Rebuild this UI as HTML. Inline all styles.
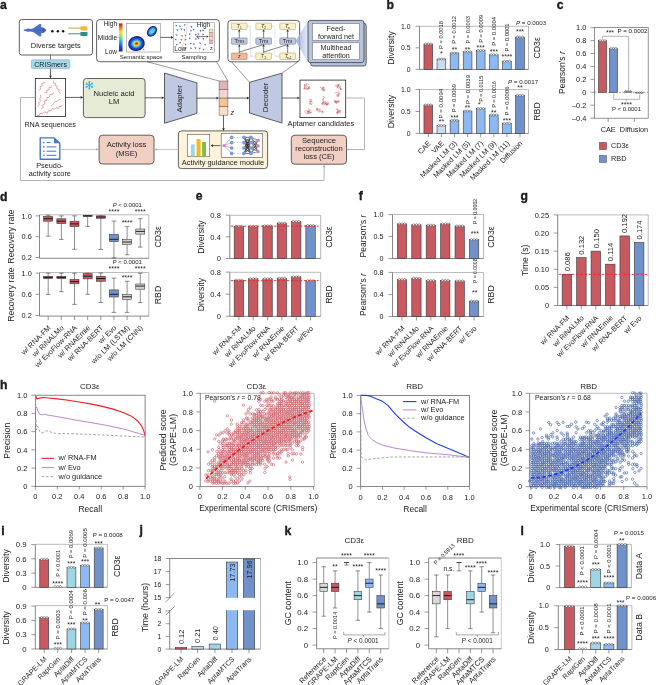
<!DOCTYPE html>
<html><head><meta charset="utf-8"><style>
html,body{margin:0;padding:0;background:#fff;width:656px;height:685px;overflow:hidden}
svg{display:block;will-change:transform}
text{font-family:"Liberation Sans", sans-serif;fill:#222}
</style></head><body>
<svg width="656" height="685" viewBox="0 0 656 685">
<rect width="656" height="685" fill="#fff"/>
<text x="0" y="8.9" font-size="12.2" font-weight="bold" fill="#000" stroke="#000" stroke-width="0.3">a</text>
<rect x="19.3" y="19.5" width="73.2" height="35.5" fill="#fff" stroke="#3a3a3a" stroke-width="0.8" rx="2.5"/>
<path d="M23.6,30.2 C23.6,29.4 25.5,29.1 27,28.9 C28,28.4 29.2,28.5 30,29.0 C31,28.9 32,28.7 33.2,28.3 L39.2,24.2 C40.2,23.8 41.2,24.2 41.4,25.0 L41.0,27.2 C43.5,27.4 46.2,28.6 46.2,30.2 C46.2,31.8 43.5,33.0 41.0,33.2 L41.4,35.4 C41.2,36.2 40.2,36.6 39.2,36.2 L33.2,32.1 C32,31.7 31,31.5 30,31.4 C29.2,31.9 28,32.0 27,31.5 C25.5,31.3 23.6,31.0 23.6,30.2 Z" fill="#4a70c8" />
<path d="M35,30.2 L44.5,30.2" fill="none" stroke="#3558a8" stroke-width="0.6" />
<circle cx="43.3" cy="30.2" r="1.5" fill="#3a5cb0"/>
<circle cx="52.4" cy="31.2" r="1.2" fill="#111"/>
<circle cx="57.9" cy="31.2" r="1.2" fill="#111"/>
<circle cx="63.1" cy="31.2" r="1.2" fill="#111"/>
<line x1="68.3" y1="28.1" x2="81" y2="28.1" stroke="#d8902c" stroke-width="0.9"/>
<rect x="80.4" y="26.3" width="7.1" height="4.1" fill="#f4b843" rx="0.6"/>
<line x1="68.3" y1="33.8" x2="81" y2="33.8" stroke="#2f7f78" stroke-width="0.9"/>
<rect x="80.4" y="31.9" width="7.1" height="4" fill="#2d8f86" rx="0.6"/>
<text x="55.8" y="47.5" font-size="7.45" text-anchor="middle" fill="#2a2a2a">Diverse targets</text>
<line x1="50.5" y1="55" x2="50.5" y2="59.8" stroke="#3a3a3a" stroke-width="0.7"/>
<rect x="31.3" y="59.8" width="38.5" height="8.8" fill="#a9d8ea" stroke="#6a9db5" stroke-width="0.5" rx="1.5"/>
<text x="50.6" y="66.5" font-size="7.1" text-anchor="middle" fill="#2a2a2a">CRISmers</text>
<line x1="50.5" y1="68.6" x2="50.5" y2="75.8" stroke="#222" stroke-width="0.7"/>
<polygon points="50.5,78.2 49.2,75.8 51.8,75.8" fill="#222"/>
<rect x="35.3" y="78.4" width="30.3" height="38.1" fill="#fff" stroke="#222" stroke-width="0.8"/>
<polyline points="38.57,90.07 40.76,89.09 40.04,86.81 42.19,85.91 41.65,83.69 43.85,83.11 44,81.3" fill="none" stroke="#d4585a" stroke-width="0.55" stroke-linejoin="round"/>
<polyline points="44.35,92.32 46.65,92.35 46.75,90.05 49.15,89.97 48.85,87.66 51.15,87.24 51.5,85.4" fill="none" stroke="#d4585a" stroke-width="0.55" stroke-linejoin="round"/>
<polyline points="53.78,80.58 53.27,82.8 55.48,83.33 54.97,85.55 57.19,86.1 56.81,88.65 59.19,89.6 58.86,92.2 60.6,93.6" fill="none" stroke="#d4585a" stroke-width="0.55" stroke-linejoin="round"/>
<polyline points="37.53,106.53 39.14,104.97 38.86,102.73 40.5,101.04 39.67,98.89 40.83,96.91 40.5,94.8" fill="none" stroke="#d4585a" stroke-width="0.55" stroke-linejoin="round"/>
<polyline points="41.06,108.89 43.34,107.58 42.66,105.04 44.94,103.73 44.38,101 46.96,100.33 47.04,97.67 49.53,97.1 50.03,94.5 52.67,94.3 53.7,92.3" fill="none" stroke="#d4585a" stroke-width="0.55" stroke-linejoin="round"/>
<polyline points="50.98,105.9 53.32,104.25 54.87,101.73 57,101.33 58.6,99.87 60.6,99.2" fill="none" stroke="#d4585a" stroke-width="0.55" stroke-linejoin="round"/>
<polyline points="36.7,115.11 39.13,115.56 39.97,113.24 42.08,113.8 44.42,111.95 47.43,113.17 48.4,110.66 51.1,110.84 52.36,108.21 54.48,109.45 56.02,107.55 58.45,108.66 59.05,106.31 61.45,106.59 62.5,104.9" fill="none" stroke="#d4585a" stroke-width="0.55" stroke-linejoin="round"/>
<text x="50.2" y="126.7" font-size="7.2" text-anchor="middle" fill="#2a2a2a">RNA sequences</text>
<line x1="65.6" y1="97.4" x2="80.6" y2="97.4" stroke="#222" stroke-width="0.7"/>
<polygon points="83.2,97.4 80.6,98.7 80.6,96.1" fill="#222"/>
<rect x="83.4" y="78.5" width="61.7" height="39.1" fill="#e6ebd6" stroke="#3a3a3a" stroke-width="0.8" rx="3"/>
<line x1="89.3" y1="85.3" x2="92.94" y2="87.4" stroke="#2aaee4" stroke-width="1"/>
<line x1="91.55" y1="86.6" x2="92.99" y2="86.19" stroke="#2aaee4" stroke-width="0.7"/>
<line x1="91.55" y1="86.6" x2="91.92" y2="88.05" stroke="#2aaee4" stroke-width="0.7"/>
<line x1="89.3" y1="85.3" x2="89.3" y2="89.5" stroke="#2aaee4" stroke-width="1"/>
<line x1="89.3" y1="87.9" x2="90.38" y2="88.95" stroke="#2aaee4" stroke-width="0.7"/>
<line x1="89.3" y1="87.9" x2="88.22" y2="88.95" stroke="#2aaee4" stroke-width="0.7"/>
<line x1="89.3" y1="85.3" x2="85.66" y2="87.4" stroke="#2aaee4" stroke-width="1"/>
<line x1="87.05" y1="86.6" x2="86.68" y2="88.05" stroke="#2aaee4" stroke-width="0.7"/>
<line x1="87.05" y1="86.6" x2="85.61" y2="86.19" stroke="#2aaee4" stroke-width="0.7"/>
<line x1="89.3" y1="85.3" x2="85.66" y2="83.2" stroke="#2aaee4" stroke-width="1"/>
<line x1="87.05" y1="84" x2="85.61" y2="84.41" stroke="#2aaee4" stroke-width="0.7"/>
<line x1="87.05" y1="84" x2="86.68" y2="82.55" stroke="#2aaee4" stroke-width="0.7"/>
<line x1="89.3" y1="85.3" x2="89.3" y2="81.1" stroke="#2aaee4" stroke-width="1"/>
<line x1="89.3" y1="82.7" x2="88.22" y2="81.65" stroke="#2aaee4" stroke-width="0.7"/>
<line x1="89.3" y1="82.7" x2="90.38" y2="81.65" stroke="#2aaee4" stroke-width="0.7"/>
<line x1="89.3" y1="85.3" x2="92.94" y2="83.2" stroke="#2aaee4" stroke-width="1"/>
<line x1="91.55" y1="84" x2="91.92" y2="82.55" stroke="#2aaee4" stroke-width="0.7"/>
<line x1="91.55" y1="84" x2="92.99" y2="84.41" stroke="#2aaee4" stroke-width="0.7"/>
<text x="114" y="95.5" font-size="7.65" text-anchor="middle" fill="#2a2a2a">Nucleic acid</text>
<text x="114" y="104.4" font-size="7.65" text-anchor="middle" fill="#2a2a2a">LM</text>
<line x1="145.1" y1="97.8" x2="161.7" y2="97.8" stroke="#222" stroke-width="0.7"/>
<polygon points="164.3,97.8 161.7,99.1 161.7,96.5" fill="#222"/>
<polygon points="164.5,73 196.9,82.9 196.9,113.4 164.5,123.3" fill="#c0c9e2" stroke="#3a3a3a" stroke-width="0.8" stroke-linejoin="round"/>
<text x="182.21" y="98.9" font-size="7.8" text-anchor="middle" transform="rotate(-90 182.21 98.9)" fill="#2a2a2a">Adapter</text>
<line x1="196.9" y1="98.1" x2="216.4" y2="98.1" stroke="#222" stroke-width="0.7"/>
<polygon points="219,98.1 216.4,99.4 216.4,96.8" fill="#222"/>
<rect x="219.1" y="81" width="8.8" height="8.55" fill="#e3b3b4" stroke="#555" stroke-width="0.5"/>
<rect x="219.1" y="89.55" width="8.8" height="8.55" fill="#f2d5d7" stroke="#555" stroke-width="0.5"/>
<rect x="219.1" y="98.1" width="8.8" height="8.55" fill="#f7c390" stroke="#555" stroke-width="0.5"/>
<rect x="219.1" y="106.65" width="8.8" height="8.55" fill="#fbe0c4" stroke="#555" stroke-width="0.5"/>
<text x="230.4" y="115" font-size="7" fill="#333" font-style="italic">z</text>
<line x1="223.5" y1="115.2" x2="223.5" y2="128.3" stroke="#222" stroke-width="0.7"/>
<polygon points="223.5,130.9 222.2,128.3 224.8,128.3" fill="#222"/>
<line x1="227.9" y1="98.1" x2="246.9" y2="98.1" stroke="#222" stroke-width="0.7"/>
<polygon points="249.5,98.1 246.9,99.4 246.9,96.8" fill="#222"/>
<polygon points="249.5,82.3 282,73.2 282,123.1 249.5,113" fill="#c0c9e2" stroke="#3a3a3a" stroke-width="0.8" stroke-linejoin="round"/>
<text x="268.01" y="97.5" font-size="7.8" text-anchor="middle" transform="rotate(-90 268.01 97.5)" fill="#2a2a2a">Decoder</text>
<line x1="282" y1="98" x2="297.4" y2="98" stroke="#222" stroke-width="0.7"/>
<polygon points="300,98 297.4,99.3 297.4,96.7" fill="#222"/>
<rect x="300" y="80.1" width="45.7" height="37.5" fill="#fff" stroke="#222" stroke-width="0.8"/>
<polyline points="306.8,87.5 307.26,88.1 307.38,88.83 308.13,88.86 308.88,88.97 309.6,88.76 309.5,88.01 309.42,87.27 308.67,87.28 307.94,87.44 307.97,88.19 308.7,88.36 309.45,88.36 309.06,87.71 308.32,87.84 307.95,88.49 307.35,88.94 306.82,88.41 306.44,87.77 305.87,87.28 306.32,86.69 305.79,86.16 306.05,85.46 305.81,84.75 305.06,84.67 304.73,85.34 304.85,86.08 304.28,86.57 304.4,87.31 304.33,88.06 303.95,88.7 303.85,89.44 304.06,88.72 304.73,89.05 305.17,88.44 304.93,87.73 305.12,87.01 305.13,86.26 304.73,85.63 304.51,84.91 304.18,84.23 304.85,84.58 304.96,85.32 304.6,85.98 304.85,86.69 304.91,87.44 304.92,88.19 304.22,88.47 304.93,88.73 305.64,88.49 305.9,89.19 306.65,89.19 307.37,88.98 308.01,89.38 308.65,88.98 309.27,88.55 308.91,87.9 308.93,87.15 309.51,86.67 308.84,87 308.29,86.49 307.55,86.38 307.01,85.85 306.66,85.19 306.48,84.46 306.21,83.76 306.7,83.2 307.33,83.6 307.99,83.94 308.4,84.58 309.09,84.28" fill="none" stroke="#c4504e" stroke-width="0.4" stroke-linejoin="round"/>
<polyline points="320,88 320.12,87.26 320.86,87.39 321.13,88.09 321.79,88.45 322.53,88.56 323.11,89.04 323.61,88.48 324.04,87.86 323.71,87.19 322.96,87.27 322.92,88.02 322.33,88.48 322.54,89.2 323.2,89.55 323.95,89.65 324.13,90.38 323.38,90.4 322.64,90.53 321.89,90.55 321.62,89.85 322.08,89.25 322.81,89.44 323.48,89.1 324.04,88.6 324.32,87.91 323.57,87.87 323.53,87.13 322.83,86.84 322.23,87.29 322.18,88.03 322.71,88.57 323.26,89.07 323.65,89.71 324.37,89.91 324.19,90.64 324.2,91.39 323.88,90.71 323.72,89.97 324.43,89.73 323.71,89.52" fill="none" stroke="#c4504e" stroke-width="0.4" stroke-linejoin="round"/>
<polyline points="337.6,87.1 336.93,86.76 336.55,86.11 335.86,86.4 335.38,85.82 335.54,85.09 336.28,84.97 336.81,85.5 337.48,85.83 338.23,85.92 338.54,85.24 339.11,84.75 338.72,84.1 338.01,84.37 337.81,85.09 338.34,85.61 339.07,85.8 339.36,85.11 338.66,84.84 338.11,85.35 338.44,86.02 339.02,86.5 339.52,85.94 340.22,86.21 340.78,86.71 340.09,87 339.81,87.69 339.89,88.44 340.27,89.08 341.01,88.95 340.57,88.35 341.18,87.91 340.62,88.41 340.09,88.94 340.48,89.58 341.2,89.4 340.65,89.91 340.71,89.16 341.38,88.84 341.35,89.59 340.61,89.52 340.58,88.78 340.61,88.03 339.95,87.67 339.34,87.23 338.87,87.81 338.34,88.35 337.79,87.85 338.03,87.14 338.64,86.7 338.78,85.97 338.61,85.24 337.89,85.04 337.57,84.36 337.81,85.07 337.41,85.7 337.4,86.45 337.97,86.94 337.87,87.68 337.12,87.59 336.88,86.89" fill="none" stroke="#c4504e" stroke-width="0.4" stroke-linejoin="round"/>
<polyline points="336.1,95 336.83,94.85 337.47,95.25 338.18,95.02 338.91,94.84 339.47,94.34 339.02,93.75 338.4,94.17 338.19,94.89 338.55,95.55 338.46,96.29 337.71,96.28 336.97,96.4 336.73,95.69 337.44,95.44 337.77,96.12 338.35,96.59 339.08,96.43 339.43,95.77 339.08,95.1 338.34,95 337.69,94.62 337.87,93.89 338.6,93.72 339.32,93.49 340.06,93.63 339.75,92.95 339.01,93.09 338.3,92.84 338.35,92.09 337.73,92.51 337,92.36 336.26,92.26 335.79,92.84 335.04,92.82 334.38,93.18" fill="none" stroke="#c4504e" stroke-width="0.4" stroke-linejoin="round"/>
<polyline points="309.4,101.5 310.13,101.69 310.87,101.63 311.57,101.34 311.95,101.99 311.81,102.73 312.38,103.21 311.72,103.56 311.75,104.31 311.04,104.55 310.45,104.08 309.78,104.42 309.15,104.01 309.54,103.37 310.19,102.99 310.6,102.36 311.09,101.8 310.76,101.13 310.08,101.45 309.72,100.79 309.7,100.04 309.75,99.29 310.49,99.2 311.2,98.95 311.69,99.52 311.45,100.23 311.87,100.85 311.14,100.72 310.47,101.06 310.28,101.79 309.9,102.43 310.07,103.16 310.43,103.82 311.17,103.75 311.44,104.45 311.99,104.95" fill="none" stroke="#c4504e" stroke-width="0.4" stroke-linejoin="round"/>
<polyline points="323.9,100.9 323.15,100.9 322.95,100.18 322.57,99.53 323.11,99.01 323.66,98.5 324.25,98.04 324.88,97.63 324.49,96.99 323.98,96.43 323.24,96.57 323.39,97.31 322.88,97.85 323.09,98.57 323.37,99.27 323.12,99.97 322.74,100.62 322.77,101.37 322.75,102.12 322.59,102.86 321.92,103.19 322.03,103.93 322,104.68 322.51,105.22 323.26,105.3 322.84,104.68 322.43,104.05 322.15,103.35 322.48,102.68 323.21,102.83 323.96,102.84 324.66,103.12 325.35,103.41 326.03,103.73 326.4,104.38 326.87,104.97 326.47,104.34 326.02,103.73 326.55,103.2 327.29,103.08 327.66,103.73 327.08,104.2 326.98,104.95 327.22,104.23 327.96,104.36 328.19,105.07 327.44,105 327.77,104.32 327.97,103.6 327.3,103.26 326.6,103.53 326.71,104.27 326.43,104.96 325.71,105.17 325.3,104.54 324.56,104.62 323.93,104.21 323.58,103.55 322.83,103.59 322.54,102.89 323.21,102.55 323.36,101.82 324.11,101.88 324.84,101.7 325.56,101.48 325.77,102.2 325.25,102.74 325.48,103.45 325.85,104.1 326.2,104.77 326.83,105.18 327.52,104.89 327.94,104.27 328.66,104.07 328.49,103.34 328.45,102.59 328.26,101.87 327.53,102.03 326.99,102.55 326.28,102.81 325.57,103.05 325.68,103.79 324.95,103.92 324.4,103.4 324.88,102.83 324.47,102.2 323.75,102.01 323.49,102.72 322.78,102.96 322.42,103.62 322.89,104.2" fill="none" stroke="#c4504e" stroke-width="0.4" stroke-linejoin="round"/>
<polyline points="336.1,103.5 335.59,102.95 335.8,102.23 335.44,101.57 334.69,101.6 334.49,100.88 334.52,101.63 334.11,102.25 334.6,102.82 335.23,102.41 335.98,102.44 336.72,102.28 336.72,101.53 337.46,101.41 338.18,101.6 338.44,102.31 339.18,102.23 338.8,101.58 338.09,101.84 337.57,101.3 336.98,100.84 336.24,100.73 335.53,100.5 335.44,101.25 335.89,101.85 336.62,101.67 337.36,101.54 337.76,100.91 338.23,101.49 338.97,101.35 338.92,100.6 339.56,101 338.81,101.03 338.22,101.5 337.48,101.38 336.83,101.75 336.17,102.11 336.15,102.86 336.48,103.53 337.17,103.22 337.42,102.51 336.72,102.25 336.38,101.58 336.16,100.86 335.44,100.66 334.7,100.51 334.69,101.26 335.4,101.5 335.56,102.23 335.89,102.91 336.22,103.58" fill="none" stroke="#c4504e" stroke-width="0.4" stroke-linejoin="round"/>
<polyline points="307.9,110.8 308.04,110.06 308.19,109.33 308.74,108.81 309.27,109.34 309.99,109.55 310.16,110.28 309.85,110.96 309.27,111.44 308.87,112.08 308.82,112.82 309.55,112.99 309.98,112.37 309.46,111.83 309.46,111.08 308.93,110.55 308.21,110.76 308.24,111.51 307.6,111.88 307,111.42 306.74,110.72 306.08,110.35 305.37,110.59 304.95,111.21 304.61,111.88 305.06,112.48 305.6,113 306.35,113.01 306.41,113.76 307.15,113.65 307.9,113.66 308.42,113.11 309,113.58 309.75,113.64 310.45,113.35 310.14,112.67 309.61,112.14 309.03,111.66 308.46,111.17 307.74,111.36 307.01,111.54 307.19,112.26 307.83,112.66 308.38,112.15 308.74,111.5 308.12,111.07 307.67,111.67 307.65,112.42 308.21,112.92 308.6,113.56 308.27,112.89 308.51,112.18 309.07,111.68 309.82,111.65 310.11,112.34 310.62,112.89 311.35,113.09 311.53,112.36 310.95,111.88 310.83,111.14 311.06,110.42" fill="none" stroke="#c4504e" stroke-width="0.4" stroke-linejoin="round"/>
<polyline points="320.1,110.8 320.27,111.53 319.62,111.92 318.88,112.02 318.27,111.58 318.3,110.83 317.63,110.5 316.98,110.12 316.35,109.72 316.38,108.97 317.03,108.59 317.68,108.95 318.22,109.47 317.89,110.14 317.25,110.52 316.5,110.45 317.03,109.93 316.55,109.36 317.26,109.13 317.81,108.62 317.49,107.94 317.05,108.55 316.5,109.06 317.2,108.81 317.95,108.85 318.56,109.29 319.18,109.72 319.59,109.09 320.34,109.06 320.88,109.58 321.42,110.1 321.9,110.68 322.03,111.42 322.78,111.42 323.33,111.94 322.58,111.96 322.45,112.7 322.85,113.33 322.97,112.59 322.44,112.06 322.43,111.31 323.18,111.26 322.43,111.32 321.76,111.65 321.11,112.03 320.36,111.99 319.91,111.39 319.7,110.67 319.83,109.93 319.14,109.65 318.58,110.15" fill="none" stroke="#c4504e" stroke-width="0.4" stroke-linejoin="round"/>
<polyline points="337.6,111.5 337.06,112.02 336.93,112.76 336.64,113.45 337.33,113.75 337.74,113.12 337.61,112.38 337.89,111.68 338.51,111.27 339.26,111.26 339.85,110.79 340.45,110.34 341,109.84 340.51,110.4 340.87,111.06 340.35,111.6 340.51,112.34 339.78,112.52 339.47,111.83 338.78,112.12 338.13,112.5 337.47,112.14 337.78,111.45 337.98,110.73 337.64,110.06 336.9,109.94 336.91,109.19 336.32,108.73 336.77,109.33 337.51,109.16 338.25,109.06 338.44,109.78 339.19,109.88 339.49,110.57 339.77,111.26 339.21,111.75 338.46,111.81 338.01,112.41 337.3,112.15 336.59,111.93 336.33,112.64 337.04,112.88 337.75,113.11 338.5,113.22 339.16,112.87 339.11,112.12 338.71,111.49 338.03,111.18 337.98,110.43 337.23,110.5 336.66,110.01" fill="none" stroke="#c4504e" stroke-width="0.4" stroke-linejoin="round"/>
<text x="320.8" y="126.2" font-size="7.5" text-anchor="middle" fill="#2a2a2a">Aptamer candidates</text>
<polyline points="345.7,98 364.5,98 364.5,149.5 349,149.5" fill="none" stroke="#a8a8a8" stroke-width="0.85" stroke-linejoin="round"/>
<polygon points="346.6,149.4 349.2,148.2 349.2,150.6" fill="#a8a8a8"/>
<rect x="291.3" y="135.2" width="55.2" height="29" fill="#f2cfc3" stroke="#3a3a3a" stroke-width="0.8" rx="3.5"/>
<text x="319" y="143.2" font-size="7.55" text-anchor="middle" fill="#2a2a2a">Sequence</text>
<text x="319" y="151.3" font-size="7.55" text-anchor="middle" fill="#2a2a2a">reconstruction</text>
<text x="319" y="159.4" font-size="7.55" text-anchor="middle" fill="#2a2a2a">loss (CE)</text>
<rect x="178.4" y="130.9" width="89.2" height="37.7" fill="#fdf2da" stroke="#3a3a3a" stroke-width="0.8" rx="3"/>
<rect x="187.3" y="134.3" width="22.4" height="22.3" fill="#fff" stroke="#555" stroke-width="0.6"/>
<rect x="190.9" y="144.4" width="3.9" height="11.9" fill="#9fd6e6"/>
<rect x="196.6" y="139.1" width="4" height="17.2" fill="#f6b910"/>
<rect x="202.1" y="142" width="3.9" height="14.3" fill="#7cc043"/>
<line x1="220.5" y1="145.6" x2="213" y2="145.6" stroke="#222" stroke-width="0.7"/>
<polygon points="210.6,145.6 213,144.3 213,146.9" fill="#222"/>
<rect x="221.2" y="133.4" width="41.5" height="24" fill="#fff" stroke="#555" stroke-width="0.6"/>
<line x1="224" y1="145.6" x2="231.7" y2="137.3" stroke="#333" stroke-width="0.35"/>
<circle cx="234.8" cy="137.3" r="0.35" fill="#555"/>
<circle cx="237.4" cy="137.3" r="0.35" fill="#555"/>
<circle cx="240" cy="137.3" r="0.35" fill="#555"/>
<line x1="224" y1="145.6" x2="231.7" y2="142.6" stroke="#333" stroke-width="0.35"/>
<circle cx="234.8" cy="142.6" r="0.35" fill="#555"/>
<circle cx="237.4" cy="142.6" r="0.35" fill="#555"/>
<circle cx="240" cy="142.6" r="0.35" fill="#555"/>
<line x1="224" y1="145.6" x2="231.7" y2="148" stroke="#333" stroke-width="0.35"/>
<circle cx="234.8" cy="148" r="0.35" fill="#555"/>
<circle cx="237.4" cy="148" r="0.35" fill="#555"/>
<circle cx="240" cy="148" r="0.35" fill="#555"/>
<line x1="224" y1="145.6" x2="231.7" y2="153.4" stroke="#333" stroke-width="0.35"/>
<circle cx="234.8" cy="153.4" r="0.35" fill="#555"/>
<circle cx="237.4" cy="153.4" r="0.35" fill="#555"/>
<circle cx="240" cy="153.4" r="0.35" fill="#555"/>
<line x1="243.9" y1="137.3" x2="250.9" y2="137.3" stroke="#000" stroke-width="0.6"/>
<line x1="243.9" y1="137.3" x2="250.9" y2="142.6" stroke="#000" stroke-width="0.6"/>
<line x1="243.9" y1="137.3" x2="250.9" y2="148" stroke="#000" stroke-width="0.6"/>
<line x1="243.9" y1="137.3" x2="250.9" y2="153.4" stroke="#000" stroke-width="0.6"/>
<line x1="250.9" y1="137.3" x2="258.2" y2="140.4" stroke="#111" stroke-width="0.5"/>
<line x1="250.9" y1="137.3" x2="258.2" y2="145.9" stroke="#111" stroke-width="0.5"/>
<line x1="250.9" y1="137.3" x2="258.2" y2="151.7" stroke="#111" stroke-width="0.5"/>
<line x1="243.9" y1="142.6" x2="250.9" y2="137.3" stroke="#000" stroke-width="0.6"/>
<line x1="243.9" y1="142.6" x2="250.9" y2="142.6" stroke="#000" stroke-width="0.6"/>
<line x1="243.9" y1="142.6" x2="250.9" y2="148" stroke="#000" stroke-width="0.6"/>
<line x1="243.9" y1="142.6" x2="250.9" y2="153.4" stroke="#000" stroke-width="0.6"/>
<line x1="250.9" y1="142.6" x2="258.2" y2="140.4" stroke="#111" stroke-width="0.5"/>
<line x1="250.9" y1="142.6" x2="258.2" y2="145.9" stroke="#111" stroke-width="0.5"/>
<line x1="250.9" y1="142.6" x2="258.2" y2="151.7" stroke="#111" stroke-width="0.5"/>
<line x1="243.9" y1="148" x2="250.9" y2="137.3" stroke="#000" stroke-width="0.6"/>
<line x1="243.9" y1="148" x2="250.9" y2="142.6" stroke="#000" stroke-width="0.6"/>
<line x1="243.9" y1="148" x2="250.9" y2="148" stroke="#000" stroke-width="0.6"/>
<line x1="243.9" y1="148" x2="250.9" y2="153.4" stroke="#000" stroke-width="0.6"/>
<line x1="250.9" y1="148" x2="258.2" y2="140.4" stroke="#111" stroke-width="0.5"/>
<line x1="250.9" y1="148" x2="258.2" y2="145.9" stroke="#111" stroke-width="0.5"/>
<line x1="250.9" y1="148" x2="258.2" y2="151.7" stroke="#111" stroke-width="0.5"/>
<line x1="243.9" y1="153.4" x2="250.9" y2="137.3" stroke="#000" stroke-width="0.6"/>
<line x1="243.9" y1="153.4" x2="250.9" y2="142.6" stroke="#000" stroke-width="0.6"/>
<line x1="243.9" y1="153.4" x2="250.9" y2="148" stroke="#000" stroke-width="0.6"/>
<line x1="243.9" y1="153.4" x2="250.9" y2="153.4" stroke="#000" stroke-width="0.6"/>
<line x1="250.9" y1="153.4" x2="258.2" y2="140.4" stroke="#111" stroke-width="0.5"/>
<line x1="250.9" y1="153.4" x2="258.2" y2="145.9" stroke="#111" stroke-width="0.5"/>
<line x1="250.9" y1="153.4" x2="258.2" y2="151.7" stroke="#111" stroke-width="0.5"/>
<circle cx="231.7" cy="137.3" r="1.85" fill="#7b9ad6"/>
<circle cx="243.9" cy="137.3" r="1.85" fill="#7b9ad6"/>
<circle cx="250.9" cy="137.3" r="1.85" fill="#7b9ad6"/>
<circle cx="231.7" cy="142.6" r="1.85" fill="#7b9ad6"/>
<circle cx="243.9" cy="142.6" r="1.85" fill="#7b9ad6"/>
<circle cx="250.9" cy="142.6" r="1.85" fill="#7b9ad6"/>
<circle cx="231.7" cy="148" r="1.85" fill="#7b9ad6"/>
<circle cx="243.9" cy="148" r="1.85" fill="#7b9ad6"/>
<circle cx="250.9" cy="148" r="1.85" fill="#7b9ad6"/>
<circle cx="231.7" cy="153.4" r="1.85" fill="#7b9ad6"/>
<circle cx="243.9" cy="153.4" r="1.85" fill="#7b9ad6"/>
<circle cx="250.9" cy="153.4" r="1.85" fill="#7b9ad6"/>
<circle cx="258.2" cy="140.4" r="1.6" fill="#d77fcf"/>
<circle cx="258.2" cy="145.9" r="1.6" fill="#d77fcf"/>
<circle cx="258.2" cy="151.7" r="1.6" fill="#d77fcf"/>
<circle cx="224" cy="145.6" r="1.6" fill="#d77fcf"/>
<text x="223" y="165.3" font-size="7.45" text-anchor="middle" fill="#2a2a2a">Activity guidance module</text>
<rect x="99.1" y="135.2" width="54.9" height="28.8" fill="#f2cfc3" stroke="#3a3a3a" stroke-width="0.8" rx="3.5"/>
<text x="126.5" y="147.4" font-size="7.55" text-anchor="middle" fill="#2a2a2a">Activity loss</text>
<text x="126.5" y="156.2" font-size="7.55" text-anchor="middle" fill="#2a2a2a">(MSE)</text>
<line x1="178.4" y1="149.4" x2="157" y2="149.4" stroke="#a8a8a8" stroke-width="0.7"/>
<polygon points="154.2,149.4 157,148.2 157,150.6" fill="#a8a8a8"/>
<line x1="61" y1="149.4" x2="96.5" y2="149.4" stroke="#a8a8a8" stroke-width="0.7"/>
<polygon points="99,149.4 96.2,148.2 96.2,150.6" fill="#a8a8a8"/>
<path d="M40.2,137.9 L54.2,137.9 L59.8,143.3 L59.8,159.2 L40.2,159.2 Z" fill="#fff" stroke="#3f76d1" stroke-width="1.4" stroke-linejoin="round"/>
<path d="M54.0,138.2 L54.0,143.3 L59.6,143.3 Z" fill="#3f76d1" />
<circle cx="43.9" cy="142.6" r="0.8" fill="#3f76d1"/>
<line x1="46.6" y1="142.6" x2="50.4" y2="142.6" stroke="#3f76d1" stroke-width="1"/>
<circle cx="43.9" cy="146.9" r="0.8" fill="#3f76d1"/>
<line x1="46.6" y1="146.9" x2="56.4" y2="146.9" stroke="#3f76d1" stroke-width="1"/>
<circle cx="43.9" cy="151.2" r="0.8" fill="#3f76d1"/>
<line x1="46.6" y1="151.2" x2="56.4" y2="151.2" stroke="#3f76d1" stroke-width="1"/>
<circle cx="43.9" cy="155.3" r="0.8" fill="#3f76d1"/>
<line x1="46.6" y1="155.3" x2="56.4" y2="155.3" stroke="#3f76d1" stroke-width="1"/>
<text x="49.8" y="167.6" font-size="7.3" text-anchor="middle" fill="#2a2a2a">Pseudo-</text>
<text x="49.8" y="175.7" font-size="7.3" text-anchor="middle" fill="#2a2a2a">activity score</text>
<polyline points="35.3,97.5 20.5,97.5 20.5,180.5 324.1,180.5 324.1,167" fill="none" stroke="#a8a8a8" stroke-width="0.85" stroke-linejoin="round"/>
<polygon points="324.1,164.4 322.9,167.2 325.3,167.2" fill="#a8a8a8"/>
<rect x="96.6" y="19.6" width="122.8" height="42.1" fill="#fff" stroke="#3a3a3a" stroke-width="0.8" rx="3"/>
<defs><linearGradient id="jet" x1="0" y1="1" x2="0" y2="0"><stop offset="0" stop-color="#1a1aa8"/><stop offset="0.2" stop-color="#1f5fe0"/><stop offset="0.4" stop-color="#28c8e8"/><stop offset="0.55" stop-color="#a8e050"/><stop offset="0.7" stop-color="#f8e020"/><stop offset="0.85" stop-color="#f87018"/><stop offset="1" stop-color="#d01018"/></linearGradient><radialGradient id="blob1"><stop offset="0" stop-color="#e01010"/><stop offset="0.25" stop-color="#f8d020"/><stop offset="0.45" stop-color="#40d0e0"/><stop offset="0.65" stop-color="#2050d8"/><stop offset="0.85" stop-color="#1a2aa0"/><stop offset="1" stop-color="#1a2aa0" stop-opacity="0"/></radialGradient><radialGradient id="blob2"><stop offset="0" stop-color="#50d8c8"/><stop offset="0.4" stop-color="#40b8e0"/><stop offset="0.7" stop-color="#2050d0"/><stop offset="0.9" stop-color="#1a2aa0"/><stop offset="1" stop-color="#1a2aa0" stop-opacity="0"/></radialGradient><linearGradient id="shade" x1="0" y1="0" x2="1" y2="0"><stop offset="0" stop-color="#8fa3d6" stop-opacity="0.9"/><stop offset="1" stop-color="#c8d2ec" stop-opacity="0.5"/></linearGradient></defs>
<rect x="119" y="23.4" width="3.5" height="28.1" fill="url(#jet)"/>
<text x="117" y="25.5" font-size="6.5" text-anchor="end" fill="#2a2a2a">High</text>
<text x="117" y="39.9" font-size="6.5" text-anchor="end" fill="#2a2a2a">Middle</text>
<text x="117" y="53.6" font-size="6.5" text-anchor="end" fill="#2a2a2a">Low</text>
<line x1="117.6" y1="23.8" x2="119" y2="23.8" stroke="#555" stroke-width="0.4"/>
<line x1="117.6" y1="37.5" x2="119" y2="37.5" stroke="#555" stroke-width="0.4"/>
<line x1="117.6" y1="51.2" x2="119" y2="51.2" stroke="#555" stroke-width="0.4"/>
<rect x="126.6" y="23.4" width="33.8" height="28.6" fill="#fff" stroke="#8a8a8a" stroke-width="0.6"/>
<ellipse cx="136.4" cy="43.5" rx="8.4" ry="7.4" fill="#1c2590" transform="rotate(-12 136.8 43.4)"/>
<ellipse cx="136.4" cy="43.5" rx="7.0" ry="6.1" fill="#2146c8" transform="rotate(-12 136.8 43.4)"/>
<ellipse cx="136.4" cy="43.5" rx="5.3" ry="4.5" fill="#2f9be0" transform="rotate(-12 136.8 43.4)"/>
<ellipse cx="136.4" cy="43.5" rx="3.9" ry="3.2" fill="#5fd2c8" transform="rotate(-12 136.8 43.4)"/>
<ellipse cx="136.4" cy="43.5" rx="3.0" ry="2.4" fill="#e8e238" transform="rotate(-12 136.8 43.4)"/>
<ellipse cx="136.4" cy="43.5" rx="2.1" ry="1.7" fill="#f39020" transform="rotate(-12 136.8 43.4)"/>
<ellipse cx="136.4" cy="43.5" rx="1.3" ry="1.0" fill="#e01818" transform="rotate(-12 136.8 43.4)"/>
<ellipse cx="152.0" cy="31.3" rx="6.0" ry="4.4" fill="#1c2590" transform="rotate(-50 152.0 31.3)"/>
<ellipse cx="152.0" cy="31.3" rx="4.8" ry="3.3" fill="#2a6ad0" transform="rotate(-50 152.0 31.3)"/>
<ellipse cx="152.0" cy="31.3" rx="3.6" ry="2.3" fill="#48c0d8" transform="rotate(-50 152.0 31.3)"/>
<ellipse cx="152.0" cy="31.3" rx="2.4" ry="1.5" fill="#60d2c0" transform="rotate(-50 152.0 31.3)"/>
<circle cx="143.8" cy="49.6" r="0.5" fill="#1c2590"/>
<text x="141.2" y="59" font-size="6" text-anchor="middle" fill="#2a2a2a">Semantic space</text>
<line x1="160.4" y1="37.4" x2="171" y2="37.4" stroke="#222" stroke-width="0.7"/>
<polygon points="173.4,37.4 171,38.7 171,36.1" fill="#222"/>
<rect x="173.4" y="22.7" width="41.1" height="29.7" fill="#fff" stroke="#8a8a8a" stroke-width="0.6"/>
<polygon points="175.29,24.74 177.39,25.44 176.09,26.84" fill="#3b69c4"/>
<polygon points="176.42,29.12 178.52,29.82 177.22,31.22" fill="#3b69c4"/>
<polygon points="175.42,34.01 177.52,34.71 176.22,36.11" fill="#3b69c4"/>
<polygon points="174.64,38.43 176.74,39.13 175.44,40.53" fill="#3b69c4"/>
<polygon points="175.71,43.7 177.81,44.4 176.51,45.8" fill="#3b69c4"/>
<polygon points="179.02,25.34 181.12,26.04 179.82,27.44" fill="#3b69c4"/>
<polygon points="180.46,28.1 182.56,28.8 181.26,30.2" fill="#3b69c4"/>
<polygon points="181.16,34.92 183.26,35.62 181.96,37.02" fill="#3b69c4"/>
<polygon points="180.37,38.68 182.47,39.38 181.17,40.78" fill="#3b69c4"/>
<polygon points="179.18,41.84 181.28,42.54 179.98,43.94" fill="#3b69c4"/>
<polygon points="183.86,23.98 185.96,24.68 184.66,26.08" fill="#3b69c4"/>
<polygon points="183.47,29.11 185.57,29.81 184.27,31.21" fill="#3b69c4"/>
<polygon points="184.46,34.62 186.56,35.32 185.26,36.72" fill="#3b69c4"/>
<polygon points="184.65,38.74 186.75,39.44 185.45,40.84" fill="#3b69c4"/>
<polygon points="184.6,43.39 186.7,44.09 185.4,45.49" fill="#3b69c4"/>
<polygon points="184.5,47.07 186.6,47.77 185.3,49.17" fill="#3b69c4"/>
<polygon points="190.39,25.79 192.49,26.49 191.19,27.89" fill="#3b69c4"/>
<polygon points="190.02,29.7 192.12,30.4 190.82,31.8" fill="#3b69c4"/>
<polygon points="188.76,33.15 190.86,33.85 189.56,35.25" fill="#3b69c4"/>
<polygon points="188.69,37.37 190.79,38.07 189.49,39.47" fill="#3b69c4"/>
<polygon points="189.84,42.76 191.94,43.46 190.64,44.86" fill="#3b69c4"/>
<polygon points="190.03,47.33 192.13,48.03 190.83,49.43" fill="#3b69c4"/>
<polygon points="192.6,28.5 194.7,29.2 193.4,30.6" fill="#3b69c4"/>
<polygon points="194.78,33.73 196.88,34.43 195.58,35.83" fill="#3b69c4"/>
<polygon points="194.95,38.15 197.05,38.85 195.75,40.25" fill="#3b69c4"/>
<polygon points="192.78,43.31 194.88,44.01 193.58,45.41" fill="#3b69c4"/>
<polygon points="194.47,47.05 196.57,47.75 195.27,49.15" fill="#3b69c4"/>
<polygon points="199.51,29.82 201.61,30.52 200.31,31.92" fill="#3b69c4"/>
<polygon points="197.48,33.19 199.58,33.89 198.28,35.29" fill="#3b69c4"/>
<polygon points="197.44,37.34 199.54,38.04 198.24,39.44" fill="#3b69c4"/>
<polygon points="199.11,42.23 201.21,42.93 199.91,44.33" fill="#3b69c4"/>
<polygon points="198.54,47.47 200.64,48.17 199.34,49.57" fill="#3b69c4"/>
<polygon points="202.11,29.54 204.21,30.24 202.91,31.64" fill="#3b69c4"/>
<polygon points="202.08,33.61 204.18,34.31 202.88,35.71" fill="#3b69c4"/>
<polygon points="202.31,37.85 204.41,38.55 203.11,39.95" fill="#3b69c4"/>
<polygon points="204.13,43.73 206.23,44.43 204.93,45.83" fill="#3b69c4"/>
<polygon points="202.53,48.52 204.63,49.22 203.33,50.62" fill="#3b69c4"/>
<path d="M187.5,23.5 C186,29 187.5,33 185,38 C183.5,43 182.5,47 181,52" fill="none" stroke="#f2a0a0" stroke-width="0.4" />
<path d="M207,38 C203.5,40.5 200.5,43.5 199.5,52" fill="none" stroke="#f2a0a0" stroke-width="0.4" />
<circle cx="197.5" cy="36.6" r="1.1" fill="#e02020"/>
<line x1="198.5" y1="36.6" x2="206.6" y2="36.6" stroke="#222" stroke-width="0.6"/>
<polygon points="208.6,36.6 206.6,37.7 206.6,35.5" fill="#222"/>
<text x="203.5" y="27" font-size="6.5" text-anchor="middle" fill="#2a2a2a">High</text>
<text x="174.3" y="51.4" font-size="6.5" fill="#2a2a2a">Low</text>
<rect x="209.3" y="29" width="3.7" height="3.7" fill="#fbe0c2" stroke="#777" stroke-width="0.35"/>
<rect x="209.3" y="32.7" width="3.7" height="3.7" fill="#f7c28e" stroke="#777" stroke-width="0.35"/>
<rect x="209.3" y="36.4" width="3.7" height="3.7" fill="#f5d8d8" stroke="#777" stroke-width="0.35"/>
<rect x="209.3" y="40.1" width="3.7" height="3.7" fill="#e7b4b5" stroke="#777" stroke-width="0.35"/>
<text x="211.2" y="49.6" font-size="5.2" text-anchor="middle" fill="#333">z</text>
<text x="194" y="58.8" font-size="6" text-anchor="middle" fill="#2a2a2a">Sampling</text>
<line x1="147" y1="61.7" x2="219.1" y2="81" stroke="#333" stroke-width="0.5"/>
<line x1="216.5" y1="61.7" x2="227.9" y2="81" stroke="#333" stroke-width="0.5"/>
<line x1="231.5" y1="61.8" x2="249.5" y2="82.3" stroke="#333" stroke-width="0.5"/>
<line x1="298" y1="61.8" x2="282" y2="73.2" stroke="#333" stroke-width="0.5"/>
<rect x="227.9" y="20.4" width="71.7" height="41.4" fill="#fff" stroke="#3a3a3a" stroke-width="0.8" rx="3"/>
<rect x="231.4" y="23" width="15.7" height="6.5" fill="#fbf1c3" stroke="#9a9a80" stroke-width="0.5" rx="0.8"/>
<rect x="231.4" y="37.9" width="15.7" height="6.4" fill="#bdc7e3" stroke="#6a6a80" stroke-width="0.5" rx="0.8"/>
<line x1="239.25" y1="37.9" x2="239.25" y2="31.6" stroke="#111" stroke-width="0.55"/>
<polygon points="239.25,29.6 240.45,31.6 238.05,31.6" fill="#111"/>
<line x1="239.25" y1="53" x2="239.25" y2="46.4" stroke="#111" stroke-width="0.55"/>
<polygon points="239.25,44.4 240.45,46.4 238.05,46.4" fill="#111"/>
<text x="239.25" y="43.2" font-size="5.6" text-anchor="middle" fill="#2a2a2a">Trm</text>
<rect x="255.8" y="23" width="15.7" height="6.5" fill="#fbf1c3" stroke="#9a9a80" stroke-width="0.5" rx="0.8"/>
<rect x="255.8" y="37.9" width="15.7" height="6.4" fill="#bdc7e3" stroke="#6a6a80" stroke-width="0.5" rx="0.8"/>
<line x1="263.65" y1="37.9" x2="263.65" y2="31.6" stroke="#111" stroke-width="0.55"/>
<polygon points="263.65,29.6 264.85,31.6 262.45,31.6" fill="#111"/>
<line x1="263.65" y1="53" x2="263.65" y2="46.4" stroke="#111" stroke-width="0.55"/>
<polygon points="263.65,44.4 264.85,46.4 262.45,46.4" fill="#111"/>
<text x="263.65" y="43.2" font-size="5.6" text-anchor="middle" fill="#2a2a2a">Trm</text>
<rect x="279.8" y="23" width="15.7" height="6.5" fill="#fbf1c3" stroke="#9a9a80" stroke-width="0.5" rx="0.8"/>
<rect x="279.8" y="37.9" width="15.7" height="6.4" fill="#bdc7e3" stroke="#6a6a80" stroke-width="0.5" rx="0.8"/>
<line x1="287.65" y1="37.9" x2="287.65" y2="31.6" stroke="#111" stroke-width="0.55"/>
<polygon points="287.65,29.6 288.85,31.6 286.45,31.6" fill="#111"/>
<line x1="287.65" y1="53" x2="287.65" y2="46.4" stroke="#111" stroke-width="0.55"/>
<polygon points="287.65,44.4 288.85,46.4 286.45,46.4" fill="#111"/>
<text x="287.65" y="43.2" font-size="5.6" text-anchor="middle" fill="#2a2a2a">Trm</text>
<rect x="231.4" y="53" width="15.7" height="6.5" fill="#f0b898" stroke="#9a7060" stroke-width="0.5" rx="0.5"/>
<text x="239.25" y="58.2" font-size="5" text-anchor="middle" fill="#333" font-style="italic">z</text>
<rect x="255.8" y="53" width="15.7" height="6.5" fill="#fbf1c3" stroke="#9a9a80" stroke-width="0.5" rx="0.8"/>
<rect x="279.8" y="53" width="15.7" height="6.5" fill="#fbf1c3" stroke="#9a9a80" stroke-width="0.5" rx="0.8"/>
<text x="238.25" y="28.3" font-size="4.8" text-anchor="middle" fill="#555" font-style="italic">T</text>
<text x="240.85" y="29" font-size="3.2" text-anchor="middle" fill="#555">1</text>
<text x="262.65" y="28.3" font-size="4.8" text-anchor="middle" fill="#555" font-style="italic">T</text>
<text x="265.25" y="29" font-size="3.2" text-anchor="middle" fill="#555">2</text>
<text x="286.65" y="28.3" font-size="4.8" text-anchor="middle" fill="#555" font-style="italic">T</text>
<text x="289.25" y="29" font-size="3.2" text-anchor="middle" fill="#555">n</text>
<text x="262.15" y="58.3" font-size="4.8" text-anchor="middle" fill="#555" font-style="italic">T</text>
<text x="265.25" y="59" font-size="3.2" text-anchor="middle" fill="#555">1</text>
<text x="286.15" y="58.3" font-size="4.8" text-anchor="middle" fill="#555" font-style="italic">T</text>
<text x="289.25" y="59" font-size="3.2" text-anchor="middle" fill="#555">n-1</text>
<line x1="239.25" y1="52" x2="263.65" y2="44.6" stroke="#222" stroke-width="0.55"/>
<line x1="263.65" y1="52" x2="287.65" y2="44.6" stroke="#222" stroke-width="0.55"/>
<polyline points="247.2,26.2 250.2,26.2 250.2,56.2 255.2,56.2" fill="none" stroke="#aaa" stroke-width="0.4" stroke-linejoin="round"/>
<line x1="275" y1="26.2" x2="275" y2="56.2" stroke="#aaa" stroke-width="0.4" stroke-dasharray="1.5,1.2"/>
<polyline points="271.6,26.2 273.5,26.2" fill="none" stroke="#aaa" stroke-width="0.4" stroke-linejoin="round"/>
<polyline points="275,56.2 279.6,56.2" fill="none" stroke="#aaa" stroke-width="0.4" stroke-linejoin="round"/>
<polygon points="295.6,40.8 308,21 308,62.3" fill="url(#shade)"/>
<rect x="310.6" y="23.2" width="55.6" height="42.8" fill="#b8c3df" stroke="#3a3a3a" stroke-width="0.8" rx="2.5"/>
<rect x="308" y="20.4" width="56" height="42.2" fill="#b8c3df" stroke="#3a3a3a" stroke-width="0.8" rx="2.5"/>
<rect x="312.6" y="23.7" width="46.8" height="16.5" fill="#fff" stroke="#666" stroke-width="0.5"/>
<rect x="312.6" y="42.8" width="46.8" height="16.7" fill="#fff" stroke="#666" stroke-width="0.5"/>
<text x="336" y="30.8" font-size="7.2" text-anchor="middle" fill="#2a2a2a">Feed-</text>
<text x="336" y="38.9" font-size="7.2" text-anchor="middle" fill="#2a2a2a">forward net</text>
<text x="336" y="49.7" font-size="7.2" text-anchor="middle" fill="#2a2a2a">Multihead</text>
<text x="336" y="57.6" font-size="7.2" text-anchor="middle" fill="#2a2a2a">attention</text>
<text x="386.4" y="9" font-size="12.2" font-weight="bold" fill="#000" stroke="#000" stroke-width="0.3">b</text>
<line x1="419.5" y1="26.3" x2="528.5" y2="26.3" stroke="#b4b4b4" stroke-width="0.9"/>
<line x1="528.5" y1="26.3" x2="528.5" y2="69.4" stroke="#999" stroke-width="0.7"/>
<line x1="419.5" y1="26.3" x2="419.5" y2="69.4" stroke="#555" stroke-width="0.7"/>
<line x1="419.5" y1="69.4" x2="528.5" y2="69.4" stroke="#555" stroke-width="0.7"/>
<line x1="415.5" y1="26.3" x2="419.5" y2="26.3" stroke="#555" stroke-width="0.6"/>
<text x="410.6" y="28.75" font-size="6.9" text-anchor="end" fill="#2a2a2a">1.0</text>
<line x1="415.5" y1="47.85" x2="419.5" y2="47.85" stroke="#555" stroke-width="0.6"/>
<text x="410.6" y="50.3" font-size="6.9" text-anchor="end" fill="#2a2a2a">0.5</text>
<line x1="415.5" y1="69.4" x2="419.5" y2="69.4" stroke="#555" stroke-width="0.6"/>
<text x="410.6" y="71.85" font-size="6.9" text-anchor="end" fill="#2a2a2a">0</text>
<rect x="423.95" y="43.97" width="8.7" height="25.43" fill="#c75961" stroke="#383838" stroke-width="0.6"/>
<circle cx="425.69" cy="43.97" r="1.05" fill="#fff" stroke="#444" stroke-width="0.45"/>
<circle cx="428.3" cy="43.97" r="1.05" fill="#fff" stroke="#444" stroke-width="0.45"/>
<circle cx="430.91" cy="43.97" r="1.05" fill="#fff" stroke="#444" stroke-width="0.45"/>
<rect x="437.05" y="59.06" width="8.7" height="10.34" fill="#c9dcf5" stroke="#383838" stroke-width="0.6"/>
<circle cx="438.79" cy="59.06" r="1.05" fill="#fff" stroke="#444" stroke-width="0.45"/>
<circle cx="441.4" cy="59.06" r="1.05" fill="#fff" stroke="#444" stroke-width="0.45"/>
<circle cx="444.01" cy="59.06" r="1.05" fill="#fff" stroke="#444" stroke-width="0.45"/>
<rect x="450.15" y="53.02" width="8.7" height="16.38" fill="#8cb9f2" stroke="#383838" stroke-width="0.6"/>
<circle cx="451.89" cy="53.02" r="1.05" fill="#fff" stroke="#444" stroke-width="0.45"/>
<circle cx="454.5" cy="53.02" r="1.05" fill="#fff" stroke="#444" stroke-width="0.45"/>
<circle cx="457.11" cy="53.02" r="1.05" fill="#fff" stroke="#444" stroke-width="0.45"/>
<rect x="463.25" y="51.73" width="8.7" height="17.67" fill="#8cb9f2" stroke="#383838" stroke-width="0.6"/>
<circle cx="464.99" cy="51.73" r="1.05" fill="#fff" stroke="#444" stroke-width="0.45"/>
<circle cx="467.6" cy="51.73" r="1.05" fill="#fff" stroke="#444" stroke-width="0.45"/>
<circle cx="470.21" cy="51.73" r="1.05" fill="#fff" stroke="#444" stroke-width="0.45"/>
<rect x="476.35" y="50.44" width="8.7" height="18.96" fill="#8cb9f2" stroke="#383838" stroke-width="0.6"/>
<circle cx="478.09" cy="50.44" r="1.05" fill="#fff" stroke="#444" stroke-width="0.45"/>
<circle cx="480.7" cy="50.44" r="1.05" fill="#fff" stroke="#444" stroke-width="0.45"/>
<circle cx="483.31" cy="50.44" r="1.05" fill="#fff" stroke="#444" stroke-width="0.45"/>
<rect x="489.45" y="54.75" width="8.7" height="14.65" fill="#8cb9f2" stroke="#383838" stroke-width="0.6"/>
<circle cx="491.19" cy="54.75" r="1.05" fill="#fff" stroke="#444" stroke-width="0.45"/>
<circle cx="493.8" cy="54.75" r="1.05" fill="#fff" stroke="#444" stroke-width="0.45"/>
<circle cx="496.41" cy="54.75" r="1.05" fill="#fff" stroke="#444" stroke-width="0.45"/>
<rect x="502.55" y="61.21" width="8.7" height="8.19" fill="#8cb9f2" stroke="#383838" stroke-width="0.6"/>
<circle cx="504.29" cy="61.21" r="1.05" fill="#fff" stroke="#444" stroke-width="0.45"/>
<circle cx="506.9" cy="61.21" r="1.05" fill="#fff" stroke="#444" stroke-width="0.45"/>
<circle cx="509.51" cy="61.21" r="1.05" fill="#fff" stroke="#444" stroke-width="0.45"/>
<rect x="515.65" y="37.08" width="8.7" height="32.33" fill="#7191cb" stroke="#383838" stroke-width="0.6"/>
<circle cx="517.39" cy="37.08" r="1.05" fill="#fff" stroke="#444" stroke-width="0.45"/>
<circle cx="520" cy="37.08" r="1.05" fill="#fff" stroke="#444" stroke-width="0.45"/>
<circle cx="522.61" cy="37.08" r="1.05" fill="#fff" stroke="#444" stroke-width="0.45"/>
<text x="394.05" y="47.9" font-size="8.74" text-anchor="middle" transform="rotate(-90 394.05 47.9)">Diversity</text>
<text x="539.75" y="47.9" font-size="8.74" text-anchor="middle" transform="rotate(-90 539.75 47.9)">CD3ε</text>
<text x="443.31" y="48.9" font-size="5.3" transform="rotate(-90 443.31 48.9)" fill="#2a2a2a" textLength="27.9" lengthAdjust="spacingAndGlyphs">P = 0.0018</text>
<text x="456.41" y="43.8" font-size="5.3" transform="rotate(-90 456.41 43.8)" fill="#2a2a2a" textLength="27.7" lengthAdjust="spacingAndGlyphs">P = 0.0012</text>
<text x="469.51" y="43.5" font-size="5.3" transform="rotate(-90 469.51 43.5)" fill="#2a2a2a" textLength="27.5" lengthAdjust="spacingAndGlyphs">P = 0.0063</text>
<text x="482.61" y="42.8" font-size="5.3" transform="rotate(-90 482.61 42.8)" fill="#2a2a2a" textLength="27.9" lengthAdjust="spacingAndGlyphs">P = 0.0009</text>
<text x="495.71" y="45.8" font-size="5.3" transform="rotate(-90 495.71 45.8)" fill="#2a2a2a" textLength="28.9" lengthAdjust="spacingAndGlyphs">P = 0.0004</text>
<text x="508.81" y="51.5" font-size="5.3" transform="rotate(-90 508.81 51.5)" fill="#2a2a2a" textLength="28.1" lengthAdjust="spacingAndGlyphs">P = 0.0001</text>
<text x="454.5" y="52.18" font-size="7" text-anchor="middle" fill="#222">**</text>
<text x="467.6" y="51.58" font-size="7" text-anchor="middle" fill="#222">**</text>
<text x="480.7" y="50.38" font-size="7" text-anchor="middle" fill="#222">***</text>
<text x="493.8" y="53.68" font-size="7" text-anchor="middle" fill="#222">***</text>
<text x="506.9" y="59.48" font-size="7" text-anchor="middle" fill="#222">****</text>
<text x="441.4" y="56.08" font-size="7" text-anchor="middle" fill="#222">*</text>
<text x="520" y="34.38" font-size="7" text-anchor="middle" fill="#222">***</text>
<text x="516" y="24.6" font-size="6.2" fill="#2a2a2a"><tspan font-style="italic">P</tspan> = 0.0003</text>
<line x1="419.5" y1="89.6" x2="528.5" y2="89.6" stroke="#b4b4b4" stroke-width="0.9"/>
<line x1="528.5" y1="89.6" x2="528.5" y2="133.4" stroke="#999" stroke-width="0.7"/>
<line x1="419.5" y1="89.6" x2="419.5" y2="133.4" stroke="#555" stroke-width="0.7"/>
<line x1="419.5" y1="133.4" x2="528.5" y2="133.4" stroke="#555" stroke-width="0.7"/>
<line x1="415.5" y1="89.6" x2="419.5" y2="89.6" stroke="#555" stroke-width="0.6"/>
<text x="410.6" y="92.05" font-size="6.9" text-anchor="end" fill="#2a2a2a">1.0</text>
<line x1="415.5" y1="111.5" x2="419.5" y2="111.5" stroke="#555" stroke-width="0.6"/>
<text x="410.6" y="113.95" font-size="6.9" text-anchor="end" fill="#2a2a2a">0.5</text>
<line x1="415.5" y1="133.4" x2="419.5" y2="133.4" stroke="#555" stroke-width="0.6"/>
<text x="410.6" y="135.85" font-size="6.9" text-anchor="end" fill="#2a2a2a">0</text>
<rect x="423.95" y="104.93" width="8.7" height="28.47" fill="#c75961" stroke="#383838" stroke-width="0.6"/>
<circle cx="425.69" cy="104.93" r="1.05" fill="#fff" stroke="#444" stroke-width="0.45"/>
<circle cx="428.3" cy="104.93" r="1.05" fill="#fff" stroke="#444" stroke-width="0.45"/>
<circle cx="430.91" cy="104.93" r="1.05" fill="#fff" stroke="#444" stroke-width="0.45"/>
<rect x="437.05" y="125.52" width="8.7" height="7.88" fill="#c9dcf5" stroke="#383838" stroke-width="0.6"/>
<circle cx="438.79" cy="125.52" r="1.05" fill="#fff" stroke="#444" stroke-width="0.45"/>
<circle cx="441.4" cy="125.52" r="1.05" fill="#fff" stroke="#444" stroke-width="0.45"/>
<circle cx="444.01" cy="125.52" r="1.05" fill="#fff" stroke="#444" stroke-width="0.45"/>
<rect x="450.15" y="120.26" width="8.7" height="13.14" fill="#8cb9f2" stroke="#383838" stroke-width="0.6"/>
<circle cx="451.89" cy="120.26" r="1.05" fill="#fff" stroke="#444" stroke-width="0.45"/>
<circle cx="454.5" cy="120.26" r="1.05" fill="#fff" stroke="#444" stroke-width="0.45"/>
<circle cx="457.11" cy="120.26" r="1.05" fill="#fff" stroke="#444" stroke-width="0.45"/>
<rect x="463.25" y="111.06" width="8.7" height="22.34" fill="#8cb9f2" stroke="#383838" stroke-width="0.6"/>
<circle cx="464.99" cy="111.06" r="1.05" fill="#fff" stroke="#444" stroke-width="0.45"/>
<circle cx="467.6" cy="111.06" r="1.05" fill="#fff" stroke="#444" stroke-width="0.45"/>
<circle cx="470.21" cy="111.06" r="1.05" fill="#fff" stroke="#444" stroke-width="0.45"/>
<rect x="476.35" y="108.43" width="8.7" height="24.97" fill="#8cb9f2" stroke="#383838" stroke-width="0.6"/>
<circle cx="478.09" cy="108.43" r="1.05" fill="#fff" stroke="#444" stroke-width="0.45"/>
<circle cx="480.7" cy="108.43" r="1.05" fill="#fff" stroke="#444" stroke-width="0.45"/>
<circle cx="483.31" cy="108.43" r="1.05" fill="#fff" stroke="#444" stroke-width="0.45"/>
<rect x="489.45" y="115" width="8.7" height="18.4" fill="#8cb9f2" stroke="#383838" stroke-width="0.6"/>
<circle cx="491.19" cy="115" r="1.05" fill="#fff" stroke="#444" stroke-width="0.45"/>
<circle cx="493.8" cy="115" r="1.05" fill="#fff" stroke="#444" stroke-width="0.45"/>
<circle cx="496.41" cy="115" r="1.05" fill="#fff" stroke="#444" stroke-width="0.45"/>
<rect x="502.55" y="123.33" width="8.7" height="10.07" fill="#8cb9f2" stroke="#383838" stroke-width="0.6"/>
<circle cx="504.29" cy="123.33" r="1.05" fill="#fff" stroke="#444" stroke-width="0.45"/>
<circle cx="506.9" cy="123.33" r="1.05" fill="#fff" stroke="#444" stroke-width="0.45"/>
<circle cx="509.51" cy="123.33" r="1.05" fill="#fff" stroke="#444" stroke-width="0.45"/>
<rect x="515.65" y="95.29" width="8.7" height="38.11" fill="#7191cb" stroke="#383838" stroke-width="0.6"/>
<circle cx="517.39" cy="95.29" r="1.05" fill="#fff" stroke="#444" stroke-width="0.45"/>
<circle cx="520" cy="95.29" r="1.05" fill="#fff" stroke="#444" stroke-width="0.45"/>
<circle cx="522.61" cy="95.29" r="1.05" fill="#fff" stroke="#444" stroke-width="0.45"/>
<text x="394.05" y="111.5" font-size="8.74" text-anchor="middle" transform="rotate(-90 394.05 111.5)">Diversity</text>
<text x="539.75" y="111.5" font-size="8.74" text-anchor="middle" transform="rotate(-90 539.75 111.5)">RBD</text>
<text x="443.31" y="118.4" font-size="5.3" transform="rotate(-90 443.31 118.4)" fill="#2a2a2a" textLength="29.7" lengthAdjust="spacingAndGlyphs">P = 0.0094</text>
<text x="456.41" y="112.3" font-size="5.3" transform="rotate(-90 456.41 112.3)" fill="#2a2a2a" textLength="28.2" lengthAdjust="spacingAndGlyphs">P = 0.0069</text>
<text x="469.51" y="104" font-size="5.3" transform="rotate(-90 469.51 104)" fill="#2a2a2a" textLength="29" lengthAdjust="spacingAndGlyphs">P = 0.0039</text>
<text x="482.61" y="101.7" font-size="5.3" transform="rotate(-90 482.61 101.7)" fill="#2a2a2a" textLength="25.9" lengthAdjust="spacingAndGlyphs">P = 0.0115</text>
<text x="495.71" y="107.8" font-size="5.3" transform="rotate(-90 495.71 107.8)" fill="#2a2a2a" textLength="26.7" lengthAdjust="spacingAndGlyphs">P = 0.0016</text>
<text x="508.81" y="115.4" font-size="5.3" transform="rotate(-90 508.81 115.4)" fill="#2a2a2a" textLength="29" lengthAdjust="spacingAndGlyphs">P = 0.0006</text>
<text x="454.5" y="119.68" font-size="7" text-anchor="middle" fill="#222">***</text>
<text x="467.6" y="110.48" font-size="7" text-anchor="middle" fill="#222">**</text>
<text x="493.8" y="115.38" font-size="7" text-anchor="middle" fill="#222">**</text>
<text x="506.9" y="122.98" font-size="7" text-anchor="middle" fill="#222">***</text>
<text x="441.4" y="123.78" font-size="7" text-anchor="middle" fill="#222">**</text>
<text x="483.04" y="104.5" font-size="6.5" transform="rotate(-90 483.04 104.5)" fill="#2a2a2a" textLength="2.5" lengthAdjust="spacingAndGlyphs">*</text>
<text x="520" y="90.38" font-size="7" text-anchor="middle" fill="#222">**</text>
<text x="508" y="83.8" font-size="6.2" fill="#2a2a2a"><tspan font-style="italic">P</tspan> = 0.0017</text>
<line x1="428.3" y1="133.4" x2="428.3" y2="137.2" stroke="#555" stroke-width="0.6"/>
<line x1="441.4" y1="133.4" x2="441.4" y2="137.2" stroke="#555" stroke-width="0.6"/>
<line x1="454.5" y1="133.4" x2="454.5" y2="137.2" stroke="#555" stroke-width="0.6"/>
<line x1="467.6" y1="133.4" x2="467.6" y2="137.2" stroke="#555" stroke-width="0.6"/>
<line x1="480.7" y1="133.4" x2="480.7" y2="137.2" stroke="#555" stroke-width="0.6"/>
<line x1="493.8" y1="133.4" x2="493.8" y2="137.2" stroke="#555" stroke-width="0.6"/>
<line x1="506.9" y1="133.4" x2="506.9" y2="137.2" stroke="#555" stroke-width="0.6"/>
<line x1="520" y1="133.4" x2="520" y2="137.2" stroke="#555" stroke-width="0.6"/>
<text x="431.3" y="143.8" font-size="7.3" text-anchor="end" transform="rotate(-45 431.3 143.8)" fill="#333">CAE</text>
<text x="444.4" y="143.8" font-size="7.3" text-anchor="end" transform="rotate(-45 444.4 143.8)" fill="#333">VAE</text>
<text x="457.5" y="143.8" font-size="7.3" text-anchor="end" transform="rotate(-45 457.5 143.8)" fill="#333">Masked LM (3)</text>
<text x="470.6" y="143.8" font-size="7.3" text-anchor="end" transform="rotate(-45 470.6 143.8)" fill="#333">Masked LM (5)</text>
<text x="483.7" y="143.8" font-size="7.3" text-anchor="end" transform="rotate(-45 483.7 143.8)" fill="#333">Masked LM (7)</text>
<text x="496.8" y="143.8" font-size="7.3" text-anchor="end" transform="rotate(-45 496.8 143.8)" fill="#333">Masked LM (9)</text>
<text x="509.9" y="143.8" font-size="7.3" text-anchor="end" transform="rotate(-45 509.9 143.8)" fill="#333">Masked LM (11)</text>
<text x="523" y="143.8" font-size="7.3" text-anchor="end" transform="rotate(-45 523 143.8)" fill="#333">Diffusion</text>
<text x="556.8" y="8.9" font-size="12.2" font-weight="bold" fill="#000" stroke="#000" stroke-width="0.3">c</text>
<rect x="594.4" y="27.6" width="53.8" height="90.6" fill="none" stroke="#666" stroke-width="0.7"/>
<line x1="590.4" y1="27.7" x2="594.4" y2="27.7" stroke="#555" stroke-width="0.6"/>
<text x="586.3" y="30.33" font-size="7.4" text-anchor="end" fill="#2a2a2a">1.0</text>
<line x1="590.4" y1="40.62" x2="594.4" y2="40.62" stroke="#555" stroke-width="0.6"/>
<text x="586.3" y="43.25" font-size="7.4" text-anchor="end" fill="#2a2a2a">0.8</text>
<line x1="590.4" y1="53.54" x2="594.4" y2="53.54" stroke="#555" stroke-width="0.6"/>
<text x="586.3" y="56.17" font-size="7.4" text-anchor="end" fill="#2a2a2a">0.6</text>
<line x1="590.4" y1="66.46" x2="594.4" y2="66.46" stroke="#555" stroke-width="0.6"/>
<text x="586.3" y="69.09" font-size="7.4" text-anchor="end" fill="#2a2a2a">0.4</text>
<line x1="590.4" y1="79.38" x2="594.4" y2="79.38" stroke="#555" stroke-width="0.6"/>
<text x="586.3" y="82.01" font-size="7.4" text-anchor="end" fill="#2a2a2a">0.2</text>
<line x1="590.4" y1="92.3" x2="594.4" y2="92.3" stroke="#555" stroke-width="0.6"/>
<text x="586.3" y="94.93" font-size="7.4" text-anchor="end" fill="#2a2a2a">0</text>
<line x1="590.4" y1="105.22" x2="594.4" y2="105.22" stroke="#555" stroke-width="0.6"/>
<text x="586.3" y="107.85" font-size="7.4" text-anchor="end" fill="#2a2a2a">–0.2</text>
<line x1="590.4" y1="118.14" x2="594.4" y2="118.14" stroke="#555" stroke-width="0.6"/>
<text x="586.3" y="120.77" font-size="7.4" text-anchor="end" fill="#2a2a2a">–0.4</text>
<line x1="594.4" y1="92.3" x2="648.2" y2="92.3" stroke="#666" stroke-width="0.6" stroke-dasharray="2,1.5"/>
<rect x="598.5" y="40.62" width="8" height="51.68" fill="#c75961" stroke="#383838" stroke-width="0.6"/>
<circle cx="600.1" cy="40.62" r="1.05" fill="#fff" stroke="#444" stroke-width="0.45"/>
<circle cx="602.5" cy="40.62" r="1.05" fill="#fff" stroke="#444" stroke-width="0.45"/>
<circle cx="604.9" cy="40.62" r="1.05" fill="#fff" stroke="#444" stroke-width="0.45"/>
<rect x="609.5" y="48.37" width="8" height="43.93" fill="#7191cb" stroke="#383838" stroke-width="0.6"/>
<circle cx="611.1" cy="48.37" r="1.05" fill="#fff" stroke="#444" stroke-width="0.45"/>
<circle cx="613.5" cy="48.37" r="1.05" fill="#fff" stroke="#444" stroke-width="0.45"/>
<circle cx="615.9" cy="48.37" r="1.05" fill="#fff" stroke="#444" stroke-width="0.45"/>
<rect x="624.4" y="91.52" width="7.6" height="0.78" fill="#c75961" stroke="#555" stroke-width="0.4"/>
<circle cx="625.92" cy="91.01" r="0.7" fill="#fff" stroke="#444" stroke-width="0.45"/>
<circle cx="628.2" cy="91.01" r="0.7" fill="#fff" stroke="#444" stroke-width="0.45"/>
<circle cx="630.48" cy="91.01" r="0.7" fill="#fff" stroke="#444" stroke-width="0.45"/>
<rect x="635.5" y="92.3" width="7.6" height="0.78" fill="#7191cb" stroke="#555" stroke-width="0.4"/>
<circle cx="637.02" cy="92.62" r="0.7" fill="#fff" stroke="#444" stroke-width="0.45"/>
<circle cx="639.3" cy="92.62" r="0.7" fill="#fff" stroke="#444" stroke-width="0.45"/>
<circle cx="641.58" cy="92.62" r="0.7" fill="#fff" stroke="#444" stroke-width="0.45"/>
<polyline points="602.5,38.5 602.5,36.3 628.7,36.3 628.7,90.5" fill="none" stroke="#666" stroke-width="0.5" stroke-linejoin="round"/>
<text x="610" y="34.98" font-size="7" text-anchor="middle" fill="#222">***</text>
<text x="617.5" y="33.2" font-size="6.2" fill="#2a2a2a">P = 0.0002</text>
<polyline points="613.8,93.5 613.8,99.3 639.7,99.3 639.7,94.5" fill="none" stroke="#666" stroke-width="0.5" stroke-linejoin="round"/>
<line x1="626.7" y1="99.3" x2="626.7" y2="101.3" stroke="#666" stroke-width="0.5"/>
<text x="626.5" y="106.98" font-size="7" text-anchor="middle" fill="#222">****</text>
<text x="626.5" y="110.8" font-size="6" text-anchor="middle" fill="#333">P &lt; 0.0001</text>
<line x1="608.2" y1="118.2" x2="608.2" y2="122" stroke="#555" stroke-width="0.6"/>
<line x1="634.3" y1="118.2" x2="634.3" y2="122" stroke="#555" stroke-width="0.6"/>
<text x="608.2" y="131.9" font-size="7.3" text-anchor="middle" fill="#333">CAE</text>
<text x="634" y="131.9" font-size="7.3" text-anchor="middle" fill="#333">Diffusion</text>
<text x="565.37" y="72.6" font-size="8.53" text-anchor="middle" transform="rotate(-90 565.37 72.6)">Pearson's <tspan font-style='italic'>r</tspan></text>
<rect x="599.3" y="142.4" width="7.3" height="7.3" fill="#c75961" stroke="#555" stroke-width="0.5"/>
<text x="611" y="148.4" font-size="7.3" fill="#333">CD3ε</text>
<rect x="599.3" y="155.3" width="7.3" height="7.3" fill="#7191cb" stroke="#555" stroke-width="0.5"/>
<text x="611" y="161.3" font-size="7.3" fill="#333">RBD</text>
<text x="0" y="200.6" font-size="12.2" font-weight="bold" fill="#000" stroke="#000" stroke-width="0.3">d</text>
<line x1="39.5" y1="214.8" x2="148.8" y2="214.8" stroke="#b4b4b4" stroke-width="0.9"/>
<line x1="148.8" y1="214.8" x2="148.8" y2="258.3" stroke="#999" stroke-width="0.7"/>
<line x1="39.5" y1="214.8" x2="39.5" y2="258.3" stroke="#555" stroke-width="0.7"/>
<line x1="39.5" y1="258.3" x2="148.8" y2="258.3" stroke="#555" stroke-width="0.7"/>
<line x1="35.5" y1="215.9" x2="39.5" y2="215.9" stroke="#555" stroke-width="0.6"/>
<text x="31.8" y="218.53" font-size="7.4" text-anchor="end" fill="#2a2a2a">1.0</text>
<line x1="35.5" y1="236.7" x2="39.5" y2="236.7" stroke="#555" stroke-width="0.6"/>
<text x="31.8" y="239.33" font-size="7.4" text-anchor="end" fill="#2a2a2a">0.6</text>
<line x1="35.5" y1="257.5" x2="39.5" y2="257.5" stroke="#555" stroke-width="0.6"/>
<text x="31.8" y="260.13" font-size="7.4" text-anchor="end" fill="#2a2a2a">0.2</text>
<line x1="48.2" y1="215.2" x2="48.2" y2="216.4" stroke="#333" stroke-width="0.55"/>
<line x1="48.2" y1="221.2" x2="48.2" y2="236.2" stroke="#333" stroke-width="0.55"/>
<line x1="45.9" y1="215.2" x2="50.5" y2="215.2" stroke="#333" stroke-width="0.55"/>
<line x1="45.9" y1="236.2" x2="50.5" y2="236.2" stroke="#333" stroke-width="0.55"/>
<rect x="43.7" y="216.4" width="9" height="4.8" fill="#c75961" stroke="#333" stroke-width="0.55"/>
<line x1="43.7" y1="218.7" x2="52.7" y2="218.7" stroke="#111" stroke-width="0.9"/>
<line x1="61.35" y1="215.9" x2="61.35" y2="218.8" stroke="#333" stroke-width="0.55"/>
<line x1="61.35" y1="223.6" x2="61.35" y2="239.4" stroke="#333" stroke-width="0.55"/>
<line x1="59.05" y1="215.9" x2="63.65" y2="215.9" stroke="#333" stroke-width="0.55"/>
<line x1="59.05" y1="239.4" x2="63.65" y2="239.4" stroke="#333" stroke-width="0.55"/>
<rect x="56.85" y="218.8" width="9" height="4.8" fill="#c75961" stroke="#333" stroke-width="0.55"/>
<line x1="56.85" y1="221.2" x2="65.85" y2="221.2" stroke="#111" stroke-width="0.9"/>
<line x1="74.5" y1="215.9" x2="74.5" y2="221.2" stroke="#333" stroke-width="0.55"/>
<line x1="74.5" y1="226.6" x2="74.5" y2="249.3" stroke="#333" stroke-width="0.55"/>
<line x1="72.2" y1="215.9" x2="76.8" y2="215.9" stroke="#333" stroke-width="0.55"/>
<line x1="72.2" y1="249.3" x2="76.8" y2="249.3" stroke="#333" stroke-width="0.55"/>
<rect x="70" y="221.2" width="9" height="5.4" fill="#c75961" stroke="#333" stroke-width="0.55"/>
<line x1="70" y1="223.9" x2="79" y2="223.9" stroke="#111" stroke-width="0.9"/>
<line x1="87.65" y1="215.6" x2="87.65" y2="215.6" stroke="#333" stroke-width="0.55"/>
<line x1="87.65" y1="216.4" x2="87.65" y2="226.5" stroke="#333" stroke-width="0.55"/>
<line x1="85.35" y1="215.6" x2="89.95" y2="215.6" stroke="#333" stroke-width="0.55"/>
<line x1="85.35" y1="226.5" x2="89.95" y2="226.5" stroke="#333" stroke-width="0.55"/>
<rect x="83.15" y="215.6" width="9" height="0.8" fill="#c75961" stroke="#333" stroke-width="0.55"/>
<line x1="83.15" y1="215.9" x2="92.15" y2="215.9" stroke="#111" stroke-width="0.9"/>
<line x1="100.8" y1="215.9" x2="100.8" y2="215.9" stroke="#333" stroke-width="0.55"/>
<line x1="100.8" y1="218.3" x2="100.8" y2="249.5" stroke="#333" stroke-width="0.55"/>
<line x1="98.5" y1="215.9" x2="103.1" y2="215.9" stroke="#333" stroke-width="0.55"/>
<line x1="98.5" y1="249.5" x2="103.1" y2="249.5" stroke="#333" stroke-width="0.55"/>
<rect x="96.3" y="215.9" width="9" height="2.4" fill="#c75961" stroke="#333" stroke-width="0.55"/>
<line x1="96.3" y1="217" x2="105.3" y2="217" stroke="#111" stroke-width="0.9"/>
<line x1="113.95" y1="221.1" x2="113.95" y2="234.4" stroke="#333" stroke-width="0.55"/>
<line x1="113.95" y1="241.6" x2="113.95" y2="257.8" stroke="#333" stroke-width="0.55"/>
<line x1="111.65" y1="221.1" x2="116.25" y2="221.1" stroke="#333" stroke-width="0.55"/>
<line x1="111.65" y1="257.8" x2="116.25" y2="257.8" stroke="#333" stroke-width="0.55"/>
<rect x="109.45" y="234.4" width="9" height="7.2" fill="#7191cb" stroke="#333" stroke-width="0.55"/>
<line x1="109.45" y1="239.3" x2="118.45" y2="239.3" stroke="#111" stroke-width="0.9"/>
<line x1="127.1" y1="226.6" x2="127.1" y2="239.3" stroke="#333" stroke-width="0.55"/>
<line x1="127.1" y1="244.7" x2="127.1" y2="254.8" stroke="#333" stroke-width="0.55"/>
<line x1="124.8" y1="226.6" x2="129.4" y2="226.6" stroke="#333" stroke-width="0.55"/>
<line x1="124.8" y1="254.8" x2="129.4" y2="254.8" stroke="#333" stroke-width="0.55"/>
<rect x="122.6" y="239.3" width="9" height="5.4" fill="#d4d4d4" stroke="#333" stroke-width="0.55"/>
<line x1="122.6" y1="242" x2="131.6" y2="242" stroke="#111" stroke-width="0.9"/>
<line x1="140.25" y1="218.6" x2="140.25" y2="229" stroke="#333" stroke-width="0.55"/>
<line x1="140.25" y1="234.1" x2="140.25" y2="247.1" stroke="#333" stroke-width="0.55"/>
<line x1="137.95" y1="218.6" x2="142.55" y2="218.6" stroke="#333" stroke-width="0.55"/>
<line x1="137.95" y1="247.1" x2="142.55" y2="247.1" stroke="#333" stroke-width="0.55"/>
<rect x="135.75" y="229" width="9" height="5.1" fill="#d4d4d4" stroke="#333" stroke-width="0.55"/>
<line x1="135.75" y1="231.4" x2="144.75" y2="231.4" stroke="#111" stroke-width="0.9"/>
<text x="127.3" y="207.3" font-size="6" text-anchor="middle" fill="#333"><tspan font-style="italic">P</tspan> &lt; 0.0001</text>
<text x="113.95" y="213.78" font-size="7" text-anchor="middle" fill="#222">****</text>
<text x="140.25" y="213.78" font-size="7" text-anchor="middle" fill="#222">****</text>
<text x="127.1" y="225.08" font-size="7" text-anchor="middle" fill="#222">****</text>
<text x="13.85" y="236.5" font-size="8.74" text-anchor="middle" transform="rotate(-90 13.85 236.5)">Recovery rate</text>
<text x="161.45" y="236.8" font-size="8.74" text-anchor="middle" transform="rotate(-90 161.45 236.8)">CD3ε</text>
<line x1="39.5" y1="272.5" x2="148.8" y2="272.5" stroke="#b4b4b4" stroke-width="0.9"/>
<line x1="148.8" y1="272.5" x2="148.8" y2="316.1" stroke="#999" stroke-width="0.7"/>
<line x1="39.5" y1="272.5" x2="39.5" y2="316.1" stroke="#555" stroke-width="0.7"/>
<line x1="39.5" y1="316.1" x2="148.8" y2="316.1" stroke="#555" stroke-width="0.7"/>
<line x1="35.5" y1="273.2" x2="39.5" y2="273.2" stroke="#555" stroke-width="0.6"/>
<text x="31.8" y="275.83" font-size="7.4" text-anchor="end" fill="#2a2a2a">1.0</text>
<line x1="35.5" y1="294.3" x2="39.5" y2="294.3" stroke="#555" stroke-width="0.6"/>
<text x="31.8" y="296.93" font-size="7.4" text-anchor="end" fill="#2a2a2a">0.6</text>
<line x1="35.5" y1="315.4" x2="39.5" y2="315.4" stroke="#555" stroke-width="0.6"/>
<text x="31.8" y="318.03" font-size="7.4" text-anchor="end" fill="#2a2a2a">0.2</text>
<line x1="48.2" y1="273.2" x2="48.2" y2="276.3" stroke="#333" stroke-width="0.55"/>
<line x1="48.2" y1="278.6" x2="48.2" y2="294.4" stroke="#333" stroke-width="0.55"/>
<line x1="45.9" y1="273.2" x2="50.5" y2="273.2" stroke="#333" stroke-width="0.55"/>
<line x1="45.9" y1="294.4" x2="50.5" y2="294.4" stroke="#333" stroke-width="0.55"/>
<rect x="43.7" y="276.3" width="9" height="2.3" fill="#c75961" stroke="#333" stroke-width="0.55"/>
<line x1="43.7" y1="277.4" x2="52.7" y2="277.4" stroke="#111" stroke-width="0.9"/>
<line x1="61.35" y1="273.2" x2="61.35" y2="276.3" stroke="#333" stroke-width="0.55"/>
<line x1="61.35" y1="278.6" x2="61.35" y2="291.6" stroke="#333" stroke-width="0.55"/>
<line x1="59.05" y1="273.2" x2="63.65" y2="273.2" stroke="#333" stroke-width="0.55"/>
<line x1="59.05" y1="291.6" x2="63.65" y2="291.6" stroke="#333" stroke-width="0.55"/>
<rect x="56.85" y="276.3" width="9" height="2.3" fill="#c75961" stroke="#333" stroke-width="0.55"/>
<line x1="56.85" y1="277.4" x2="65.85" y2="277.4" stroke="#111" stroke-width="0.9"/>
<line x1="74.5" y1="273.2" x2="74.5" y2="279.4" stroke="#333" stroke-width="0.55"/>
<line x1="74.5" y1="283.8" x2="74.5" y2="304.4" stroke="#333" stroke-width="0.55"/>
<line x1="72.2" y1="273.2" x2="76.8" y2="273.2" stroke="#333" stroke-width="0.55"/>
<line x1="72.2" y1="304.4" x2="76.8" y2="304.4" stroke="#333" stroke-width="0.55"/>
<rect x="70" y="279.4" width="9" height="4.4" fill="#c75961" stroke="#333" stroke-width="0.55"/>
<line x1="70" y1="281.6" x2="79" y2="281.6" stroke="#111" stroke-width="0.9"/>
<line x1="87.65" y1="273.2" x2="87.65" y2="273.7" stroke="#333" stroke-width="0.55"/>
<line x1="87.65" y1="278.9" x2="87.65" y2="294.3" stroke="#333" stroke-width="0.55"/>
<line x1="85.35" y1="273.2" x2="89.95" y2="273.2" stroke="#333" stroke-width="0.55"/>
<line x1="85.35" y1="294.3" x2="89.95" y2="294.3" stroke="#333" stroke-width="0.55"/>
<rect x="83.15" y="273.7" width="9" height="5.2" fill="#c75961" stroke="#333" stroke-width="0.55"/>
<line x1="83.15" y1="276.2" x2="92.15" y2="276.2" stroke="#111" stroke-width="0.9"/>
<line x1="100.8" y1="273" x2="100.8" y2="276.2" stroke="#333" stroke-width="0.55"/>
<line x1="100.8" y1="281.3" x2="100.8" y2="302.5" stroke="#333" stroke-width="0.55"/>
<line x1="98.5" y1="273" x2="103.1" y2="273" stroke="#333" stroke-width="0.55"/>
<line x1="98.5" y1="302.5" x2="103.1" y2="302.5" stroke="#333" stroke-width="0.55"/>
<rect x="96.3" y="276.2" width="9" height="5.1" fill="#c75961" stroke="#333" stroke-width="0.55"/>
<line x1="96.3" y1="278.5" x2="105.3" y2="278.5" stroke="#111" stroke-width="0.9"/>
<line x1="113.95" y1="278.1" x2="113.95" y2="289.9" stroke="#333" stroke-width="0.55"/>
<line x1="113.95" y1="297" x2="113.95" y2="312.4" stroke="#333" stroke-width="0.55"/>
<line x1="111.65" y1="278.1" x2="116.25" y2="278.1" stroke="#333" stroke-width="0.55"/>
<line x1="111.65" y1="312.4" x2="116.25" y2="312.4" stroke="#333" stroke-width="0.55"/>
<rect x="109.45" y="289.9" width="9" height="7.1" fill="#7191cb" stroke="#333" stroke-width="0.55"/>
<line x1="109.45" y1="294.3" x2="118.45" y2="294.3" stroke="#111" stroke-width="0.9"/>
<line x1="127.1" y1="281.3" x2="127.1" y2="294.3" stroke="#333" stroke-width="0.55"/>
<line x1="127.1" y1="299.5" x2="127.1" y2="312.4" stroke="#333" stroke-width="0.55"/>
<line x1="124.8" y1="281.3" x2="129.4" y2="281.3" stroke="#333" stroke-width="0.55"/>
<line x1="124.8" y1="312.4" x2="129.4" y2="312.4" stroke="#333" stroke-width="0.55"/>
<rect x="122.6" y="294.3" width="9" height="5.2" fill="#d4d4d4" stroke="#333" stroke-width="0.55"/>
<line x1="122.6" y1="296.8" x2="131.6" y2="296.8" stroke="#111" stroke-width="0.9"/>
<line x1="140.25" y1="273.3" x2="140.25" y2="284" stroke="#333" stroke-width="0.55"/>
<line x1="140.25" y1="289.2" x2="140.25" y2="302.5" stroke="#333" stroke-width="0.55"/>
<line x1="137.95" y1="273.3" x2="142.55" y2="273.3" stroke="#333" stroke-width="0.55"/>
<line x1="137.95" y1="302.5" x2="142.55" y2="302.5" stroke="#333" stroke-width="0.55"/>
<rect x="135.75" y="284" width="9" height="5.2" fill="#d4d4d4" stroke="#333" stroke-width="0.55"/>
<line x1="135.75" y1="286.1" x2="144.75" y2="286.1" stroke="#111" stroke-width="0.9"/>
<text x="127.3" y="264.3" font-size="6" text-anchor="middle" fill="#333">P &lt; 0.0001</text>
<text x="113.95" y="271.38" font-size="7" text-anchor="middle" fill="#222">****</text>
<text x="140.25" y="271.38" font-size="7" text-anchor="middle" fill="#222">****</text>
<text x="127.1" y="279.78" font-size="7" text-anchor="middle" fill="#222">****</text>
<text x="13.85" y="294.6" font-size="8.74" text-anchor="middle" transform="rotate(-90 13.85 294.6)">Recovery rate</text>
<text x="160.75" y="295" font-size="8.74" text-anchor="middle" transform="rotate(-90 160.75 295)">RBD</text>
<line x1="48.2" y1="316.1" x2="48.2" y2="320.1" stroke="#555" stroke-width="0.6"/>
<line x1="61.35" y1="316.1" x2="61.35" y2="320.1" stroke="#555" stroke-width="0.6"/>
<line x1="74.5" y1="316.1" x2="74.5" y2="320.1" stroke="#555" stroke-width="0.6"/>
<line x1="87.65" y1="316.1" x2="87.65" y2="320.1" stroke="#555" stroke-width="0.6"/>
<line x1="100.8" y1="316.1" x2="100.8" y2="320.1" stroke="#555" stroke-width="0.6"/>
<line x1="113.95" y1="316.1" x2="113.95" y2="320.1" stroke="#555" stroke-width="0.6"/>
<line x1="127.1" y1="316.1" x2="127.1" y2="320.1" stroke="#555" stroke-width="0.6"/>
<line x1="140.25" y1="316.1" x2="140.25" y2="320.1" stroke="#555" stroke-width="0.6"/>
<text x="51.2" y="328.3" font-size="7.4" text-anchor="end" transform="rotate(-45 51.2 328.3)" fill="#333">w/ RNA-FM</text>
<text x="64.35" y="328.3" font-size="7.4" text-anchor="end" transform="rotate(-45 64.35 328.3)" fill="#333">w/ RiNALMo</text>
<text x="77.5" y="328.3" font-size="7.4" text-anchor="end" transform="rotate(-45 77.5 328.3)" fill="#333">w/ EvoFlow-RNA</text>
<text x="90.65" y="328.3" font-size="7.4" text-anchor="end" transform="rotate(-45 90.65 328.3)" fill="#333">w/ RNAErnie</text>
<text x="103.8" y="328.3" font-size="7.4" text-anchor="end" transform="rotate(-45 103.8 328.3)" fill="#333">w/ RNA-BERT</text>
<text x="116.95" y="328.3" font-size="7.4" text-anchor="end" transform="rotate(-45 116.95 328.3)" fill="#333">w/ Evo</text>
<text x="130.1" y="328.3" font-size="7.4" text-anchor="end" transform="rotate(-45 130.1 328.3)" fill="#333">w/o LM (LSTM)</text>
<text x="143.25" y="328.3" font-size="7.4" text-anchor="end" transform="rotate(-45 143.25 328.3)" fill="#333">w/o LM (CNN)</text>
<text x="195.8" y="200.1" font-size="12.2" font-weight="bold" fill="#000" stroke="#000" stroke-width="0.3">e</text>
<line x1="229.8" y1="215.3" x2="320.7" y2="215.3" stroke="#b4b4b4" stroke-width="0.9"/>
<line x1="320.7" y1="215.3" x2="320.7" y2="258.5" stroke="#999" stroke-width="0.7"/>
<line x1="229.8" y1="215.3" x2="229.8" y2="258.5" stroke="#555" stroke-width="0.7"/>
<line x1="229.8" y1="258.5" x2="320.7" y2="258.5" stroke="#555" stroke-width="0.7"/>
<line x1="225.8" y1="215.2" x2="229.8" y2="215.2" stroke="#555" stroke-width="0.6"/>
<text x="220.9" y="217.9" font-size="7.6" text-anchor="end" fill="#2a2a2a">0.8</text>
<line x1="225.8" y1="236.85" x2="229.8" y2="236.85" stroke="#555" stroke-width="0.6"/>
<text x="220.9" y="239.55" font-size="7.6" text-anchor="end" fill="#2a2a2a">0.4</text>
<line x1="225.8" y1="258.5" x2="229.8" y2="258.5" stroke="#555" stroke-width="0.6"/>
<text x="220.9" y="261.2" font-size="7.6" text-anchor="end" fill="#2a2a2a">0</text>
<rect x="234.2" y="226.24" width="9.4" height="32.26" fill="#c75961" stroke="#383838" stroke-width="0.6"/>
<circle cx="236.08" cy="226.24" r="1.05" fill="#fff" stroke="#444" stroke-width="0.45"/>
<circle cx="238.9" cy="226.24" r="1.05" fill="#fff" stroke="#444" stroke-width="0.45"/>
<circle cx="241.72" cy="226.24" r="1.05" fill="#fff" stroke="#444" stroke-width="0.45"/>
<rect x="248.53" y="226.24" width="9.4" height="32.26" fill="#c75961" stroke="#383838" stroke-width="0.6"/>
<circle cx="250.41" cy="226.24" r="1.05" fill="#fff" stroke="#444" stroke-width="0.45"/>
<circle cx="253.23" cy="226.24" r="1.05" fill="#fff" stroke="#444" stroke-width="0.45"/>
<circle cx="256.05" cy="226.24" r="1.05" fill="#fff" stroke="#444" stroke-width="0.45"/>
<rect x="262.86" y="225.75" width="9.4" height="32.75" fill="#c75961" stroke="#383838" stroke-width="0.6"/>
<circle cx="264.74" cy="225.75" r="1.05" fill="#fff" stroke="#444" stroke-width="0.45"/>
<circle cx="267.56" cy="225.75" r="1.05" fill="#fff" stroke="#444" stroke-width="0.45"/>
<circle cx="270.38" cy="225.75" r="1.05" fill="#fff" stroke="#444" stroke-width="0.45"/>
<rect x="277.19" y="223.1" width="9.4" height="35.4" fill="#c75961" stroke="#383838" stroke-width="0.6"/>
<circle cx="279.07" cy="223.1" r="1.05" fill="#fff" stroke="#444" stroke-width="0.45"/>
<circle cx="281.89" cy="223.1" r="1.05" fill="#fff" stroke="#444" stroke-width="0.45"/>
<circle cx="284.71" cy="223.1" r="1.05" fill="#fff" stroke="#444" stroke-width="0.45"/>
<rect x="291.52" y="221.42" width="9.4" height="37.08" fill="#c75961" stroke="#383838" stroke-width="0.6"/>
<circle cx="293.4" cy="221.42" r="1.05" fill="#fff" stroke="#444" stroke-width="0.45"/>
<circle cx="296.22" cy="221.42" r="1.05" fill="#fff" stroke="#444" stroke-width="0.45"/>
<circle cx="299.04" cy="221.42" r="1.05" fill="#fff" stroke="#444" stroke-width="0.45"/>
<rect x="305.85" y="225.54" width="9.4" height="32.96" fill="#7191cb" stroke="#383838" stroke-width="0.6"/>
<circle cx="307.73" cy="225.54" r="1.05" fill="#fff" stroke="#444" stroke-width="0.45"/>
<circle cx="310.55" cy="225.54" r="1.05" fill="#fff" stroke="#444" stroke-width="0.45"/>
<circle cx="313.37" cy="225.54" r="1.05" fill="#fff" stroke="#444" stroke-width="0.45"/>
<line x1="230.8" y1="226.13" x2="318.7" y2="226.13" stroke="#e42a26" stroke-width="0.9" stroke-dasharray="2.6,1.7"/>
<text x="203.85" y="237" font-size="8.74" text-anchor="middle" transform="rotate(-90 203.85 237)">Diversity</text>
<text x="331.75" y="237" font-size="8.74" text-anchor="middle" transform="rotate(-90 331.75 237)">CD3ε</text>
<line x1="229.8" y1="272.3" x2="320.7" y2="272.3" stroke="#b4b4b4" stroke-width="0.9"/>
<line x1="320.7" y1="272.3" x2="320.7" y2="316.3" stroke="#999" stroke-width="0.7"/>
<line x1="229.8" y1="272.3" x2="229.8" y2="316.3" stroke="#555" stroke-width="0.7"/>
<line x1="229.8" y1="316.3" x2="320.7" y2="316.3" stroke="#555" stroke-width="0.7"/>
<line x1="225.8" y1="272.1" x2="229.8" y2="272.1" stroke="#555" stroke-width="0.6"/>
<text x="220.9" y="274.8" font-size="7.6" text-anchor="end" fill="#2a2a2a">0.8</text>
<line x1="225.8" y1="294.2" x2="229.8" y2="294.2" stroke="#555" stroke-width="0.6"/>
<text x="220.9" y="296.9" font-size="7.6" text-anchor="end" fill="#2a2a2a">0.4</text>
<line x1="225.8" y1="316.3" x2="229.8" y2="316.3" stroke="#555" stroke-width="0.6"/>
<text x="220.9" y="319" font-size="7.6" text-anchor="end" fill="#2a2a2a">0</text>
<rect x="234.2" y="280.11" width="9.4" height="36.19" fill="#c75961" stroke="#383838" stroke-width="0.6"/>
<circle cx="236.08" cy="280.11" r="1.05" fill="#fff" stroke="#444" stroke-width="0.45"/>
<circle cx="238.9" cy="280.11" r="1.05" fill="#fff" stroke="#444" stroke-width="0.45"/>
<circle cx="241.72" cy="280.11" r="1.05" fill="#fff" stroke="#444" stroke-width="0.45"/>
<rect x="248.53" y="278.73" width="9.4" height="37.57" fill="#c75961" stroke="#383838" stroke-width="0.6"/>
<circle cx="250.41" cy="278.73" r="1.05" fill="#fff" stroke="#444" stroke-width="0.45"/>
<circle cx="253.23" cy="278.73" r="1.05" fill="#fff" stroke="#444" stroke-width="0.45"/>
<circle cx="256.05" cy="278.73" r="1.05" fill="#fff" stroke="#444" stroke-width="0.45"/>
<rect x="262.86" y="278.73" width="9.4" height="37.57" fill="#c75961" stroke="#383838" stroke-width="0.6"/>
<circle cx="264.74" cy="278.73" r="1.05" fill="#fff" stroke="#444" stroke-width="0.45"/>
<circle cx="267.56" cy="278.73" r="1.05" fill="#fff" stroke="#444" stroke-width="0.45"/>
<circle cx="270.38" cy="278.73" r="1.05" fill="#fff" stroke="#444" stroke-width="0.45"/>
<rect x="277.19" y="278.18" width="9.4" height="38.12" fill="#c75961" stroke="#383838" stroke-width="0.6"/>
<circle cx="279.07" cy="278.18" r="1.05" fill="#fff" stroke="#444" stroke-width="0.45"/>
<circle cx="281.89" cy="278.18" r="1.05" fill="#fff" stroke="#444" stroke-width="0.45"/>
<circle cx="284.71" cy="278.18" r="1.05" fill="#fff" stroke="#444" stroke-width="0.45"/>
<rect x="291.52" y="276.8" width="9.4" height="39.5" fill="#c75961" stroke="#383838" stroke-width="0.6"/>
<circle cx="293.4" cy="276.8" r="1.05" fill="#fff" stroke="#444" stroke-width="0.45"/>
<circle cx="296.22" cy="276.8" r="1.05" fill="#fff" stroke="#444" stroke-width="0.45"/>
<circle cx="299.04" cy="276.8" r="1.05" fill="#fff" stroke="#444" stroke-width="0.45"/>
<rect x="305.85" y="280.66" width="9.4" height="35.64" fill="#7191cb" stroke="#383838" stroke-width="0.6"/>
<circle cx="307.73" cy="280.66" r="1.05" fill="#fff" stroke="#444" stroke-width="0.45"/>
<circle cx="310.55" cy="280.66" r="1.05" fill="#fff" stroke="#444" stroke-width="0.45"/>
<circle cx="313.37" cy="280.66" r="1.05" fill="#fff" stroke="#444" stroke-width="0.45"/>
<line x1="230.8" y1="280.66" x2="318.7" y2="280.66" stroke="#e42a26" stroke-width="0.9" stroke-dasharray="2.6,1.7"/>
<text x="203.85" y="294.6" font-size="8.74" text-anchor="middle" transform="rotate(-90 203.85 294.6)">Diversity</text>
<text x="331.75" y="294.6" font-size="8.74" text-anchor="middle" transform="rotate(-90 331.75 294.6)">RBD</text>
<line x1="238.9" y1="316.3" x2="238.9" y2="320.3" stroke="#555" stroke-width="0.6"/>
<line x1="253.23" y1="316.3" x2="253.23" y2="320.3" stroke="#555" stroke-width="0.6"/>
<line x1="267.56" y1="316.3" x2="267.56" y2="320.3" stroke="#555" stroke-width="0.6"/>
<line x1="281.89" y1="316.3" x2="281.89" y2="320.3" stroke="#555" stroke-width="0.6"/>
<line x1="296.22" y1="316.3" x2="296.22" y2="320.3" stroke="#555" stroke-width="0.6"/>
<line x1="310.55" y1="316.3" x2="310.55" y2="320.3" stroke="#555" stroke-width="0.6"/>
<text x="241.9" y="328.8" font-size="7.3" text-anchor="end" transform="rotate(-45 241.9 328.8)" fill="#333">w/ RNA-FM</text>
<text x="256.23" y="328.8" font-size="7.3" text-anchor="end" transform="rotate(-45 256.23 328.8)" fill="#333">w/ RiNALMo</text>
<text x="270.56" y="328.8" font-size="7.3" text-anchor="end" transform="rotate(-45 270.56 328.8)" fill="#333">w/ EvoFlow-RNA</text>
<text x="284.89" y="328.8" font-size="7.3" text-anchor="end" transform="rotate(-45 284.89 328.8)" fill="#333">w/ RNAErnie</text>
<text x="299.22" y="328.8" font-size="7.3" text-anchor="end" transform="rotate(-45 299.22 328.8)" fill="#333">w/ RNA-BERT</text>
<text x="313.55" y="328.8" font-size="7.3" text-anchor="end" transform="rotate(-45 313.55 328.8)" fill="#333">w/Evo</text>
<text x="358.8" y="200.4" font-size="12.2" font-weight="bold" fill="#000" stroke="#000" stroke-width="0.3">f</text>
<line x1="392.5" y1="214.5" x2="483.6" y2="214.5" stroke="#b4b4b4" stroke-width="0.9"/>
<line x1="483.6" y1="214.5" x2="483.6" y2="258.5" stroke="#999" stroke-width="0.7"/>
<line x1="392.5" y1="214.5" x2="392.5" y2="258.5" stroke="#555" stroke-width="0.7"/>
<line x1="392.5" y1="258.5" x2="483.6" y2="258.5" stroke="#555" stroke-width="0.7"/>
<line x1="388.5" y1="214.6" x2="392.5" y2="214.6" stroke="#555" stroke-width="0.6"/>
<text x="383.6" y="217.16" font-size="7.2" text-anchor="end" fill="#2a2a2a">1.0</text>
<line x1="388.5" y1="236.55" x2="392.5" y2="236.55" stroke="#555" stroke-width="0.6"/>
<text x="383.6" y="239.11" font-size="7.2" text-anchor="end" fill="#2a2a2a">0.5</text>
<line x1="388.5" y1="258.5" x2="392.5" y2="258.5" stroke="#555" stroke-width="0.6"/>
<text x="383.6" y="261.06" font-size="7.2" text-anchor="end" fill="#2a2a2a">0</text>
<rect x="397.35" y="223.82" width="9.3" height="34.68" fill="#c75961" stroke="#383838" stroke-width="0.6"/>
<circle cx="399.21" cy="223.82" r="1.05" fill="#fff" stroke="#444" stroke-width="0.45"/>
<circle cx="402" cy="223.82" r="1.05" fill="#fff" stroke="#444" stroke-width="0.45"/>
<circle cx="404.79" cy="223.82" r="1.05" fill="#fff" stroke="#444" stroke-width="0.45"/>
<rect x="411.77" y="224.7" width="9.3" height="33.8" fill="#c75961" stroke="#383838" stroke-width="0.6"/>
<circle cx="413.63" cy="224.7" r="1.05" fill="#fff" stroke="#444" stroke-width="0.45"/>
<circle cx="416.42" cy="224.7" r="1.05" fill="#fff" stroke="#444" stroke-width="0.45"/>
<circle cx="419.21" cy="224.7" r="1.05" fill="#fff" stroke="#444" stroke-width="0.45"/>
<rect x="426.19" y="225.14" width="9.3" height="33.36" fill="#c75961" stroke="#383838" stroke-width="0.6"/>
<circle cx="428.05" cy="225.14" r="1.05" fill="#fff" stroke="#444" stroke-width="0.45"/>
<circle cx="430.84" cy="225.14" r="1.05" fill="#fff" stroke="#444" stroke-width="0.45"/>
<circle cx="433.63" cy="225.14" r="1.05" fill="#fff" stroke="#444" stroke-width="0.45"/>
<rect x="440.61" y="223.82" width="9.3" height="34.68" fill="#c75961" stroke="#383838" stroke-width="0.6"/>
<circle cx="442.47" cy="223.82" r="1.05" fill="#fff" stroke="#444" stroke-width="0.45"/>
<circle cx="445.26" cy="223.82" r="1.05" fill="#fff" stroke="#444" stroke-width="0.45"/>
<circle cx="448.05" cy="223.82" r="1.05" fill="#fff" stroke="#444" stroke-width="0.45"/>
<rect x="455.03" y="226.01" width="9.3" height="32.49" fill="#c75961" stroke="#383838" stroke-width="0.6"/>
<circle cx="456.89" cy="226.01" r="1.05" fill="#fff" stroke="#444" stroke-width="0.45"/>
<circle cx="459.68" cy="226.01" r="1.05" fill="#fff" stroke="#444" stroke-width="0.45"/>
<circle cx="462.47" cy="226.01" r="1.05" fill="#fff" stroke="#444" stroke-width="0.45"/>
<rect x="469.45" y="239.62" width="9.3" height="18.88" fill="#7191cb" stroke="#383838" stroke-width="0.6"/>
<circle cx="471.31" cy="239.62" r="1.05" fill="#fff" stroke="#444" stroke-width="0.45"/>
<circle cx="474.1" cy="239.62" r="1.05" fill="#fff" stroke="#444" stroke-width="0.45"/>
<circle cx="476.89" cy="239.62" r="1.05" fill="#fff" stroke="#444" stroke-width="0.45"/>
<text x="476.71" y="224.2" font-size="5.3" transform="rotate(-90 476.71 224.2)" fill="#2a2a2a" textLength="25.5" lengthAdjust="spacingAndGlyphs">P = 0.0002</text>
<text x="474.8" y="235.78" font-size="7" text-anchor="middle" fill="#222">***</text>
<text x="366.37" y="236" font-size="8.53" text-anchor="middle" transform="rotate(-90 366.37 236)">Pearson's <tspan font-style='italic'>r</tspan></text>
<text x="494.45" y="237" font-size="8.74" text-anchor="middle" transform="rotate(-90 494.45 237)">CD3ε</text>
<line x1="392.5" y1="272.5" x2="483.6" y2="272.5" stroke="#b4b4b4" stroke-width="0.9"/>
<line x1="483.6" y1="272.5" x2="483.6" y2="316.5" stroke="#999" stroke-width="0.7"/>
<line x1="392.5" y1="272.5" x2="392.5" y2="316.5" stroke="#555" stroke-width="0.7"/>
<line x1="392.5" y1="316.5" x2="483.6" y2="316.5" stroke="#555" stroke-width="0.7"/>
<line x1="388.5" y1="272.42" x2="392.5" y2="272.42" stroke="#555" stroke-width="0.6"/>
<text x="383.6" y="274.98" font-size="7.2" text-anchor="end" fill="#2a2a2a">0.8</text>
<line x1="388.5" y1="294.46" x2="392.5" y2="294.46" stroke="#555" stroke-width="0.6"/>
<text x="383.6" y="297.02" font-size="7.2" text-anchor="end" fill="#2a2a2a">0.4</text>
<line x1="388.5" y1="316.5" x2="392.5" y2="316.5" stroke="#555" stroke-width="0.6"/>
<text x="383.6" y="319.06" font-size="7.2" text-anchor="end" fill="#2a2a2a">0</text>
<rect x="397.35" y="279.58" width="9.3" height="36.92" fill="#c75961" stroke="#383838" stroke-width="0.6"/>
<circle cx="399.21" cy="279.58" r="1.05" fill="#fff" stroke="#444" stroke-width="0.45"/>
<circle cx="402" cy="279.58" r="1.05" fill="#fff" stroke="#444" stroke-width="0.45"/>
<circle cx="404.79" cy="279.58" r="1.05" fill="#fff" stroke="#444" stroke-width="0.45"/>
<rect x="411.77" y="278.21" width="9.3" height="38.29" fill="#c75961" stroke="#383838" stroke-width="0.6"/>
<circle cx="413.63" cy="278.21" r="1.05" fill="#fff" stroke="#444" stroke-width="0.45"/>
<circle cx="416.42" cy="278.21" r="1.05" fill="#fff" stroke="#444" stroke-width="0.45"/>
<circle cx="419.21" cy="278.21" r="1.05" fill="#fff" stroke="#444" stroke-width="0.45"/>
<rect x="426.19" y="280.41" width="9.3" height="36.09" fill="#c75961" stroke="#383838" stroke-width="0.6"/>
<circle cx="428.05" cy="280.41" r="1.05" fill="#fff" stroke="#444" stroke-width="0.45"/>
<circle cx="430.84" cy="280.41" r="1.05" fill="#fff" stroke="#444" stroke-width="0.45"/>
<circle cx="433.63" cy="280.41" r="1.05" fill="#fff" stroke="#444" stroke-width="0.45"/>
<rect x="440.61" y="280.41" width="9.3" height="36.09" fill="#c75961" stroke="#383838" stroke-width="0.6"/>
<circle cx="442.47" cy="280.41" r="1.05" fill="#fff" stroke="#444" stroke-width="0.45"/>
<circle cx="445.26" cy="280.41" r="1.05" fill="#fff" stroke="#444" stroke-width="0.45"/>
<circle cx="448.05" cy="280.41" r="1.05" fill="#fff" stroke="#444" stroke-width="0.45"/>
<rect x="455.03" y="280.91" width="9.3" height="35.59" fill="#c75961" stroke="#383838" stroke-width="0.6"/>
<circle cx="456.89" cy="280.91" r="1.05" fill="#fff" stroke="#444" stroke-width="0.45"/>
<circle cx="459.68" cy="280.91" r="1.05" fill="#fff" stroke="#444" stroke-width="0.45"/>
<circle cx="462.47" cy="280.91" r="1.05" fill="#fff" stroke="#444" stroke-width="0.45"/>
<rect x="469.45" y="301.07" width="9.3" height="15.43" fill="#7191cb" stroke="#383838" stroke-width="0.6"/>
<circle cx="471.31" cy="301.07" r="1.05" fill="#fff" stroke="#444" stroke-width="0.45"/>
<circle cx="474.1" cy="301.07" r="1.05" fill="#fff" stroke="#444" stroke-width="0.45"/>
<circle cx="476.89" cy="301.07" r="1.05" fill="#fff" stroke="#444" stroke-width="0.45"/>
<text x="476.71" y="283" font-size="5.3" transform="rotate(-90 476.71 283)" fill="#2a2a2a" textLength="24.5" lengthAdjust="spacingAndGlyphs">P = 0.0008</text>
<text x="474.8" y="295.28" font-size="7" text-anchor="middle" fill="#222">**</text>
<text x="366.37" y="294.5" font-size="8.53" text-anchor="middle" transform="rotate(-90 366.37 294.5)">Pearson's <tspan font-style='italic'>r</tspan></text>
<text x="494.45" y="294.5" font-size="8.74" text-anchor="middle" transform="rotate(-90 494.45 294.5)">RBD</text>
<line x1="402" y1="316.5" x2="402" y2="320.5" stroke="#555" stroke-width="0.6"/>
<line x1="416.42" y1="316.5" x2="416.42" y2="320.5" stroke="#555" stroke-width="0.6"/>
<line x1="430.84" y1="316.5" x2="430.84" y2="320.5" stroke="#555" stroke-width="0.6"/>
<line x1="445.26" y1="316.5" x2="445.26" y2="320.5" stroke="#555" stroke-width="0.6"/>
<line x1="459.68" y1="316.5" x2="459.68" y2="320.5" stroke="#555" stroke-width="0.6"/>
<line x1="474.1" y1="316.5" x2="474.1" y2="320.5" stroke="#555" stroke-width="0.6"/>
<text x="405" y="328.8" font-size="7.3" text-anchor="end" transform="rotate(-45 405 328.8)" fill="#333">w/ RNA-FM</text>
<text x="419.42" y="328.8" font-size="7.3" text-anchor="end" transform="rotate(-45 419.42 328.8)" fill="#333">w/ RiNALMo</text>
<text x="433.84" y="328.8" font-size="7.3" text-anchor="end" transform="rotate(-45 433.84 328.8)" fill="#333">w/ EvoFlow-RNA</text>
<text x="448.26" y="328.8" font-size="7.3" text-anchor="end" transform="rotate(-45 448.26 328.8)" fill="#333">w/ RNAErnie</text>
<text x="462.68" y="328.8" font-size="7.3" text-anchor="end" transform="rotate(-45 462.68 328.8)" fill="#333">w/ RNA-BERT</text>
<text x="477.1" y="328.8" font-size="7.3" text-anchor="end" transform="rotate(-45 477.1 328.8)" fill="#333">w/ Evo</text>
<text x="520.4" y="199.8" font-size="12.2" font-weight="bold" fill="#000" stroke="#000" stroke-width="0.3">g</text>
<line x1="557.7" y1="214.9" x2="648.2" y2="214.9" stroke="#b4b4b4" stroke-width="0.9"/>
<line x1="648.2" y1="214.9" x2="648.2" y2="305.5" stroke="#999" stroke-width="0.7"/>
<line x1="557.7" y1="214.9" x2="557.7" y2="305.5" stroke="#555" stroke-width="0.7"/>
<line x1="557.7" y1="305.5" x2="648.2" y2="305.5" stroke="#555" stroke-width="0.7"/>
<line x1="553.7" y1="214.9" x2="557.7" y2="214.9" stroke="#555" stroke-width="0.6"/>
<text x="549.1" y="217.53" font-size="7.4" text-anchor="end" fill="#2a2a2a">0.25</text>
<line x1="553.7" y1="233.02" x2="557.7" y2="233.02" stroke="#555" stroke-width="0.6"/>
<text x="549.1" y="235.65" font-size="7.4" text-anchor="end" fill="#2a2a2a">0.20</text>
<line x1="553.7" y1="251.14" x2="557.7" y2="251.14" stroke="#555" stroke-width="0.6"/>
<text x="549.1" y="253.77" font-size="7.4" text-anchor="end" fill="#2a2a2a">0.15</text>
<line x1="553.7" y1="269.26" x2="557.7" y2="269.26" stroke="#555" stroke-width="0.6"/>
<text x="549.1" y="271.89" font-size="7.4" text-anchor="end" fill="#2a2a2a">0.10</text>
<line x1="553.7" y1="287.38" x2="557.7" y2="287.38" stroke="#555" stroke-width="0.6"/>
<text x="549.1" y="290.01" font-size="7.4" text-anchor="end" fill="#2a2a2a">0.05</text>
<line x1="553.7" y1="305.5" x2="557.7" y2="305.5" stroke="#555" stroke-width="0.6"/>
<text x="549.1" y="308.13" font-size="7.4" text-anchor="end" fill="#2a2a2a">0</text>
<rect x="562.15" y="274.33" width="9.5" height="31.17" fill="#c75961" stroke="#383838" stroke-width="0.6"/>
<text x="569.64" y="271.33" font-size="7.6" transform="rotate(-90 569.64 271.33)" fill="#2a2a2a">0.086</text>
<rect x="576.6" y="257.66" width="9.5" height="47.84" fill="#c75961" stroke="#383838" stroke-width="0.6"/>
<text x="584.09" y="254.66" font-size="7.6" transform="rotate(-90 584.09 254.66)" fill="#2a2a2a">0.132</text>
<rect x="591.05" y="251.14" width="9.5" height="54.36" fill="#c75961" stroke="#383838" stroke-width="0.6"/>
<text x="598.54" y="248.14" font-size="7.6" transform="rotate(-90 598.54 248.14)" fill="#2a2a2a">0.150</text>
<rect x="605.5" y="264.19" width="9.5" height="41.31" fill="#c75961" stroke="#383838" stroke-width="0.6"/>
<text x="612.99" y="261.19" font-size="7.6" transform="rotate(-90 612.99 261.19)" fill="#2a2a2a">0.114</text>
<rect x="619.95" y="235.92" width="9.5" height="69.58" fill="#c75961" stroke="#383838" stroke-width="0.6"/>
<text x="627.44" y="232.92" font-size="7.6" transform="rotate(-90 627.44 232.92)" fill="#2a2a2a">0.192</text>
<rect x="634.4" y="242.44" width="9.5" height="63.06" fill="#7191cb" stroke="#383838" stroke-width="0.6"/>
<text x="641.89" y="239.44" font-size="7.6" transform="rotate(-90 641.89 239.44)" fill="#2a2a2a">0.174</text>
<line x1="558.7" y1="274.33" x2="648.2" y2="274.33" stroke="#e42a26" stroke-width="0.9" stroke-dasharray="2.6,1.7"/>
<text x="527.91" y="260.3" font-size="8.63" text-anchor="middle" transform="rotate(-90 527.91 260.3)">Time (s)</text>
<line x1="566.9" y1="305.5" x2="566.9" y2="309.5" stroke="#555" stroke-width="0.6"/>
<line x1="581.35" y1="305.5" x2="581.35" y2="309.5" stroke="#555" stroke-width="0.6"/>
<line x1="595.8" y1="305.5" x2="595.8" y2="309.5" stroke="#555" stroke-width="0.6"/>
<line x1="610.25" y1="305.5" x2="610.25" y2="309.5" stroke="#555" stroke-width="0.6"/>
<line x1="624.7" y1="305.5" x2="624.7" y2="309.5" stroke="#555" stroke-width="0.6"/>
<line x1="639.15" y1="305.5" x2="639.15" y2="309.5" stroke="#555" stroke-width="0.6"/>
<text x="569.9" y="318.5" font-size="7.3" text-anchor="end" transform="rotate(-45 569.9 318.5)" fill="#333">w/ RNA-FM</text>
<text x="584.35" y="318.5" font-size="7.3" text-anchor="end" transform="rotate(-45 584.35 318.5)" fill="#333">w/ RiNALMo</text>
<text x="598.8" y="318.5" font-size="7.3" text-anchor="end" transform="rotate(-45 598.8 318.5)" fill="#333">w/ EvoFlow-RNA</text>
<text x="613.25" y="318.5" font-size="7.3" text-anchor="end" transform="rotate(-45 613.25 318.5)" fill="#333">w/ RNAErnie</text>
<text x="627.7" y="318.5" font-size="7.3" text-anchor="end" transform="rotate(-45 627.7 318.5)" fill="#333">w/ RNA-BERT</text>
<text x="642.15" y="318.5" font-size="7.3" text-anchor="end" transform="rotate(-45 642.15 318.5)" fill="#333">w/ Evo</text>
<text x="0" y="389.3" font-size="12.2" font-weight="bold" fill="#000" stroke="#000" stroke-width="0.3">h</text>
<rect x="35.4" y="395.2" width="109.7" height="91.1" fill="none" stroke="#606060" stroke-width="0.75"/>
<line x1="31.4" y1="395.2" x2="35.4" y2="395.2" stroke="#555" stroke-width="0.6"/>
<text x="27.4" y="397.86" font-size="7.5" text-anchor="end" fill="#2a2a2a">1.0</text>
<line x1="31.4" y1="413.42" x2="35.4" y2="413.42" stroke="#555" stroke-width="0.6"/>
<text x="27.4" y="416.08" font-size="7.5" text-anchor="end" fill="#2a2a2a">0.8</text>
<line x1="31.4" y1="431.64" x2="35.4" y2="431.64" stroke="#555" stroke-width="0.6"/>
<text x="27.4" y="434.3" font-size="7.5" text-anchor="end" fill="#2a2a2a">0.6</text>
<line x1="31.4" y1="449.86" x2="35.4" y2="449.86" stroke="#555" stroke-width="0.6"/>
<text x="27.4" y="452.52" font-size="7.5" text-anchor="end" fill="#2a2a2a">0.4</text>
<line x1="31.4" y1="468.08" x2="35.4" y2="468.08" stroke="#555" stroke-width="0.6"/>
<text x="27.4" y="470.74" font-size="7.5" text-anchor="end" fill="#2a2a2a">0.2</text>
<line x1="31.4" y1="486.3" x2="35.4" y2="486.3" stroke="#555" stroke-width="0.6"/>
<text x="27.4" y="488.96" font-size="7.5" text-anchor="end" fill="#2a2a2a">0</text>
<line x1="35.4" y1="486.3" x2="35.4" y2="489.5" stroke="#555" stroke-width="0.6"/>
<text x="35.4" y="499.2" font-size="7.5" text-anchor="middle" fill="#2a2a2a">0</text>
<line x1="57.34" y1="486.3" x2="57.34" y2="489.5" stroke="#555" stroke-width="0.6"/>
<text x="57.34" y="499.2" font-size="7.5" text-anchor="middle" fill="#2a2a2a">0.2</text>
<line x1="79.28" y1="486.3" x2="79.28" y2="489.5" stroke="#555" stroke-width="0.6"/>
<text x="79.28" y="499.2" font-size="7.5" text-anchor="middle" fill="#2a2a2a">0.4</text>
<line x1="101.22" y1="486.3" x2="101.22" y2="489.5" stroke="#555" stroke-width="0.6"/>
<text x="101.22" y="499.2" font-size="7.5" text-anchor="middle" fill="#2a2a2a">0.6</text>
<line x1="123.16" y1="486.3" x2="123.16" y2="489.5" stroke="#555" stroke-width="0.6"/>
<text x="123.16" y="499.2" font-size="7.5" text-anchor="middle" fill="#2a2a2a">0.8</text>
<line x1="145.1" y1="486.3" x2="145.1" y2="489.5" stroke="#555" stroke-width="0.6"/>
<text x="145.1" y="499.2" font-size="7.5" text-anchor="middle" fill="#2a2a2a">1.0</text>
<text x="89.8" y="389.3" font-size="8" text-anchor="middle" fill="#222">CD3ε</text>
<text x="90.25" y="512" font-size="8.5" text-anchor="middle" fill="#2a2a2a">Recall</text>
<text x="10.45" y="440.7" font-size="8.74" text-anchor="middle" transform="rotate(-90 10.45 440.7)">Precision</text>
<path d="M35.4,395.2 L35.84,396.11 L36.72,398.84 L38.69,398.39 L41.98,397.48 L48.56,397.93 L57.34,398.84 L68.31,400.21 L79.28,402.03 L90.25,403.85 L101.22,406.13 L112.19,408.87 L123.16,412.51 L131.94,416.61 L137.42,420.71 L141.81,426.17 L144,431.64 L145.1,436.19" fill="none" stroke="#ee2020" stroke-width="1.1" stroke-linejoin="round"/>
<path d="M35.4,395.2 L35.62,406.13 L36.06,407.95 L36.72,407.04 L37.59,410.69 L39.79,414.33 L41.98,414.79 L44.18,414.33 L48.56,415.24 L57.34,416.61 L79.28,420.71 L101.22,424.35 L123.16,428.91 L145.1,435.28" fill="none" stroke="#b07ad0" stroke-width="0.9" stroke-linejoin="round"/>
<path d="M35.4,422.53 L35.84,418.89 L36.5,429.82 L37.59,426.17 L39.79,431.64 L41.98,433.01 L46.37,430.73 L57.34,433.92 L62.82,433.46 L90.25,434.37 L145.1,437.11" fill="none" stroke="#9a9a9a" stroke-width="0.9" stroke-dasharray="2.6,1.8" stroke-linejoin="round"/>
<line x1="41.5" y1="458.3" x2="54.1" y2="458.3" stroke="#ee2020" stroke-width="1.1"/>
<line x1="41.5" y1="467.6" x2="54.1" y2="467.6" stroke="#b07ad0" stroke-width="0.9"/>
<line x1="41.5" y1="476.6" x2="54.1" y2="476.6" stroke="#9a9a9a" stroke-width="0.9" stroke-dasharray="2.6,1.8"/>
<text x="58.5" y="460.4" font-size="7.4" fill="#333">w/ RNA-FM</text>
<text x="58.5" y="469.7" font-size="7.4" fill="#333">w/ Evo</text>
<text x="58.5" y="478.7" font-size="7.4" fill="#333">w/o guidance</text>
<rect x="360.7" y="395.4" width="108.8" height="91.2" fill="none" stroke="#606060" stroke-width="0.75"/>
<line x1="356.7" y1="395.4" x2="360.7" y2="395.4" stroke="#555" stroke-width="0.6"/>
<text x="352.7" y="398.06" font-size="7.5" text-anchor="end" fill="#2a2a2a">1.0</text>
<line x1="356.7" y1="413.64" x2="360.7" y2="413.64" stroke="#555" stroke-width="0.6"/>
<text x="352.7" y="416.3" font-size="7.5" text-anchor="end" fill="#2a2a2a">0.8</text>
<line x1="356.7" y1="431.88" x2="360.7" y2="431.88" stroke="#555" stroke-width="0.6"/>
<text x="352.7" y="434.54" font-size="7.5" text-anchor="end" fill="#2a2a2a">0.6</text>
<line x1="356.7" y1="450.12" x2="360.7" y2="450.12" stroke="#555" stroke-width="0.6"/>
<text x="352.7" y="452.78" font-size="7.5" text-anchor="end" fill="#2a2a2a">0.4</text>
<line x1="356.7" y1="468.36" x2="360.7" y2="468.36" stroke="#555" stroke-width="0.6"/>
<text x="352.7" y="471.02" font-size="7.5" text-anchor="end" fill="#2a2a2a">0.2</text>
<line x1="356.7" y1="486.6" x2="360.7" y2="486.6" stroke="#555" stroke-width="0.6"/>
<text x="352.7" y="489.26" font-size="7.5" text-anchor="end" fill="#2a2a2a">0</text>
<line x1="360.7" y1="486.6" x2="360.7" y2="489.8" stroke="#555" stroke-width="0.6"/>
<text x="360.7" y="499.5" font-size="7.5" text-anchor="middle" fill="#2a2a2a">0</text>
<line x1="382.46" y1="486.6" x2="382.46" y2="489.8" stroke="#555" stroke-width="0.6"/>
<text x="382.46" y="499.5" font-size="7.5" text-anchor="middle" fill="#2a2a2a">0.2</text>
<line x1="404.22" y1="486.6" x2="404.22" y2="489.8" stroke="#555" stroke-width="0.6"/>
<text x="404.22" y="499.5" font-size="7.5" text-anchor="middle" fill="#2a2a2a">0.4</text>
<line x1="425.98" y1="486.6" x2="425.98" y2="489.8" stroke="#555" stroke-width="0.6"/>
<text x="425.98" y="499.5" font-size="7.5" text-anchor="middle" fill="#2a2a2a">0.6</text>
<line x1="447.74" y1="486.6" x2="447.74" y2="489.8" stroke="#555" stroke-width="0.6"/>
<text x="447.74" y="499.5" font-size="7.5" text-anchor="middle" fill="#2a2a2a">0.8</text>
<line x1="469.5" y1="486.6" x2="469.5" y2="489.8" stroke="#555" stroke-width="0.6"/>
<text x="469.5" y="499.5" font-size="7.5" text-anchor="middle" fill="#2a2a2a">1.0</text>
<text x="414.6" y="389.3" font-size="8" text-anchor="middle" fill="#222">RBD</text>
<text x="415.1" y="512" font-size="8.5" text-anchor="middle" fill="#2a2a2a">Recall</text>
<text x="335.55" y="440.5" font-size="8.74" text-anchor="middle" transform="rotate(-90 335.55 440.5)">Precision</text>
<path d="M360.7,395.4 L366.14,395.4 L369.4,395.86 L373.76,397.68 L382.46,401.33 L387.9,405.43 L393.34,411.82 L396.6,415.46 L404.22,422.76 L409.66,427.32 L415.1,430.97 L425.98,437.81 L436.86,443.74 L447.74,448.3 L458.62,452.86 L469.5,457.42" fill="none" stroke="#1f3fe0" stroke-width="1.1" stroke-linejoin="round"/>
<path d="M360.7,395.4 L361.79,404.52 L363.96,420.02 L366.14,429.14 L368.32,435.53 L371.58,439.18 L377.02,442.82 L382.46,445.1 L393.34,447.84 L409.66,450.58 L425.98,452.86 L447.74,454.68 L469.5,457.42" fill="none" stroke="#b07ad0" stroke-width="0.9" stroke-linejoin="round"/>
<path d="M360.7,430.06 L361.03,456.5 L362.88,458.33 L366.14,460.15 L371.58,458.78 L382.46,457.87 L393.34,456.96 L425.98,456.96 L469.5,456.96" fill="none" stroke="#9a9a9a" stroke-width="0.9" stroke-dasharray="2.6,1.8" stroke-linejoin="round"/>
<line x1="402.9" y1="401.6" x2="416.4" y2="401.6" stroke="#1f3fe0" stroke-width="1.1"/>
<line x1="402.9" y1="409.9" x2="416.4" y2="409.9" stroke="#b07ad0" stroke-width="0.9"/>
<line x1="402.9" y1="418.2" x2="416.4" y2="418.2" stroke="#9a9a9a" stroke-width="0.9" stroke-dasharray="2.6,1.8"/>
<text x="421.1" y="403.8" font-size="7.4" fill="#333">w/ RNA-FM</text>
<text x="421.1" y="412.1" font-size="7.4" fill="#333">w/ Evo</text>
<text x="421.1" y="420.4" font-size="7.4" fill="#333">w/o guidance</text>
<line x1="200.3" y1="393.3" x2="314.2" y2="393.3" stroke="#b4b4b4" stroke-width="0.9"/>
<line x1="314.2" y1="393.3" x2="314.2" y2="486.6" stroke="#999" stroke-width="0.7"/>
<line x1="200.3" y1="393.3" x2="200.3" y2="486.6" stroke="#555" stroke-width="0.7"/>
<line x1="200.3" y1="486.6" x2="314.2" y2="486.6" stroke="#555" stroke-width="0.7"/>
<line x1="196.3" y1="393.3" x2="200.3" y2="393.3" stroke="#555" stroke-width="0.6"/>
<text x="192.9" y="395.96" font-size="7.5" text-anchor="end" fill="#2a2a2a">1.0</text>
<line x1="196.3" y1="411.96" x2="200.3" y2="411.96" stroke="#555" stroke-width="0.6"/>
<text x="192.9" y="414.62" font-size="7.5" text-anchor="end" fill="#2a2a2a">0.8</text>
<line x1="196.3" y1="430.62" x2="200.3" y2="430.62" stroke="#555" stroke-width="0.6"/>
<text x="192.9" y="433.28" font-size="7.5" text-anchor="end" fill="#2a2a2a">0.6</text>
<line x1="196.3" y1="449.28" x2="200.3" y2="449.28" stroke="#555" stroke-width="0.6"/>
<text x="192.9" y="451.94" font-size="7.5" text-anchor="end" fill="#2a2a2a">0.4</text>
<line x1="196.3" y1="467.94" x2="200.3" y2="467.94" stroke="#555" stroke-width="0.6"/>
<text x="192.9" y="470.6" font-size="7.5" text-anchor="end" fill="#2a2a2a">0.2</text>
<line x1="196.3" y1="486.6" x2="200.3" y2="486.6" stroke="#555" stroke-width="0.6"/>
<text x="192.9" y="489.26" font-size="7.5" text-anchor="end" fill="#2a2a2a">0</text>
<line x1="199.8" y1="486.6" x2="199.8" y2="489.8" stroke="#555" stroke-width="0.6"/>
<text x="199.8" y="498.9" font-size="7.5" text-anchor="middle" fill="#2a2a2a">0</text>
<line x1="222.54" y1="486.6" x2="222.54" y2="489.8" stroke="#555" stroke-width="0.6"/>
<text x="222.54" y="498.9" font-size="7.5" text-anchor="middle" fill="#2a2a2a">0.2</text>
<line x1="245.28" y1="486.6" x2="245.28" y2="489.8" stroke="#555" stroke-width="0.6"/>
<text x="245.28" y="498.9" font-size="7.5" text-anchor="middle" fill="#2a2a2a">0.4</text>
<line x1="268.02" y1="486.6" x2="268.02" y2="489.8" stroke="#555" stroke-width="0.6"/>
<text x="268.02" y="498.9" font-size="7.5" text-anchor="middle" fill="#2a2a2a">0.6</text>
<line x1="290.76" y1="486.6" x2="290.76" y2="489.8" stroke="#555" stroke-width="0.6"/>
<text x="290.76" y="498.9" font-size="7.5" text-anchor="middle" fill="#2a2a2a">0.8</text>
<line x1="313.5" y1="486.6" x2="313.5" y2="489.8" stroke="#555" stroke-width="0.6"/>
<text x="313.5" y="498.9" font-size="7.5" text-anchor="middle" fill="#2a2a2a">1.0</text>
<text x="256.4" y="389.3" font-size="8" text-anchor="middle" fill="#222">CD3ε</text>
<text x="204.9" y="400.4" font-size="6.9" fill="#2a2a2a">Pearson's <tspan font-style='italic'>r</tspan> = 0.78</text>
<text x="258.25" y="511.3" font-size="8.4" text-anchor="middle" fill="#2a2a2a">Experimental score (CRISmers)</text>
<text x="166.48" y="439.9" font-size="8.84" text-anchor="middle" transform="rotate(-90 166.48 439.9)">Predicted score</text>
<text x="175.78" y="439.9" font-size="8.84" text-anchor="middle" transform="rotate(-90 175.78 439.9)">(GRAPE-LM)</text>
<defs><marker id="mr" markerUnits="userSpaceOnUse" markerWidth="4" markerHeight="4" refX="2" refY="2" overflow="visible"><circle cx="2" cy="2" r="1.2" fill="none" stroke="#c44a55" stroke-width="0.55"/></marker></defs>
<path d="M233.2 449.9 288.1 424.2 216.9 466.3 296.6 399.2 216.9 481.0 262.9 440.9 304.9 413.6 271.4 422.4 285.9 403.2 284.0 428.8 260.6 432.9 239.9 458.0 266.7 441.1 273.2 424.6 250.5 436.9 281.7 420.2 260.8 434.7 279.4 426.2 281.6 397.2 298.4 437.2 231.4 462.4 303.0 424.4 266.8 434.6 277.6 424.1 262.5 422.1 306.7 415.8 235.7 460.2 290.3 439.3 302.9 409.7 281.9 437.2 300.7 410.0 235.7 439.1 294.2 433.0 296.3 424.5 302.7 413.9 268.9 412.1 290.1 407.5 229.1 439.1 220.7 466.5 235.8 468.5 271.1 441.2 306.9 411.7 298.3 413.7 231.0 478.9 300.6 422.3 262.6 430.9 229.2 447.4 296.3 395.1 298.2 399.0 218.8 470.8 261.0 415.9 271.3 428.9 281.5 418.4 262.8 432.7 269.3 430.9 246.3 432.7 264.6 449.5 262.6 445.6 290.0 443.4 277.4 422.4 294.2 403.6 235.4 449.6 222.6 455.7 225.1 466.6 309.2 426.7 302.6 405.6 279.5 435.1 265.0 433.1 241.9 461.9 287.9 422.4 292.3 407.9 304.8 426.6 233.3 458.1 307.2 392.8 260.4 460.0 256.8 447.5 266.9 414.0 304.6 403.6 252.6 428.5 214.7 466.5 300.8 418.2 296.4 403.3 302.4 418.0 304.6 409.5 264.7 443.1 307.1 428.7 260.5 453.5 250.0 459.9 256.4 428.6 286.1 435.0 308.8 392.6 300.8 432.9 273.4 441.0 267.2 432.9 282.0 445.4 247.9 447.8 283.9 419.9 228.9 451.5 284.1 422.3 256.2 441.0 235.8 483.2 256.4 458.1 285.8 430.9 227.2 464.0 275.6 426.7 298.7 426.6 250.1 454.0 277.5 430.6 256.2 426.3 275.6 441.4 273.5 443.4 302.9 401.5 235.6 451.4 260.6 418.2 296.2 401.6 256.5 436.9 286.0 426.8 300.7 430.5 288.1 403.6 268.9 462.0 294.6 437.1 292.1 412.0 243.8 437.0 235.4 464.4 281.6 441.3 275.3 445.5 302.6 420.3 237.7 458.3 283.7 439.4 275.2 437.3 245.8 455.6 273.6 392.8 256.5 422.2 298.2 434.9 273.0 436.9 254.5 438.9 277.4 437.1 290.0 428.7 304.5 430.7 265.1 426.6 243.8 451.7 294.3 405.3 249.9 430.5 296.4 418.0 254.3 415.9 245.8 440.9 264.8 430.7 273.5 428.7 300.4 434.7 302.5 426.2 264.7 428.4 290.2 415.7 275.4 409.6 271.0 418.3 275.4 439.0 225.0 457.8 292.2 413.8 279.5 420.4 300.3 426.4 275.6 420.2 306.6 407.5 265.1 441.3 210.5 462.3 246.1 430.9 239.6 453.9 222.9 466.2 258.6 413.7 289.9 420.5 216.8 472.8 306.7 430.5 250.0 445.2 258.4 426.7 281.8 413.7 279.8 445.7 300.6 437.0 294.2 418.3 273.6 422.2 284.1 437.0 279.9 418.0 300.3 411.7 254.4 430.6 271.4 407.7 241.6 472.5 231.1 472.4 258.5 456.1 275.1 428.5 294.4 414.1 275.2 422.6 252.5 464.4 271.3 443.0 260.4 430.6 279.6 458.0 304.8 420.1 273.5 414.0 275.5 447.3 247.8 438.9 298.6 417.8 268.8 432.6 269.0 420.3 231.3 468.3 248.2 443.0 214.2 483.0 294.4 434.7 290.0 399.3 239.6 432.7 296.1 407.5 271.1 433.0 244.2 441.1 283.8 441.1 302.9 416.2 244.1 432.9 250.1 447.5 218.8 456.1 262.8 418.0 229.2 432.7 300.8 424.7 296.6 405.7 306.9 397.0 247.8 453.6 248.0 456.0 304.6 424.2 246.2 439.1 275.5 432.6 269.1 399.1 229.4 449.7 296.5 426.3 294.0 415.9 258.6 428.4 260.8 414.1 237.8 451.8 273.1 430.4 212.5 480.9 263.0 428.6 245.9 449.7 294.3 426.5 294.4 399.4 235.6 466.1 292.0 432.6 269.3 424.4 277.2 405.3 292.1 420.2 266.9 443.4 305.0 393.1 279.5 413.9 254.5 433.0 300.4 420.0 308.9 401.4 233.5 474.6 244.0 454.1 300.5 414.1 239.6 439.2 246.0 472.7 281.4 409.6 270.9 409.5 292.0 417.9 229.1 483.2 267.1 439.3 233.7 441.0 246.0 443.3 283.6 424.6 277.4 407.6 256.7 439.2 252.5 449.7 300.8 403.5 237.4 453.5 243.7 449.4 283.5 415.8 289.8 411.6 266.8 419.9 256.5 451.6 306.9 418.1 258.7 422.6 283.6 430.5 254.4 424.2 279.7 431.0 247.9 418.3 306.8 395.2 269.1 428.5 241.7 445.5 265.0 468.4 292.2 434.9 243.7 443.5 256.7 424.5 305.0 407.8 220.7 481.2 309.1 417.9 246.0 436.8 275.7 434.9 271.2 434.8 304.8 405.4 273.2 418.1 288.2 433.0 273.4 405.7 258.6 464.3 275.1 443.2 256.3 420.4 266.8 449.3 286.1 420.3 267.0 437.0 277.8 441.2 292.3 393.2 285.9 439.1 281.4 424.3 300.6 407.6 250.3 449.9 229.3 435.0 252.4 426.7 246.1 460.3 289.9 405.8 269.1 443.2 290.2 430.5 298.8 420.2 264.9 409.5 252.5 435.0 241.5 443.1 222.8 443.3 292.0 403.2 300.5 399.4 294.4 420.0 218.8 441.4 265.2 434.8 277.3 434.7 252.2 445.6 256.6 459.8 266.9 407.6 212.4 472.6 262.6 416.2 269.2 416.2 226.8 459.9 250.1 432.8 302.8 407.4 306.9 432.8 284.0 414.1 231.2 445.4 247.9 433.1 256.7 453.9 218.4 472.6 267.0 430.5 235.2 462.0 218.7 483.2 300.7 395.3 227.0 432.9 237.7 443.6 264.9 424.2 290.3 424.6 294.1 424.1 279.4 411.5 222.7 464.5 227.0 462.3 298.4 422.5 252.6 443.2 292.1 426.7 248.3 466.6 252.1 451.4 290.4 432.8 256.8 432.8 287.9 407.7 262.9 455.6 294.3 411.8 273.1 401.0 254.2 414.2 223.0 460.4 308.8 407.3 296.5 441.0 279.6 407.4 275.7 399.0 281.6 426.6 298.4 416.1 273.2 439.3 260.9 451.7 241.7 474.9 229.0 466.2 252.1 436.7 294.6 401.2 277.2 420.0 290.0 414.0 258.8 445.5 265.2 420.1 284.0 407.6 308.8 422.0 244.0 439.4 235.6 480.8 281.4 439.0 237.6 464.1 243.9 460.0 288.0 394.8 292.5 424.4 285.6 392.7 237.5 455.9 298.6 432.5 288.3 441.3 287.9 437.1 271.4 437.1 260.7 455.9 304.6 438.9 233.6 462.2 307.1 414.0 260.7 426.4 290.3 409.9 233.1 470.5 269.0 405.6 300.7 415.8 254.6 441.2 264.9 439.0 242.1 464.3 248.0 426.6 208.4 464.2 273.2 409.8 218.6 453.7 250.4 422.2 231.3 474.8 279.6 443.3 277.6 409.4 237.3 438.8 279.8 409.8 266.7 455.8 267.0 422.3 254.4 445.3 239.6 468.6 239.7 476.9 262.7 424.5 275.5 417.9 242.0 456.1 296.7 428.6 273.4 435.1 298.7 441.4 285.8 409.7 254.2 443.6 277.4 443.5 277.6 438.8 277.5 415.9 275.4 424.3 266.7 426.4 239.9 428.6 216.5 483.4 254.3 451.8 267.1 424.6 294.5 422.4 241.5 428.4 302.9 395.0 219.0 457.9 237.9 445.3 283.8 411.7 281.8 428.4 286.0 412.1 254.6 447.7 263.1 458.0 285.9 432.7 250.0 424.6 277.8 411.8 260.9 443.5 262.9 426.2 218.5 481.4 298.8 405.5 237.4 447.7 212.5 460.3 258.3 453.7 305.1 416.0 218.9 464.3 243.9 445.2 237.6 470.6 225.2 460.1 290.4 418.1 252.2 439.1 223.0 445.7 252.2 460.3 229.1 453.8 302.8 422.1 273.1 445.1 269.3 409.7 290.0 435.2 231.5 470.7 281.9 422.5 214.5 478.9 290.2 401.0 271.0 438.9 231.2 466.6 258.4 447.2 252.5 420.3 239.5 431.0 298.5 424.3 239.4 451.6 222.8 472.7 258.9 439.0 275.3 430.8 275.1 413.7 307.0 420.5 292.1 405.5 241.8 439.0 268.9 426.8 298.3 443.1 223.2 462.1 254.5 418.3 225.2 445.4 210.6 470.5 227.3 466.4 248.2 437.2 220.9 468.2 208.0 451.9 279.6 422.1 290.3 403.4 288.0 409.5 239.5 445.7 237.9 460.0 271.2 420.1 292.3 422.0 260.6 411.7 281.7 399.0 241.6 451.9 235.8 453.8 273.3 447.5 302.8 392.7 283.7 432.9 277.8 426.5 283.6 409.9 302.7 428.6 254.5 453.6 256.3 435.1 258.6 399.0 308.7 413.8 227.3 451.7 266.9 428.7 258.8 430.8 289.9 426.3 263.0 449.8 233.5 454.0 269.2 422.0 292.4 416.1 256.4 413.9 290.2 445.2 242.0 434.9 309.0 409.7 300.9 397.0 296.7 443.3 246.0 458.0 229.0 445.6 252.2 424.4 271.3 414.2 286.0 441.5 285.7 401.5 288.1 418.3 245.9 464.4 247.9 462.5 294.2 397.1 220.9 453.5 264.6 413.7 277.7 432.9 277.3 399.4 292.5 409.7 307.0 405.8 239.4 481.0 241.9 447.2 231.6 464.2 237.4 433.0 275.5 412.0 277.4 458.2 294.0 430.6 220.8 474.7 252.3 432.6 292.2 399.1 296.2 431.0 264.8 416.0 223.1 439.2 220.7 451.8 248.2 457.7 285.9 424.4 252.4 441.4 296.6 420.4 239.8 455.7 302.5 411.5 224.9 449.6 258.6 449.6 294.5 407.7 265.0 418.4 266.8 399.3 292.2 428.5 303.0 439.2 239.8 435.1 212.3 479.1 289.9 441.0 252.2 430.8 226.9 454.1 300.5 428.8 224.8 461.9 258.7 437.3 296.3 409.8 260.8 428.8 279.7 436.8 235.5 472.6 260.9 437.0 231.2 481.3 275.4 453.7 237.6 449.4 233.4 445.2 285.6 428.5 248.3 445.4 283.9 405.2 290.1 422.2 233.5 439.3 225.1 451.9 260.8 399.4 243.6 434.7 283.8 426.4 271.2 449.5 294.5 393.0 237.7 478.8 283.9 434.6 279.8 424.5 277.2 455.9 235.3 470.8 300.5 392.9 286.0 397.4 285.8 416.2 258.5 441.4 220.8 460.0 279.8 453.9 248.1 464.2 233.2 464.6 306.9 403.4 233.6 432.8 241.8 424.3 279.7 401.6 281.9 416.0 271.0 424.2 267.0 466.4 307.0 426.4 283.5 401.1 231.4 447.7 281.9 401.3 308.7 399.1 229.4 443.2 281.9 430.7 273.3 411.6 256.3 455.7 302.7 399.2 262.5 436.8 252.3 453.8 239.9 464.5 286.1 405.6 296.3 445.7 243.7 464.1 221.0 455.9 275.3 416.1 281.8 443.1 264.8 451.9 292.3 436.7 235.5 457.9 246.1 445.6 247.9 483.0 304.7 418.4 268.8 403.2 208.0 481.3 241.9 432.5 264.8 401.3 246.0 451.5 273.4 420.4 273.1 415.7 298.3 393.1 260.9 422.3 296.2 416.3 229.1 468.5 212.2 470.9 229.5 457.9 260.9 458.2 256.3 449.8 279.3 432.7 304.7 397.2 254.1 464.2 233.6 483.4 225.3 439.0 298.5 445.5 264.7 422.5 220.6 458.2 273.5 464.6 291.9 453.8 269.0 435.0 245.9 428.6 241.6 437.2 245.9 435.0 267.2 418.1 292.4 430.8 269.1 413.8 307.1 399.3 287.8 413.6 273.3 432.8 262.7 460.4 290.1 392.8 284.0 392.9 305.0 422.5 246.2 453.9 223.1 483.3 250.4 443.4 254.3 422.4 244.1 426.4 260.5 439.4 306.8 409.9 260.7 441.2 269.2 436.7 273.3 426.3 264.9 453.7 231.6 434.8 233.4 481.0 281.6 411.9 233.3 472.8 305.1 401.3 225.2 430.7 300.6 401.1 254.6 426.5 288.2 411.9 306.6 422.2 288.0 416.0 243.7 428.8 285.7 436.8 252.3 447.3 271.1 426.5 231.1 437.1 214.2 468.3 277.6 453.5 285.7 422.1 288.2 426.6 290.2 395.2 218.9 479.0 241.6 466.6 212.1 476.7 277.3 414.1 247.8 424.2 269.2 451.5 225.0 472.5 212.3 464.4 262.7 439.2 264.8 437.2 305.0 437.2 277.7 447.6 269.4 439.1 306.8 424.6 281.5 432.5 286.1 449.7 258.3 417.8 279.7 416.3 296.5 411.6 222.8 479.2 283.7 418.2 271.4 401.2 287.7 434.8 214.3 462.4 237.5 462.4 220.5 464.1 258.5 434.9 288.1 438.9 258.5 420.2 298.3 407.8 227.1 455.8 304.9 398.9 300.4 405.2 291.9 439.1 254.1 434.7 250.0 439.3 210.5 477.0 229.3 470.9 242.0 441.3 285.9 418.0 304.7 411.9 273.0 451.6 239.8 449.8 256.4 443.4 237.8 437.1 304.5 394.8 260.6 462.3 268.8 417.9 248.3 451.9 262.9 411.5 269.4 453.8 288.0 430.7 294.5 428.9 258.4 432.5 221.0 470.6 277.3 428.8 250.2 441.1 250.4 472.8 294.1 409.4 287.7 405.4 221.0 462.3 281.7 434.9 260.7 405.3 258.8 416.1 283.9 449.3 222.7 449.8 243.9 430.5 237.8 466.5 233.4 451.6 302.4 403.3 243.9 474.7 288.3 456.0 254.2 458.3 258.7 452.0 239.7 462.2 235.6 436.7 237.9 430.6 243.8 458.2 258.8 460.2 279.7 451.5 263.1 443.3 298.5 409.6 279.6 428.6 260.8 464.1 269.0 456.2 289.8 396.9 283.6 395.2 248.0 441.3 298.3 428.4 245.7 462.1 245.8 426.2 256.6 430.4 216.9 451.6 216.4 474.5 309.1 403.2 233.5 459.9 258.4 412.0 309.1 397.3 256.6 445.1 292.2 449.7 287.8 428.3 273.2 454.0 233.6 468.7 248.4 409.5 250.4 428.7 290.1 436.9 225.0 464.3 244.2 455.8 294.3 441.2 239.7 441.0 240.0 436.9 246.3 418.0 290.4 447.5 248.3 430.7 279.4 405.7 304.9 428.3 222.8 458.0 218.9 434.9 224.9 456.0 223.1 468.6 252.1 422.0 237.4 483.0 245.9 413.9 242.0 449.6 294.1 394.7 308.9 416.1 231.2 460.1 292.4 401.4 273.5 449.9 277.4 392.9 218.7 462.0 252.4 456.1 245.7 447.4 298.7 397.2 288.2 397.1 216.7 479.3 292.0 397.3 244.1 462.3 258.6 443.1 231.3 453.6 288.0 401.3 266.8 405.2 296.3 439.2 279.4 441.0 308.8 428.5 269.0 449.7 268.9 441.5 256.6 415.7 218.7 447.3 250.5 466.4 223.1 453.9 279.8 395.1 237.3 424.1 258.9 424.3 260.8 449.4 269.1 392.6 237.6 434.7 250.3 414.0 250.2 470.5 296.1 392.7 233.6 447.5 298.4 401.4 243.8 422.3 296.4 453.9 271.1 397.1 231.2 451.8 281.5 403.7 226.9 468.8 308.9 430.9 296.7 413.9 286.2 413.8 285.8 395.0 309.2 412.0 254.1 449.5 304.8 434.8 214.8 474.8 245.8 470.3 224.8 476.6 306.7 401.1 287.7 420.1 220.9 482.9 237.7 428.8 296.1 422.2 271.1 447.7 260.6 447.6 271.5 430.7 302.5 397.4 237.7 473.0 298.7 411.9 271.3 399.5 214.8 438.9 216.4 468.7 231.5 456.0 243.6 419.9 265.1 456.0 252.6 413.8 241.8 453.7 252.3 468.5 239.7 447.4 241.7 460.2 263.1 392.7 298.6 403.1 218.9 449.6 281.9 451.9 252.4 462.0 214.4 470.6 212.4 466.2 246.2 424.4 271.1 411.8 296.6 435.1 262.9 405.6 231.6 449.5 275.2 407.9 231.5 420.1 263.0 435.1 288.0 445.4 235.6 430.8 229.0 430.9 218.6 474.9 260.4 445.3 275.7 449.6 271.3 464.2 248.0 411.9 227.2 458.2 281.7 449.6 302.7 449.7 256.8 462.2 212.3 449.7 267.0 401.1 248.1 434.8 224.8 441.3 227.2 428.8 220.9 432.9 273.6 458.1 235.7 445.5 250.1 468.7 266.9 458.1 254.3 437.1 231.3 438.9 267.1 445.2 302.5 432.7 239.9 443.3 271.5 415.9 254.7 455.9 243.6 470.5 279.8 439.2 235.3 476.7 229.5 472.7 216.7 464.6 250.4 458.1 237.5 426.5 271.2 405.4 265.0 447.8 208.4 470.7 296.2 436.9 300.8 454.1 250.3 435.2 252.3 417.9 277.7 403.5 248.1 449.5 244.1 447.6 309.0 424.4 210.2 481.1 256.7 418.1 260.5 424.7 222.6 440.9 254.7 420.0 275.5 397.3 214.3 477.1 285.8 445.6 256.4 464.5 226.9 439.3 250.5 451.7 302.5 447.4 220.6 472.9 279.9 403.3 229.3 456.2 233.3 443.4 239.8 470.4 269.1 457.9 216.6 455.7 300.3 441.1 229.4 464.4 212.6 468.5 214.7 481.2 241.8 468.4 205.9 475.1 277.7 418.2 250.4 407.5 281.8 407.8 222.9 451.5 224.7 483.1 267.1 459.9 218.8 476.7 285.6 443.2 214.6 457.7 233.2 435.2 237.4 468.2 250.3 464.0 268.9 447.3 267.2 447.6 283.6 445.2 226.9 483.5 205.8 480.9 218.5 466.7 225.1 481.3 264.9 445.4 248.1 420.1 239.5 460.4 296.4 432.7 227.0 447.6 281.7 405.4 229.0 460.3 294.1 453.5 258.9 409.6 208.1 474.8 235.3 441.4 258.7 457.8 214.7 460.1 249.9 481.1 246.1 466.2 248.4 460.1 226.8 445.2 279.5 399.2 227.2 443.5 223.1 432.7 256.6 409.8 260.9 392.9 231.1 443.0 264.6 464.2 208.5 478.9 258.4 462.0 269.3 445.6 223.1 447.4 271.5 445.4 267.0 451.7 242.1 479.0 227.4 415.8 292.3 443.2 241.6 422.5 286.0 462.1 248.1 428.3 221.0 477.1 235.2 432.6 287.8 398.9 252.0 457.9 233.1 455.7 302.9 430.9 262.6 451.5 288.1 453.6 309.2 405.6 220.6 443.5 306.6 437.0 239.5 474.5 287.8 449.5 271.3 393.0 262.8 447.4 260.7 420.0 258.8 401.4 254.4 460.0 309.0 395.0 227.3 472.9 212.6 483.2 302.5 462.1 214.7 401.2 290.0 479.3 269.3 460.3 231.3 424.2 264.7 472.5 216.7 435.1 292.5 460.2 239.7 426.3 289.8 476.9 243.6 405.2" fill="none" stroke="none" marker-start="url(#mr)" marker-mid="url(#mr)" marker-end="url(#mr)"/>
<path d="M206.05,478.58 L211.17,473.7 L216.86,468.48 L222.54,463.46 L228.23,458.63 L233.91,454.01 L239.59,449.59 L245.28,445.37 L250.97,441.35 L256.65,437.53 L262.34,433.91 L268.02,430.49 L273.71,427.27 L279.39,424.26 L285.07,421.44 L290.76,418.82 L296.44,416.41 L302.13,414.19 L307.81,412.18 L313.5,410.36" fill="none" stroke="#f01818" stroke-width="1.7" stroke-dasharray="3.6,2.3" stroke-linejoin="round"/>
<line x1="529.6" y1="393.3" x2="647" y2="393.3" stroke="#b4b4b4" stroke-width="0.9"/>
<line x1="647" y1="393.3" x2="647" y2="486.7" stroke="#999" stroke-width="0.7"/>
<line x1="529.6" y1="393.3" x2="529.6" y2="486.7" stroke="#555" stroke-width="0.7"/>
<line x1="529.6" y1="486.7" x2="647" y2="486.7" stroke="#555" stroke-width="0.7"/>
<line x1="525.6" y1="393.3" x2="529.6" y2="393.3" stroke="#555" stroke-width="0.6"/>
<text x="522.2" y="395.96" font-size="7.5" text-anchor="end" fill="#2a2a2a">1.0</text>
<line x1="525.6" y1="411.98" x2="529.6" y2="411.98" stroke="#555" stroke-width="0.6"/>
<text x="522.2" y="414.64" font-size="7.5" text-anchor="end" fill="#2a2a2a">0.8</text>
<line x1="525.6" y1="430.66" x2="529.6" y2="430.66" stroke="#555" stroke-width="0.6"/>
<text x="522.2" y="433.32" font-size="7.5" text-anchor="end" fill="#2a2a2a">0.6</text>
<line x1="525.6" y1="449.34" x2="529.6" y2="449.34" stroke="#555" stroke-width="0.6"/>
<text x="522.2" y="452" font-size="7.5" text-anchor="end" fill="#2a2a2a">0.4</text>
<line x1="525.6" y1="468.02" x2="529.6" y2="468.02" stroke="#555" stroke-width="0.6"/>
<text x="522.2" y="470.68" font-size="7.5" text-anchor="end" fill="#2a2a2a">0.2</text>
<line x1="525.6" y1="486.7" x2="529.6" y2="486.7" stroke="#555" stroke-width="0.6"/>
<text x="522.2" y="489.36" font-size="7.5" text-anchor="end" fill="#2a2a2a">0</text>
<line x1="530.7" y1="486.7" x2="530.7" y2="489.9" stroke="#555" stroke-width="0.6"/>
<text x="530.7" y="499" font-size="7.5" text-anchor="middle" fill="#2a2a2a">0</text>
<line x1="553.96" y1="486.7" x2="553.96" y2="489.9" stroke="#555" stroke-width="0.6"/>
<text x="553.96" y="499" font-size="7.5" text-anchor="middle" fill="#2a2a2a">0.2</text>
<line x1="577.22" y1="486.7" x2="577.22" y2="489.9" stroke="#555" stroke-width="0.6"/>
<text x="577.22" y="499" font-size="7.5" text-anchor="middle" fill="#2a2a2a">0.4</text>
<line x1="600.48" y1="486.7" x2="600.48" y2="489.9" stroke="#555" stroke-width="0.6"/>
<text x="600.48" y="499" font-size="7.5" text-anchor="middle" fill="#2a2a2a">0.6</text>
<line x1="623.74" y1="486.7" x2="623.74" y2="489.9" stroke="#555" stroke-width="0.6"/>
<text x="623.74" y="499" font-size="7.5" text-anchor="middle" fill="#2a2a2a">0.8</text>
<line x1="647" y1="486.7" x2="647" y2="489.9" stroke="#555" stroke-width="0.6"/>
<text x="647" y="499" font-size="7.5" text-anchor="middle" fill="#2a2a2a">1.0</text>
<text x="588.7" y="389.3" font-size="8" text-anchor="middle" fill="#222">RBD</text>
<text x="535" y="400.4" font-size="6.9" fill="#2a2a2a">Pearson's <tspan font-style='italic'>r</tspan> = 0.68</text>
<text x="589.3" y="511.3" font-size="8.4" text-anchor="middle" fill="#2a2a2a">Experimental score (CRISmers)</text>
<text x="496.58" y="440.3" font-size="8.84" text-anchor="middle" transform="rotate(-90 496.58 440.3)">Predicted score</text>
<text x="506.78" y="440.3" font-size="8.84" text-anchor="middle" transform="rotate(-90 506.78 440.3)">(GRAPE-LM)</text>
<defs><marker id="mb" markerUnits="userSpaceOnUse" markerWidth="4" markerHeight="4" refX="2" refY="2" overflow="visible"><circle cx="2" cy="2" r="1.2" fill="none" stroke="#2a4c9c" stroke-width="0.55"/></marker></defs>
<path d="M555.1 483.1 569.6 470.4 533.7 470.6 535.8 483.3 561.4 479.0 575.9 445.7 571.8 485.5 592.9 472.7 540.0 451.7 544.1 462.5 575.6 485.7 536.0 479.2 579.9 462.3 563.3 474.6 588.2 462.0 569.6 449.9 584.3 483.0 561.4 449.5 542.3 460.3 586.6 462.2 594.7 460.2 571.4 466.7 590.3 454.1 536.3 460.4 578.2 474.9 559.3 458.0 532.0 483.2 535.9 456.3 540.4 450.0 535.8 468.6 569.9 445.7 550.8 470.6 557.2 481.2 544.3 478.9 546.3 476.9 531.5 470.8 556.8 462.3 567.3 462.4 579.9 447.6 594.8 447.8 558.8 460.4 536.0 485.7 546.4 485.2 529.6 481.0 538.4 451.9 575.9 481.0 548.5 483.2 592.9 436.9 563.4 483.4 555.2 477.3 590.5 441.2 569.8 481.0 569.4 439.3 592.5 453.9 548.6 456.1 569.8 451.6 554.8 443.1 592.4 445.7 590.6 464.1 556.9 485.3 531.8 460.2 599.0 466.2 599.2 468.6 546.5 479.3 544.7 447.8 578.0 458.4 596.8 451.7 584.1 451.9 554.9 452.0 601.1 443.6 582.4 479.1 540.3 447.6 600.9 462.5 540.4 485.2 560.9 451.9 590.9 474.7 548.5 462.0 548.7 449.7 556.7 468.8 573.5 443.5 567.4 464.2 567.5 478.9 531.9 453.8 542.2 466.2 554.8 464.3 571.7 462.6 548.6 476.7 586.7 455.7 596.8 466.4 575.8 458.0 563.0 464.6 565.5 445.6 599.3 476.8 571.5 481.4 540.4 470.5 586.2 443.4 542.3 480.9 594.7 445.5 546.7 466.4 600.9 447.8 542.3 475.0 544.5 474.8 581.9 466.8 531.9 474.9 575.8 443.3 588.3 441.4 538.1 456.1 550.5 481.2 561.1 474.8 542.2 452.1 579.9 468.8 536.2 451.6 536.1 472.7 569.5 447.5 550.8 477.1 537.8 481.4 534.1 474.7 586.4 475.2 567.4 485.4 548.6 485.6 584.1 466.6 599.2 483.3 590.7 451.8 559.2 464.5 582.4 458.0 559.4 480.9 592.7 456.3 550.7 468.9 542.4 468.6 550.6 460.0 548.5 447.3 553.1 470.4 565.4 466.8 544.1 477.2 538.2 470.8 533.7 477.1 574.1 464.1 584.4 447.7 558.8 475.1 601.0 456.0 533.8 449.4 594.6 451.9 540.2 468.8 567.2 447.7 574.1 449.4 580.1 485.2 539.9 472.9 537.9 460.2 565.2 449.7 535.9 476.9 584.4 441.3 565.1 470.9 565.6 462.0 578.3 483.1 580.4 474.6 567.2 483.0 595.0 479.0 601.2 466.6 563.2 445.2 546.3 462.2 540.2 483.5 565.2 485.6 532.0 476.7 553.0 455.7 590.8 481.2 596.9 474.7 557.1 472.9 603.0 468.7 550.9 485.3 538.0 447.8 567.5 443.6 575.9 460.4 582.3 485.6 584.2 460.1 597.2 470.5 552.9 453.9 601.3 474.8 571.6 468.5 542.5 447.4 567.3 477.1 596.8 481.1 544.6 483.0 571.5 445.5 584.5 464.2 567.3 455.9 592.6 476.9 558.9 468.6 598.8 485.6 533.6 462.4 594.5 487.2 558.8 445.6 567.5 458.3 563.3 454.0 546.3 447.5 577.7 477.2 576.2 456.3 538.1 462.5 559.0 476.8 573.7 466.5 598.9 458.0 594.9 477.2 599.2 453.9 561.2 477.2 577.8 485.4 554.7 470.8 580.3 451.7 600.9 477.2 546.6 451.7 552.6 479.2 546.4 470.5 577.8 470.7 546.7 445.8 584.5 470.7 584.3 468.3 542.2 472.7 599.0 480.9 590.8 466.5 534.0 451.8 544.4 473.1 586.1 485.2 584.0 443.6 555.2 462.6 548.9 452.0 596.7 458.2 598.8 464.4 598.7 441.5 559.4 466.2 596.6 479.4 588.5 452.0 573.7 474.7 552.9 483.4 544.6 453.6 548.7 464.4 594.8 483.1 537.8 466.6 582.3 470.9 584.1 481.3 571.9 479.0 603.0 483.4 565.3 443.2 540.3 462.3 597.0 468.8 593.0 451.6 573.6 472.9 540.5 479.4 548.7 479.1 580.1 479.4 536.0 464.5 576.1 483.3 542.5 476.8 552.9 447.5 592.7 441.6 557.0 479.4 531.8 445.5 561.2 447.8 563.2 481.1 556.8 477.0 567.7 445.4 586.2 479.3 559.2 479.2 546.6 472.8 582.0 445.6 533.8 485.3 590.4 483.6 561.2 462.5 561.1 468.4 531.6 464.4 565.4 452.1 563.0 479.3 565.6 468.5 538.0 468.4 567.4 470.7 544.5 445.4 565.2 479.1 588.6 445.5 536.2 481.0 594.7 474.9 580.1 449.9 575.7 464.5 571.9 443.2 588.6 474.9 601.2 451.9 584.2 474.8 576.2 441.6 573.6 487.7 534.0 481.2 575.7 449.8 578.0 472.5 538.3 472.5 575.9 466.2 540.0 481.1 592.5 475.1 532.0 462.6 598.8 449.7 533.8 464.1 588.6 481.4 552.5 449.8 586.5 454.0 531.9 468.5 555.1 453.7 588.6 460.2 548.8 443.2 565.5 453.8 579.8 454.1 571.5 474.9 546.5 449.9 531.5 485.5 580.0 455.8 557.2 445.3 538.2 485.5 592.6 447.5 576.1 476.8 538.3 479.0 552.9 468.6 531.7 457.9 561.3 456.0 569.7 479.3 592.8 479.2 531.6 479.1 586.2 464.6 548.3 445.6 550.5 466.5 538.3 457.8 535.8 453.9 575.8 472.7 558.9 483.3 595.0 485.5 559.2 443.3 546.6 458.1 584.0 458.3 578.1 451.9 582.1 447.4 567.6 481.2 538.0 439.0 559.1 485.6 576.0 468.6 539.9 458.2 571.7 477.3 582.3 449.7 586.2 458.1 586.7 470.5 565.2 464.4 542.4 453.9 599.3 462.1 569.6 455.7 567.6 466.5 546.4 455.8 556.9 470.6 599.0 451.5 540.1 459.9 590.6 449.4 565.6 483.2 590.5 470.6 561.5 473.1 596.6 450.0 540.4 455.8 538.0 453.7 554.9 481.4 596.9 445.2 573.8 454.1 578.1 445.4 544.5 460.1 565.4 481.5 531.8 452.0 598.7 456.2 579.8 439.4 594.9 456.1 554.7 449.6 556.9 455.9 546.2 468.7 577.9 449.6 534.0 466.5 577.7 447.8 596.9 460.0 580.3 466.4 586.5 483.4 544.3 443.6 590.4 477.1 601.1 464.2 542.0 485.6 532.0 447.9 540.3 477.0 584.6 478.9 557.2 460.0 540.2 454.1 559.1 456.2 599.1 475.0 536.0 449.8 582.0 460.3 601.0 449.5 573.9 447.6 533.7 455.9 579.9 483.5 573.9 462.4 588.5 466.7 571.8 449.6 594.8 462.5 544.3 464.2 588.3 470.8 590.3 439.4 571.7 441.4 597.2 485.3 573.7 445.3 601.0 485.4 548.8 472.6 578.1 481.3 548.3 481.4 533.6 447.7 542.1 464.4 552.6 443.4 557.1 437.0 538.1 477.2 594.5 472.5 588.5 487.3 590.4 462.4 574.1 478.8 588.3 485.5 590.8 445.3 544.5 481.3 557.0 464.7 569.5 476.9 582.1 483.2 593.0 481.0 586.3 472.8 561.3 441.3 588.4 443.2 534.2 468.8 569.6 464.6 531.8 481.4 601.1 458.4 567.8 468.9 536.2 466.3 571.5 460.2 552.7 466.3 559.0 462.1 571.9 464.3 550.5 451.8 592.7 471.0 557.1 451.7 596.7 487.6 586.6 447.5 573.8 468.8 582.0 475.0 588.8 447.9 567.7 474.8 540.5 464.7 572.0 472.6 598.9 443.3 571.9 457.9 569.5 441.0 567.5 473.0 559.3 451.5 542.6 456.2 594.9 441.4 594.9 470.8 561.5 458.4 590.6 478.8 550.6 445.3 571.8 470.8 567.4 449.5 563.1 472.9 533.9 443.6 563.4 462.3 565.1 441.5 600.8 483.0 559.2 449.8 544.2 485.4 557.0 443.5 595.1 457.8 567.8 454.2 571.6 483.2 544.3 449.5 552.5 464.5 557.1 466.4 553.0 476.9 550.4 458.3 595.1 443.1 584.3 453.6 533.8 478.8 590.8 460.0 582.2 456.2 554.9 487.2 590.5 485.3 592.5 460.4 534.1 454.1 534.1 460.0 561.2 483.1 582.2 462.1 569.7 472.8 569.4 454.0 586.3 451.6 536.3 475.1 555.1 468.4 603.4 451.7 560.9 487.8 597.1 455.8 576.0 475.1 592.8 449.8 554.8 472.5 590.6 443.6 542.4 483.3 563.5 485.2 582.4 443.2 586.5 468.7 577.9 479.0 601.0 434.8 601.3 460.1 588.5 457.9 553.0 462.2 555.2 447.8 536.1 458.0 538.2 464.3 573.8 483.5 559.0 447.4 584.5 449.5 586.4 481.0 542.1 458.0 540.1 474.7 584.5 485.4 580.0 477.0 544.5 466.6 580.0 470.5 574.0 485.3 559.3 472.7 563.1 443.4 550.9 464.2 603.2 485.2 571.4 452.0 576.1 462.1 556.9 450.0 565.7 476.7 542.1 479.1 584.2 445.4 554.9 466.7 569.3 460.4 598.8 470.9 542.3 445.6 575.6 471.0 550.4 473.0 565.1 456.2 557.3 454.1 553.1 485.1 538.0 483.1 548.8 457.9 531.6 449.6 561.3 470.7 561.0 481.3 603.0 439.3 556.7 483.5 596.7 472.9 577.7 462.5 592.8 464.5 573.6 458.2 580.2 472.9 550.7 447.7 546.7 481.1 596.6 464.7 588.2 476.7 590.4 447.7 563.3 439.3 554.7 485.5 595.0 449.6 590.3 468.9 567.6 451.8 580.1 464.6 586.6 476.9 533.9 458.3 603.5 481.1 569.8 466.3 574.0 470.6 533.9 473.0 569.3 475.1 550.7 462.4 563.6 449.9 563.4 468.7 552.8 475.1 588.5 437.3 546.5 464.6 590.6 434.7 599.1 460.3 597.0 483.5 574.0 441.2 554.7 456.1 542.0 449.7 593.0 466.3 540.0 466.4 571.6 453.7 588.7 468.5 580.3 481.1 555.0 445.5 601.2 481.3 599.1 445.6 535.9 471.0 601.1 478.9 590.7 487.7 542.1 443.3 563.5 455.8 601.4 453.6 550.9 449.4 601.4 438.9 576.0 453.9 571.8 456.1 590.7 458.3 578.2 453.7 588.5 472.6 588.3 456.1 546.3 483.4 588.4 464.4 561.3 485.4 544.2 470.7 544.4 458.3 550.6 474.7 601.0 470.7 595.0 464.3 565.3 457.9 580.2 458.2 575.8 451.5 559.3 487.4 556.8 447.6 592.6 483.3 573.6 437.1 580.4 459.9 580.4 445.2 555.0 474.9 548.6 470.9 544.6 468.3 578.2 460.2 540.1 445.2 559.1 470.9 584.0 473.0 578.1 466.6 594.6 481.4 567.7 439.5 575.7 479.2 546.5 435.2 555.0 460.2 531.7 472.6 542.5 462.1 548.5 468.5 561.0 445.4 588.4 479.1 599.2 439.2 582.5 452.1 536.1 487.4 600.9 441.3 534.2 483.6 582.0 439.1 588.7 453.8 563.2 466.4 582.1 468.5 537.9 474.9 565.5 475.0 554.8 479.0 546.7 460.5 594.7 453.7 548.4 439.1 582.1 453.8 588.7 439.1 573.6 451.8 539.9 443.5 603.3 479.3 597.1 462.3 561.0 460.1 548.9 466.7 550.7 454.2 542.6 470.9 573.7 481.2 542.6 441.5 596.8 437.0 581.9 481.5 544.2 456.0 599.3 447.4 531.8 466.7 598.9 472.7 597.0 447.6 550.7 483.6 584.5 456.0 561.4 464.2 592.6 468.6 584.4 477.2 550.8 455.9 592.9 458.0 603.4 458.1 601.2 473.1 537.9 445.5 580.3 437.0 599.0 437.4 582.3 464.4 558.9 453.9 571.6 439.0 557.0 458.2 550.4 487.7 573.9 477.1 563.5 470.5 552.7 481.0 586.4 445.8 538.3 443.1 569.4 483.4 548.4 453.8 546.6 487.5 557.2 474.7 600.8 468.3 588.4 449.7 531.5 456.1 548.4 460.3 569.4 468.7 569.7 458.1 603.1 477.0 561.1 453.7 594.8 468.4 577.9 464.3 592.9 443.3 563.3 459.9 574.0 455.9 563.1 458.1 578.3 468.4 531.7 487.3 538.2 449.6 577.8 456.0 582.4 472.7 546.6 443.4 586.3 466.3 597.1 441.1 592.7 485.7 569.6 485.1 546.2 454.0 586.3 487.5 552.8 460.4 548.4 475.0 601.3 445.4 534.0 445.3 563.4 447.6 554.8 457.8 580.2 443.5 535.9 462.2 594.6 466.7 586.1 449.9 569.7 443.4 603.1 447.5 571.7 447.9 542.2 487.4 603.2 470.5 588.7 483.2 603.3 464.6 584.4 462.4 565.3 487.3 548.8 487.3 544.4 451.9 586.4 460.5 596.9 439.4 597.1 477.0 573.7 460.0 557.3 439.4 536.3 445.7 630.8 405.9 617.6 443.7 632.7 416.3 624.4 445.4 634.5 411.9 630.2 434.7 586.3 422.2 639.0 412.1 607.1 464.2 617.7 422.5 622.2 445.6 638.8 409.7 611.6 443.1 637.0 422.3 609.2 455.7 609.6 453.9 638.7 416.2 596.7 443.5 607.7 434.7 628.3 409.6 607.6 441.2 639.1 420.3 605.5 435.0 618.1 441.3 609.8 426.9 626.0 431.0 626.4 435.2 598.9 428.6 626.1 424.6 619.7 435.2 624.3 407.7 611.4 456.1 611.9 453.7 607.2 422.4 622.0 413.8 635.0 409.6 607.6 455.9 615.7 424.5 639.2 393.3 638.6 422.7 641.2 411.9 634.5 433.1 611.3 433.1 601.2 437.2 634.9 430.7 632.3 426.9 605.1 460.3 632.4 420.4 632.5 413.9 613.5 439.4 639.2 428.5 616.0 413.9 619.8 428.7 605.3 447.3 638.6 408.0 617.9 424.2 597.2 435.3 620.2 432.9 624.5 460.1 624.1 456.0 616.1 407.4 613.9 437.0 634.5 397.2 613.7 435.3 626.6 436.9 622.3 439.1 626.4 449.9 632.4 405.7 630.6 432.9 641.1 403.6 624.0 418.3 614.0 460.0 609.6 439.2 617.9 453.7 634.5 418.4 613.6 441.2 624.2 414.2 638.8 424.4 615.5 451.5 609.7 447.5 626.5 414.0 638.9 403.2 630.4 437.1 634.6 426.6 613.6 462.3 634.9 416.0 616.0 428.6 628.2 437.3 609.5 451.6 626.1 439.3 615.8 426.8 617.9 439.0 639.1 413.8 603.3 449.9 636.8 426.4 620.0 430.5 636.6 424.7 626.3 426.3 603.4 472.8 617.8 430.7 628.3 424.3 622.1 443.2 607.4 460.0 624.3 428.9 603.0 454.0 630.3 414.1 640.8 428.9 634.8 407.8 636.6 395.2 619.8 443.4 605.5 449.7 605.1 430.9 630.5 445.3 634.8 437.2 626.1 445.7 620.1 424.6 592.6 462.2 622.2 452.1 605.0 452.0 615.7 439.2 607.6 420.0 634.6 420.2 617.8 445.4 615.9 456.2 636.8 420.5 634.9 401.3 636.7 397.0 632.5 428.6 636.5 430.5 632.6 392.7 619.9 437.0 628.4 433.2 615.9 449.8 616.1 436.8 641.0 409.5 630.7 426.5 630.6 418.2 607.2 473.0 618.0 426.6 626.5 428.7 624.3 422.4 615.7 418.0 620.1 439.3 611.8 424.3 590.7 437.1 628.2 422.6 618.0 447.8 640.8 422.4 611.8 445.5 605.3 462.0 595.0 434.9 613.8 443.5 613.7 450.0 617.6 458.4 603.1 462.2 636.6 409.9 634.8 393.1 632.8 418.0 598.8 435.0 624.2 434.8 620.1 454.0 617.7 437.2 615.8 447.4 615.8 462.1 603.2 455.8 603.4 437.0 640.7 414.2 626.3 441.0 638.7 401.5 607.1 428.9 607.2 458.3 637.0 443.5 630.2 420.0 613.5 432.9 628.4 418.5 626.1 409.9 624.1 405.4 611.8 439.0 628.4 447.9 618.0 433.1 630.5 430.6 594.7 424.3 605.2 453.8 630.4 422.4 634.8 422.5 628.6 434.9 622.4 432.6 632.6 422.1 636.9 428.8 624.2 420.1 613.4 424.7 603.3 443.4 628.2 416.1 609.4 428.7 621.9 405.6 609.5 431.0 641.3 420.1 620.3 441.1 636.9 435.2 622.0 435.0 623.9 424.8 630.5 415.9 605.5 464.4 611.7 437.3 609.4 443.4 613.8 472.9 584.4 426.6 607.2 437.1 641.1 418.3 628.6 449.6 607.5 447.7 621.9 441.5 607.4 439.5 628.2 401.4 639.1 399.1 638.8 439.1 609.3 449.8 634.7 443.7 641.3 405.4 641.1 433.0 615.6 445.7 622.2 460.3 607.1 414.2 613.6 455.9 611.7 430.8 634.7 414.3 615.7 468.6 628.5 426.7 584.3 438.9 639.0 426.8 640.9 437.2 632.7 409.8 590.5 455.9 620.0 416.4 628.5 456.1 640.8 407.7 597.0 454.1 622.3 424.4 620.3 455.8 584.1 487.7 613.6 426.5 611.4 426.7 632.6 436.8 620.2 462.3 620.2 411.7 638.9 418.0 638.9 432.7 622.1 457.9 618.1 434.8 622.1 407.9 628.6 420.2 636.7 403.5 641.0 424.2 634.4 403.7 626.5 443.4 582.2 476.8 615.9 435.1 615.6 430.9 617.6 429.0 638.7 430.9 632.8 424.5 605.5 428.5 626.4 420.4 616.0 443.3 615.8 441.5 640.9 416.0 614.0 445.3 628.3 430.8 607.4 474.8 632.4 435.1 607.2 443.6 603.4 422.2 602.9 460.5 637.1 401.1 640.9 401.3 624.0 433.0 626.4 405.7 630.5 410.0 607.3 445.3 611.4 441.4 613.4 474.7 632.4 441.6 582.5 437.4 624.0 447.7 613.7 420.6 605.1 445.6 624.1 441.2 630.7 441.2 607.3 451.8 622.1 422.6 636.8 455.8 628.3 445.5 634.6 405.5 637.0 407.6 607.6 426.5 619.9 451.7 624.3 443.6 636.5 445.2 609.3 420.4 586.5 439.3 624.4 437.1 634.7 399.6 607.4 454.2 634.7 429.0 628.4 439.0 636.8 405.8 626.5 422.2 605.6 457.9 613.6 447.6 605.0 437.3 609.6 460.4 615.7 432.7 609.7 418.1 611.6 428.4 617.8 416.0 628.7 428.5 621.9 426.8 618.2 449.5 605.6 472.6 628.2 452.0 628.6 405.5 634.6 434.9 611.7 466.7 601.4 424.2 628.7 413.7 624.1 411.8 622.2 416.2 605.1 466.7 603.1 432.8 620.2 447.6 623.9 439.5 632.3 412.1 640.7 399.5 636.7 411.7 636.9 399.4 632.7 445.7 626.2 418.1 622.0 428.5 613.5 454.1 605.2 468.5 605.3 476.7 582.4 487.4 626.2 447.5 619.9 407.6 641.2 397.2 637.1 415.8 622.0 449.7 632.5 443.3 624.4 416.0 609.5 436.9 588.6 430.8 632.7 431.0 603.2 435.2 586.3 436.9 620.1 409.9 602.9 445.8 617.7 451.9 607.5 433.0 607.5 418.3 622.4 417.9 605.4 426.7 624.4 430.7 635.0 424.3 619.8 449.9 609.5 445.7 590.4 433.0 623.9 454.2 603.2 441.1 632.9 432.7 630.5 424.7 628.5 441.4 626.0 416.3 636.9 414.1 620.2 418.2 613.9 451.7 630.7 397.1 611.5 464.3 597.2 420.6 632.3 397.4 638.9 397.4 609.7 432.8 605.4 441.4 611.5 434.9 615.6 416.2 628.1 407.9 628.1 443.2 603.5 431.1 622.1 437.4 592.5 439.2 641.2 441.3 607.5 462.4 637.0 437.0 611.4 462.6 603.0 424.6 618.1 420.1 639.1 435.0 630.7 411.8 620.3 426.4 609.3 435.1 624.1 426.5 619.9 422.3 639.0 441.5 607.7 449.5 603.4 466.4 641.0 438.9 626.2 432.8 615.9 420.4 611.5 449.6 611.8 460.2 605.4 456.2 641.2 426.6 611.7 452.0 619.7 420.5 609.3 464.5 609.2 441.0 640.8 393.0 636.8 441.1 630.3 399.4 626.6 451.6 622.3 409.7 640.9 430.7 632.6 401.6 609.4 458.1 613.5 418.2 609.2 470.4 628.6 464.3 636.7 418.2 611.5 420.2 641.3 434.8 622.2 430.9 592.6 432.7 613.5 468.8 641.0 395.4 632.5 399.2 601.3 430.7 605.2 439.1 630.3 428.8 590.8 430.6 605.1 416.1 624.4 401.2 607.3 430.6 632.6 407.4 621.8 397.4 582.2 441.5 634.6 456.0 622.2 481.5 609.7 483.4 611.9 468.4 634.8 472.5 607.6 470.6 609.3 485.1 609.5 481.0 634.4 483.1 615.6 475.1 628.5 462.6 613.9 481.2 636.8 485.2 611.6 472.5 620.2 477.0 632.5 479.2 622.3 453.8 624.3 473.0 639.2 443.3 641.1 468.3 620.1 468.7 634.4 453.7 622.2 466.8 637.1 466.4 605.1 481.4 641.1 453.6 632.5 464.5 621.8 476.8 636.9 464.7 617.8 460.1 636.7 432.9 619.7 470.5 634.7 464.3 609.4 472.8 613.8 478.8 632.8 468.6 626.5 472.8 632.6 451.5 626.4 479.3 632.5 458.0 639.0 470.9 611.9 483.1 613.5 483.5 596.7 428.8 565.5 439.1 584.1 437.1 548.8 437.3 567.4 434.8 569.5 426.3 546.6 436.9 567.2 433.0 561.2 433.1 542.2 437.4 582.4 428.5 577.9 429.0 567.6 437.1 594.6 430.8 563.6 435.2 557.1 422.3 558.9 424.5 540.5 428.8 550.9 434.7 552.9 432.8 576.1 432.7 586.5 432.8 548.8 422.6 576.2 426.8 567.3 426.5 597.1 426.4 599.2 432.7 550.6 424.8 588.5 422.6 557.2 430.6 533.6 433.0 563.1 422.3 575.8 422.1 531.9 439.1 571.6 424.3 552.7 436.9" fill="none" stroke="none" marker-start="url(#mb)" marker-mid="url(#mb)" marker-end="url(#mb)"/>
<path d="M530.7,478.01 L536.21,477.8 L541.71,477.2 L547.22,476.26 L552.73,474.99 L558.23,473.39 L563.74,471.47 L569.25,469.25 L574.75,466.72 L580.26,463.88 L585.77,460.75 L591.27,457.32 L596.78,453.6 L602.29,449.59 L607.8,445.3 L613.3,440.72 L618.81,435.85 L624.32,430.7 L629.82,425.27 L635.33,419.57 L640.84,413.59" fill="none" stroke="#1a3cf0" stroke-width="1.7" stroke-dasharray="3.6,2.3" stroke-linejoin="round"/>
<text x="1.2" y="534.7" font-size="12.2" font-weight="bold" fill="#000" stroke="#000" stroke-width="0.3">i</text>
<line x1="35.3" y1="544.3" x2="107.4" y2="544.3" stroke="#b4b4b4" stroke-width="0.9"/>
<line x1="107.4" y1="544.3" x2="107.4" y2="587.3" stroke="#999" stroke-width="0.7"/>
<line x1="35.3" y1="544.3" x2="35.3" y2="587.3" stroke="#555" stroke-width="0.7"/>
<line x1="35.3" y1="587.3" x2="107.4" y2="587.3" stroke="#555" stroke-width="0.7"/>
<line x1="31.3" y1="544.6" x2="35.3" y2="544.6" stroke="#555" stroke-width="0.6"/>
<text x="26.7" y="547.37" font-size="7.8" text-anchor="end" fill="#2a2a2a">0.9</text>
<line x1="31.3" y1="558.83" x2="35.3" y2="558.83" stroke="#555" stroke-width="0.6"/>
<text x="26.7" y="561.6" font-size="7.8" text-anchor="end" fill="#2a2a2a">0.6</text>
<line x1="31.3" y1="573.07" x2="35.3" y2="573.07" stroke="#555" stroke-width="0.6"/>
<text x="26.7" y="575.84" font-size="7.8" text-anchor="end" fill="#2a2a2a">0.3</text>
<line x1="31.3" y1="587.3" x2="35.3" y2="587.3" stroke="#555" stroke-width="0.6"/>
<text x="26.7" y="590.07" font-size="7.8" text-anchor="end" fill="#2a2a2a">0</text>
<rect x="39.75" y="559.31" width="8.9" height="27.99" fill="#c75961" stroke="#383838" stroke-width="0.6"/>
<circle cx="41.53" cy="559.31" r="1.05" fill="#fff" stroke="#444" stroke-width="0.45"/>
<circle cx="44.2" cy="559.31" r="1.05" fill="#fff" stroke="#444" stroke-width="0.45"/>
<circle cx="46.87" cy="559.31" r="1.05" fill="#fff" stroke="#444" stroke-width="0.45"/>
<circle cx="55.15" cy="586.5" r="1.05" fill="#fff" stroke="#444" stroke-width="0.45"/>
<circle cx="57.82" cy="586.5" r="1.05" fill="#fff" stroke="#444" stroke-width="0.45"/>
<circle cx="60.49" cy="586.5" r="1.05" fill="#fff" stroke="#444" stroke-width="0.45"/>
<rect x="66.99" y="567.37" width="8.9" height="19.93" fill="#9fd6e4" stroke="#383838" stroke-width="0.6"/>
<circle cx="68.77" cy="567.37" r="1.05" fill="#fff" stroke="#444" stroke-width="0.45"/>
<circle cx="71.44" cy="567.37" r="1.05" fill="#fff" stroke="#444" stroke-width="0.45"/>
<circle cx="74.11" cy="567.37" r="1.05" fill="#fff" stroke="#444" stroke-width="0.45"/>
<rect x="80.61" y="565.48" width="8.9" height="21.82" fill="#8cb9f2" stroke="#383838" stroke-width="0.6"/>
<circle cx="82.39" cy="565.48" r="1.05" fill="#fff" stroke="#444" stroke-width="0.45"/>
<circle cx="85.06" cy="565.48" r="1.05" fill="#fff" stroke="#444" stroke-width="0.45"/>
<circle cx="87.73" cy="565.48" r="1.05" fill="#fff" stroke="#444" stroke-width="0.45"/>
<rect x="94.23" y="547.92" width="8.9" height="39.38" fill="#7191cb" stroke="#383838" stroke-width="0.6"/>
<circle cx="96.01" cy="547.92" r="1.05" fill="#fff" stroke="#444" stroke-width="0.45"/>
<circle cx="98.68" cy="547.92" r="1.05" fill="#fff" stroke="#444" stroke-width="0.45"/>
<circle cx="101.35" cy="547.92" r="1.05" fill="#fff" stroke="#444" stroke-width="0.45"/>
<text x="9.45" y="566" font-size="8.74" text-anchor="middle" transform="rotate(-90 9.45 566)">Diversity</text>
<text x="119.65" y="566.2" font-size="8.74" text-anchor="middle" transform="rotate(-90 119.65 566.2)">CD3ε</text>
<text x="59.73" y="576.7" font-size="5.3" transform="rotate(-90 59.73 576.7)" fill="#2a2a2a" textLength="26.9" lengthAdjust="spacingAndGlyphs">P &lt; 0.0001</text>
<text x="57.82" y="586.48" font-size="7" text-anchor="middle" fill="#222">****</text>
<text x="73.35" y="558.3" font-size="5.3" transform="rotate(-90 73.35 558.3)" fill="#2a2a2a" textLength="28.2" lengthAdjust="spacingAndGlyphs">P = 0.0069</text>
<text x="71.44" y="565.78" font-size="7" text-anchor="middle" fill="#222">***</text>
<text x="86.97" y="557.7" font-size="5.3" transform="rotate(-90 86.97 557.7)" fill="#2a2a2a" textLength="29.6" lengthAdjust="spacingAndGlyphs">P = 0.0005</text>
<text x="85.06" y="563.98" font-size="7" text-anchor="middle" fill="#222">***</text>
<text x="98.68" y="545.58" font-size="7" text-anchor="middle" fill="#222">***</text>
<text x="92.8" y="536.7" font-size="6.2" fill="#333">P = 0.0008</text>
<line x1="35.3" y1="605.6" x2="107.4" y2="605.6" stroke="#b4b4b4" stroke-width="0.9"/>
<line x1="107.4" y1="605.6" x2="107.4" y2="649" stroke="#999" stroke-width="0.7"/>
<line x1="35.3" y1="605.6" x2="35.3" y2="649" stroke="#555" stroke-width="0.7"/>
<line x1="35.3" y1="649" x2="107.4" y2="649" stroke="#555" stroke-width="0.7"/>
<line x1="31.3" y1="606.1" x2="35.3" y2="606.1" stroke="#555" stroke-width="0.6"/>
<text x="26.7" y="608.87" font-size="7.8" text-anchor="end" fill="#2a2a2a">0.9</text>
<line x1="31.3" y1="620.4" x2="35.3" y2="620.4" stroke="#555" stroke-width="0.6"/>
<text x="26.7" y="623.17" font-size="7.8" text-anchor="end" fill="#2a2a2a">0.6</text>
<line x1="31.3" y1="634.7" x2="35.3" y2="634.7" stroke="#555" stroke-width="0.6"/>
<text x="26.7" y="637.47" font-size="7.8" text-anchor="end" fill="#2a2a2a">0.3</text>
<line x1="31.3" y1="649" x2="35.3" y2="649" stroke="#555" stroke-width="0.6"/>
<text x="26.7" y="651.77" font-size="7.8" text-anchor="end" fill="#2a2a2a">0</text>
<rect x="39.75" y="617.54" width="8.9" height="31.46" fill="#c75961" stroke="#383838" stroke-width="0.6"/>
<circle cx="41.53" cy="617.54" r="1.05" fill="#fff" stroke="#444" stroke-width="0.45"/>
<circle cx="44.2" cy="617.54" r="1.05" fill="#fff" stroke="#444" stroke-width="0.45"/>
<circle cx="46.87" cy="617.54" r="1.05" fill="#fff" stroke="#444" stroke-width="0.45"/>
<circle cx="55.15" cy="648.2" r="1.05" fill="#fff" stroke="#444" stroke-width="0.45"/>
<circle cx="57.82" cy="648.2" r="1.05" fill="#fff" stroke="#444" stroke-width="0.45"/>
<circle cx="60.49" cy="648.2" r="1.05" fill="#fff" stroke="#444" stroke-width="0.45"/>
<rect x="66.99" y="628.98" width="8.9" height="20.02" fill="#9fd6e4" stroke="#383838" stroke-width="0.6"/>
<circle cx="68.77" cy="628.98" r="1.05" fill="#fff" stroke="#444" stroke-width="0.45"/>
<circle cx="71.44" cy="628.98" r="1.05" fill="#fff" stroke="#444" stroke-width="0.45"/>
<circle cx="74.11" cy="628.98" r="1.05" fill="#fff" stroke="#444" stroke-width="0.45"/>
<rect x="80.61" y="622.78" width="8.9" height="26.22" fill="#8cb9f2" stroke="#383838" stroke-width="0.6"/>
<circle cx="82.39" cy="622.78" r="1.05" fill="#fff" stroke="#444" stroke-width="0.45"/>
<circle cx="85.06" cy="622.78" r="1.05" fill="#fff" stroke="#444" stroke-width="0.45"/>
<circle cx="87.73" cy="622.78" r="1.05" fill="#fff" stroke="#444" stroke-width="0.45"/>
<rect x="94.23" y="609.44" width="8.9" height="39.56" fill="#7191cb" stroke="#383838" stroke-width="0.6"/>
<circle cx="96.01" cy="609.44" r="1.05" fill="#fff" stroke="#444" stroke-width="0.45"/>
<circle cx="98.68" cy="609.44" r="1.05" fill="#fff" stroke="#444" stroke-width="0.45"/>
<circle cx="101.35" cy="609.44" r="1.05" fill="#fff" stroke="#444" stroke-width="0.45"/>
<text x="9.45" y="627.8" font-size="8.74" text-anchor="middle" transform="rotate(-90 9.45 627.8)">Diversity</text>
<text x="118.05" y="627.5" font-size="8.74" text-anchor="middle" transform="rotate(-90 118.05 627.5)">RBD</text>
<text x="59.73" y="639.4" font-size="5.3" transform="rotate(-90 59.73 639.4)" fill="#2a2a2a" textLength="29.3" lengthAdjust="spacingAndGlyphs">P = 0.0003</text>
<text x="57.82" y="647.18" font-size="7" text-anchor="middle" fill="#222">***</text>
<text x="73.35" y="619.3" font-size="5.3" transform="rotate(-90 73.35 619.3)" fill="#2a2a2a" textLength="29.3" lengthAdjust="spacingAndGlyphs">P = 0.0004</text>
<text x="71.44" y="627.08" font-size="7" text-anchor="middle" fill="#222">***</text>
<text x="86.97" y="615.6" font-size="5.3" transform="rotate(-90 86.97 615.6)" fill="#2a2a2a" textLength="26.6" lengthAdjust="spacingAndGlyphs">P = 0.006</text>
<text x="85.06" y="623.08" font-size="7" text-anchor="middle" fill="#222">**</text>
<text x="97.5" y="606.98" font-size="7" text-anchor="middle" fill="#222">**</text>
<text x="104.3" y="602" font-size="6.2" fill="#333">P = 0.0047</text>
<line x1="44.2" y1="649" x2="44.2" y2="653" stroke="#555" stroke-width="0.6"/>
<line x1="57.82" y1="649" x2="57.82" y2="653" stroke="#555" stroke-width="0.6"/>
<line x1="71.44" y1="649" x2="71.44" y2="653" stroke="#555" stroke-width="0.6"/>
<line x1="85.06" y1="649" x2="85.06" y2="653" stroke="#555" stroke-width="0.6"/>
<line x1="98.68" y1="649" x2="98.68" y2="653" stroke="#555" stroke-width="0.6"/>
<text x="47.2" y="659.6" font-size="7.2" text-anchor="end" transform="rotate(-45 47.2 659.6)" fill="#333">GRAPE-LM</text>
<text x="60.82" y="659.6" font-size="7.2" text-anchor="end" transform="rotate(-45 60.82 659.6)" fill="#333">RaptGen</text>
<text x="74.44" y="659.6" font-size="7.2" text-anchor="end" transform="rotate(-45 74.44 659.6)" fill="#333">AptaDiff</text>
<text x="88.06" y="659.6" font-size="7.2" text-anchor="end" transform="rotate(-45 88.06 659.6)" fill="#333">AptaMTCS</text>
<text x="101.68" y="659.6" font-size="7.2" text-anchor="end" transform="rotate(-45 101.68 659.6)" fill="#333">AptaTrans</text>
<text x="139.6" y="534.2" font-size="12.2" font-weight="bold" fill="#000" stroke="#000" stroke-width="0.3">j</text>
<line x1="169.7" y1="558.5" x2="260.5" y2="558.5" stroke="#555" stroke-width="0.7"/>
<line x1="260.5" y1="558.5" x2="260.5" y2="649.1" stroke="#999" stroke-width="0.7"/>
<line x1="169.7" y1="558.5" x2="169.7" y2="598" stroke="#555" stroke-width="0.7"/>
<line x1="169.7" y1="610" x2="169.7" y2="649.1" stroke="#555" stroke-width="0.7"/>
<line x1="169.7" y1="649.1" x2="260.5" y2="649.1" stroke="#555" stroke-width="0.7"/>
<line x1="165.7" y1="558.51" x2="169.7" y2="558.51" stroke="#555" stroke-width="0.6"/>
<text x="161.3" y="560.92" font-size="6.8" text-anchor="end" fill="#2a2a2a">18</text>
<line x1="165.7" y1="571.54" x2="169.7" y2="571.54" stroke="#555" stroke-width="0.6"/>
<text x="161.3" y="573.95" font-size="6.8" text-anchor="end" fill="#2a2a2a">17</text>
<line x1="165.7" y1="584.57" x2="169.7" y2="584.57" stroke="#555" stroke-width="0.6"/>
<text x="161.3" y="586.98" font-size="6.8" text-anchor="end" fill="#2a2a2a">16</text>
<line x1="165.7" y1="597.6" x2="169.7" y2="597.6" stroke="#555" stroke-width="0.6"/>
<text x="161.3" y="600.01" font-size="6.8" text-anchor="end" fill="#2a2a2a">15</text>
<line x1="165.7" y1="611" x2="169.7" y2="611" stroke="#555" stroke-width="0.6"/>
<text x="161.3" y="613.41" font-size="6.8" text-anchor="end" fill="#2a2a2a">3</text>
<line x1="165.7" y1="623.7" x2="169.7" y2="623.7" stroke="#555" stroke-width="0.6"/>
<text x="161.3" y="626.11" font-size="6.8" text-anchor="end" fill="#2a2a2a">2</text>
<line x1="165.7" y1="636.4" x2="169.7" y2="636.4" stroke="#555" stroke-width="0.6"/>
<text x="161.3" y="638.81" font-size="6.8" text-anchor="end" fill="#2a2a2a">1</text>
<line x1="165.7" y1="649.1" x2="169.7" y2="649.1" stroke="#555" stroke-width="0.6"/>
<text x="161.3" y="651.51" font-size="6.8" text-anchor="end" fill="#2a2a2a">0</text>
<rect x="175.3" y="647.58" width="11.4" height="1.52" fill="#c75961" stroke="#383838" stroke-width="0.6"/>
<rect x="191.9" y="646.43" width="11.4" height="2.67" fill="#c6d6ea" stroke="#383838" stroke-width="0.6"/>
<rect x="209.2" y="644.02" width="11.4" height="5.08" fill="#9fd6e4" stroke="#383838" stroke-width="0.6"/>
<rect x="226.3" y="562.03" width="11.4" height="87.07" fill="#8cb9f2" stroke="#383838" stroke-width="0.6"/>
<rect x="243.3" y="559.03" width="11.4" height="90.07" fill="#7191cb" stroke="#383838" stroke-width="0.6"/>
<rect x="170.7" y="597.9" width="89.3" height="12.3" fill="#fff"/>
<line x1="165.8" y1="601.9" x2="174.7" y2="592.6" stroke="#555" stroke-width="0.6"/>
<line x1="165.8" y1="615.2" x2="174.7" y2="606.3" stroke="#555" stroke-width="0.6"/>
<text x="183.66" y="644.08" font-size="7.4" transform="rotate(-90 183.66 644.08)" fill="#2a2a2a">0.12</text>
<text x="200.26" y="642.93" font-size="7.4" transform="rotate(-90 200.26 642.93)" fill="#2a2a2a">0.21</text>
<text x="217.56" y="640.52" font-size="7.4" transform="rotate(-90 217.56 640.52)" fill="#2a2a2a">0.40</text>
<text x="234.66" y="581.8" font-size="7.4" transform="rotate(-90 234.66 581.8)" fill="#2a2a2a">17.73</text>
<text x="251.66" y="578.8" font-size="7.4" transform="rotate(-90 251.66 578.8)" fill="#2a2a2a">17.96</text>
<text x="148.15" y="607.5" font-size="8.74" text-anchor="middle" transform="rotate(-90 148.15 607.5)">Time (hours)</text>
<line x1="181" y1="649.1" x2="181" y2="653.1" stroke="#555" stroke-width="0.6"/>
<line x1="197.6" y1="649.1" x2="197.6" y2="653.1" stroke="#555" stroke-width="0.6"/>
<line x1="214.9" y1="649.1" x2="214.9" y2="653.1" stroke="#555" stroke-width="0.6"/>
<line x1="232" y1="649.1" x2="232" y2="653.1" stroke="#555" stroke-width="0.6"/>
<line x1="249" y1="649.1" x2="249" y2="653.1" stroke="#555" stroke-width="0.6"/>
<text x="184" y="659.6" font-size="7.2" text-anchor="end" transform="rotate(-45 184 659.6)" fill="#333">GRAPE-LM</text>
<text x="200.6" y="659.6" font-size="7.2" text-anchor="end" transform="rotate(-45 200.6 659.6)" fill="#333">RaptGen</text>
<text x="217.9" y="659.6" font-size="7.2" text-anchor="end" transform="rotate(-45 217.9 659.6)" fill="#333">AptaDiff</text>
<text x="235" y="659.6" font-size="7.2" text-anchor="end" transform="rotate(-45 235 659.6)" fill="#333">AptaMTCS</text>
<text x="252" y="659.6" font-size="7.2" text-anchor="end" transform="rotate(-45 252 659.6)" fill="#333">AptaTrans</text>
<text x="284.6" y="534.8" font-size="12.2" font-weight="bold" fill="#000" stroke="#000" stroke-width="0.3">k</text>
<line x1="316.6" y1="558" x2="388.9" y2="558" stroke="#555" stroke-width="0.7"/>
<line x1="388.9" y1="558" x2="388.9" y2="648.8" stroke="#c4c4c4" stroke-width="0.9"/>
<line x1="316.6" y1="558" x2="316.6" y2="648.8" stroke="#555" stroke-width="0.7"/>
<line x1="316.6" y1="648.8" x2="388.9" y2="648.8" stroke="#555" stroke-width="0.7"/>
<line x1="312.6" y1="562.6" x2="316.6" y2="562.6" stroke="#555" stroke-width="0.6"/>
<text x="308.1" y="565.37" font-size="7.8" text-anchor="end" fill="#2a2a2a">1.0</text>
<line x1="312.6" y1="579.1" x2="316.6" y2="579.1" stroke="#555" stroke-width="0.6"/>
<text x="308.1" y="581.87" font-size="7.8" text-anchor="end" fill="#2a2a2a">0.8</text>
<line x1="312.6" y1="595.6" x2="316.6" y2="595.6" stroke="#555" stroke-width="0.6"/>
<text x="308.1" y="598.37" font-size="7.8" text-anchor="end" fill="#2a2a2a">0.6</text>
<line x1="312.6" y1="612.1" x2="316.6" y2="612.1" stroke="#555" stroke-width="0.6"/>
<text x="308.1" y="614.87" font-size="7.8" text-anchor="end" fill="#2a2a2a">0.4</text>
<line x1="312.6" y1="628.6" x2="316.6" y2="628.6" stroke="#555" stroke-width="0.6"/>
<text x="308.1" y="631.37" font-size="7.8" text-anchor="end" fill="#2a2a2a">0.2</text>
<line x1="312.6" y1="645.1" x2="316.6" y2="645.1" stroke="#555" stroke-width="0.6"/>
<text x="308.1" y="647.87" font-size="7.8" text-anchor="end" fill="#2a2a2a">0</text>
<line x1="323.7" y1="566.73" x2="323.7" y2="583.23" stroke="#333" stroke-width="0.55"/>
<line x1="323.7" y1="591.48" x2="323.7" y2="616.23" stroke="#333" stroke-width="0.55"/>
<line x1="321.5" y1="566.73" x2="325.9" y2="566.73" stroke="#333" stroke-width="0.55"/>
<line x1="321.5" y1="616.23" x2="325.9" y2="616.23" stroke="#333" stroke-width="0.55"/>
<rect x="319.9" y="583.23" width="7.6" height="8.25" fill="#d9d9d9" stroke="#333" stroke-width="0.55"/>
<line x1="319.9" y1="587.35" x2="327.5" y2="587.35" stroke="#111" stroke-width="0.9"/>
<line x1="335.1" y1="570.85" x2="335.1" y2="583.23" stroke="#333" stroke-width="0.55"/>
<line x1="335.1" y1="591.48" x2="335.1" y2="607.98" stroke="#333" stroke-width="0.55"/>
<line x1="332.9" y1="570.85" x2="337.3" y2="570.85" stroke="#333" stroke-width="0.55"/>
<line x1="332.9" y1="607.98" x2="337.3" y2="607.98" stroke="#333" stroke-width="0.55"/>
<rect x="331.3" y="583.23" width="7.6" height="8.25" fill="#c75961" stroke="#333" stroke-width="0.55"/>
<line x1="331.3" y1="587.35" x2="338.9" y2="587.35" stroke="#111" stroke-width="0.9"/>
<line x1="344" y1="562.6" x2="349" y2="562.6" stroke="#222" stroke-width="0.9"/>
<line x1="346.5" y1="562.6" x2="346.5" y2="565.08" stroke="#333" stroke-width="0.55"/>
<line x1="344.2" y1="565.08" x2="348.8" y2="565.08" stroke="#333" stroke-width="0.55"/>
<line x1="357.9" y1="570.85" x2="357.9" y2="591.48" stroke="#333" stroke-width="0.55"/>
<line x1="357.9" y1="599.73" x2="357.9" y2="620.35" stroke="#333" stroke-width="0.55"/>
<line x1="355.7" y1="570.85" x2="360.1" y2="570.85" stroke="#333" stroke-width="0.55"/>
<line x1="355.7" y1="620.35" x2="360.1" y2="620.35" stroke="#333" stroke-width="0.55"/>
<rect x="354.1" y="591.48" width="7.6" height="8.25" fill="#9fd6e4" stroke="#333" stroke-width="0.55"/>
<line x1="354.1" y1="595.6" x2="361.7" y2="595.6" stroke="#111" stroke-width="0.9"/>
<line x1="369.3" y1="562.6" x2="369.3" y2="579.1" stroke="#333" stroke-width="0.55"/>
<line x1="369.3" y1="587.35" x2="369.3" y2="612.1" stroke="#333" stroke-width="0.55"/>
<line x1="367.1" y1="562.6" x2="371.5" y2="562.6" stroke="#333" stroke-width="0.55"/>
<line x1="367.1" y1="612.1" x2="371.5" y2="612.1" stroke="#333" stroke-width="0.55"/>
<rect x="365.5" y="579.1" width="7.6" height="8.25" fill="#8cb9f2" stroke="#333" stroke-width="0.55"/>
<line x1="365.5" y1="583.23" x2="373.1" y2="583.23" stroke="#111" stroke-width="0.9"/>
<line x1="380.7" y1="574.98" x2="380.7" y2="595.6" stroke="#333" stroke-width="0.55"/>
<line x1="380.7" y1="607.98" x2="380.7" y2="628.6" stroke="#333" stroke-width="0.55"/>
<line x1="378.5" y1="574.98" x2="382.9" y2="574.98" stroke="#333" stroke-width="0.55"/>
<line x1="378.5" y1="628.6" x2="382.9" y2="628.6" stroke="#333" stroke-width="0.55"/>
<rect x="376.9" y="595.6" width="7.6" height="12.38" fill="#7191cb" stroke="#333" stroke-width="0.55"/>
<line x1="376.9" y1="603.85" x2="384.5" y2="603.85" stroke="#111" stroke-width="0.9"/>
<text x="354.2" y="542.7" font-size="8" text-anchor="middle" fill="#222">CD3ε</text>
<text x="290.95" y="603.2" font-size="8.74" text-anchor="middle" transform="rotate(-90 290.95 603.2)">GC content</text>
<line x1="323.7" y1="648.8" x2="323.7" y2="653.3" stroke="#555" stroke-width="0.6"/>
<line x1="335.1" y1="648.8" x2="335.1" y2="653.3" stroke="#555" stroke-width="0.6"/>
<line x1="346.5" y1="648.8" x2="346.5" y2="653.3" stroke="#555" stroke-width="0.6"/>
<line x1="357.9" y1="648.8" x2="357.9" y2="653.3" stroke="#555" stroke-width="0.6"/>
<line x1="369.3" y1="648.8" x2="369.3" y2="653.3" stroke="#555" stroke-width="0.6"/>
<line x1="380.7" y1="648.8" x2="380.7" y2="653.3" stroke="#555" stroke-width="0.6"/>
<text x="326.7" y="659.6" font-size="7.5" text-anchor="end" transform="rotate(-45 326.7 659.6)" fill="#333">Reference</text>
<text x="338.1" y="659.6" font-size="7.5" text-anchor="end" transform="rotate(-45 338.1 659.6)" fill="#333">GRAPE-LM</text>
<text x="349.5" y="659.6" font-size="7.5" text-anchor="end" transform="rotate(-45 349.5 659.6)" fill="#333">RaptGen</text>
<text x="360.9" y="659.6" font-size="7.5" text-anchor="end" transform="rotate(-45 360.9 659.6)" fill="#333">AptaDiff</text>
<text x="372.3" y="659.6" font-size="7.5" text-anchor="end" transform="rotate(-45 372.3 659.6)" fill="#333">AptaMTCS</text>
<text x="383.7" y="659.6" font-size="7.5" text-anchor="end" transform="rotate(-45 383.7 659.6)" fill="#333">AptaTrans</text>
<text x="335.1" y="569.28" font-size="7" text-anchor="middle" fill="#222">**</text>
<text x="346.5" y="558.38" font-size="7" text-anchor="middle" fill="#222">****</text>
<text x="357.9" y="569.28" font-size="7" text-anchor="middle" fill="#222">****</text>
<text x="369.3" y="558.38" font-size="7" text-anchor="middle" fill="#222">****</text>
<text x="380.7" y="573.28" font-size="7" text-anchor="middle" fill="#222">****</text>
<text x="336.91" y="638.9" font-size="5.3" transform="rotate(-90 336.91 638.9)" fill="#2a2a2a" textLength="26.9" lengthAdjust="spacingAndGlyphs">P = 0.0014</text>
<polyline points="343.7,631.9 343.7,634.9 385,634.9 385,631.9" fill="none" stroke="#555" stroke-width="0.5" stroke-linejoin="round"/>
<line x1="363.5" y1="634.9" x2="363.5" y2="637" stroke="#555" stroke-width="0.5"/>
<text x="363.1" y="643" font-size="6.4" text-anchor="middle" fill="#333"><tspan font-style="italic">P</tspan> &lt; 0.0001</text>
<line x1="428.6" y1="558" x2="501.3" y2="558" stroke="#555" stroke-width="0.7"/>
<line x1="501.3" y1="558" x2="501.3" y2="648.8" stroke="#c4c4c4" stroke-width="0.9"/>
<line x1="428.6" y1="558" x2="428.6" y2="648.8" stroke="#555" stroke-width="0.7"/>
<line x1="428.6" y1="648.8" x2="501.3" y2="648.8" stroke="#555" stroke-width="0.7"/>
<line x1="424.6" y1="562.6" x2="428.6" y2="562.6" stroke="#555" stroke-width="0.6"/>
<text x="420.1" y="565.37" font-size="7.8" text-anchor="end" fill="#2a2a2a">1.0</text>
<line x1="424.6" y1="579.1" x2="428.6" y2="579.1" stroke="#555" stroke-width="0.6"/>
<text x="420.1" y="581.87" font-size="7.8" text-anchor="end" fill="#2a2a2a">0.8</text>
<line x1="424.6" y1="595.6" x2="428.6" y2="595.6" stroke="#555" stroke-width="0.6"/>
<text x="420.1" y="598.37" font-size="7.8" text-anchor="end" fill="#2a2a2a">0.6</text>
<line x1="424.6" y1="612.1" x2="428.6" y2="612.1" stroke="#555" stroke-width="0.6"/>
<text x="420.1" y="614.87" font-size="7.8" text-anchor="end" fill="#2a2a2a">0.4</text>
<line x1="424.6" y1="628.6" x2="428.6" y2="628.6" stroke="#555" stroke-width="0.6"/>
<text x="420.1" y="631.37" font-size="7.8" text-anchor="end" fill="#2a2a2a">0.2</text>
<line x1="424.6" y1="645.1" x2="428.6" y2="645.1" stroke="#555" stroke-width="0.6"/>
<text x="420.1" y="647.87" font-size="7.8" text-anchor="end" fill="#2a2a2a">0</text>
<line x1="436.3" y1="574.98" x2="436.3" y2="591.48" stroke="#333" stroke-width="0.55"/>
<line x1="436.3" y1="603.85" x2="436.3" y2="636.85" stroke="#333" stroke-width="0.55"/>
<line x1="434.1" y1="574.98" x2="438.5" y2="574.98" stroke="#333" stroke-width="0.55"/>
<line x1="434.1" y1="636.85" x2="438.5" y2="636.85" stroke="#333" stroke-width="0.55"/>
<rect x="432.5" y="591.48" width="7.6" height="12.38" fill="#d9d9d9" stroke="#333" stroke-width="0.55"/>
<line x1="432.5" y1="595.6" x2="440.1" y2="595.6" stroke="#111" stroke-width="0.9"/>
<line x1="447.65" y1="574.98" x2="447.65" y2="591.48" stroke="#333" stroke-width="0.55"/>
<line x1="447.65" y1="599.73" x2="447.65" y2="628.6" stroke="#333" stroke-width="0.55"/>
<line x1="445.45" y1="574.98" x2="449.85" y2="574.98" stroke="#333" stroke-width="0.55"/>
<line x1="445.45" y1="628.6" x2="449.85" y2="628.6" stroke="#333" stroke-width="0.55"/>
<rect x="443.85" y="591.48" width="7.6" height="8.25" fill="#c75961" stroke="#333" stroke-width="0.55"/>
<line x1="443.85" y1="595.6" x2="451.45" y2="595.6" stroke="#111" stroke-width="0.9"/>
<line x1="456.5" y1="562.6" x2="461.5" y2="562.6" stroke="#222" stroke-width="0.9"/>
<line x1="459" y1="562.6" x2="459" y2="570.85" stroke="#333" stroke-width="0.55"/>
<line x1="456.7" y1="570.85" x2="461.3" y2="570.85" stroke="#333" stroke-width="0.55"/>
<line x1="470.35" y1="570.85" x2="470.35" y2="591.48" stroke="#333" stroke-width="0.55"/>
<line x1="470.35" y1="603.85" x2="470.35" y2="628.6" stroke="#333" stroke-width="0.55"/>
<line x1="468.15" y1="570.85" x2="472.55" y2="570.85" stroke="#333" stroke-width="0.55"/>
<line x1="468.15" y1="628.6" x2="472.55" y2="628.6" stroke="#333" stroke-width="0.55"/>
<rect x="466.55" y="591.48" width="7.6" height="12.38" fill="#9fd6e4" stroke="#333" stroke-width="0.55"/>
<line x1="466.55" y1="599.73" x2="474.15" y2="599.73" stroke="#111" stroke-width="0.9"/>
<line x1="481.7" y1="566.73" x2="481.7" y2="583.23" stroke="#333" stroke-width="0.55"/>
<line x1="481.7" y1="591.48" x2="481.7" y2="612.1" stroke="#333" stroke-width="0.55"/>
<line x1="479.5" y1="566.73" x2="483.9" y2="566.73" stroke="#333" stroke-width="0.55"/>
<line x1="479.5" y1="612.1" x2="483.9" y2="612.1" stroke="#333" stroke-width="0.55"/>
<rect x="477.9" y="583.23" width="7.6" height="8.25" fill="#8cb9f2" stroke="#333" stroke-width="0.55"/>
<line x1="477.9" y1="587.35" x2="485.5" y2="587.35" stroke="#111" stroke-width="0.9"/>
<line x1="493.05" y1="574.98" x2="493.05" y2="595.6" stroke="#333" stroke-width="0.55"/>
<line x1="493.05" y1="607.98" x2="493.05" y2="632.73" stroke="#333" stroke-width="0.55"/>
<line x1="490.85" y1="574.98" x2="495.25" y2="574.98" stroke="#333" stroke-width="0.55"/>
<line x1="490.85" y1="632.73" x2="495.25" y2="632.73" stroke="#333" stroke-width="0.55"/>
<rect x="489.25" y="595.6" width="7.6" height="12.38" fill="#7191cb" stroke="#333" stroke-width="0.55"/>
<line x1="489.25" y1="603.85" x2="496.85" y2="603.85" stroke="#111" stroke-width="0.9"/>
<text x="465.3" y="542.7" font-size="8" text-anchor="middle" fill="#222">RBD</text>
<text x="403.05" y="603.2" font-size="8.74" text-anchor="middle" transform="rotate(-90 403.05 603.2)">GC content</text>
<line x1="436.3" y1="648.8" x2="436.3" y2="653.3" stroke="#555" stroke-width="0.6"/>
<line x1="447.65" y1="648.8" x2="447.65" y2="653.3" stroke="#555" stroke-width="0.6"/>
<line x1="459" y1="648.8" x2="459" y2="653.3" stroke="#555" stroke-width="0.6"/>
<line x1="470.35" y1="648.8" x2="470.35" y2="653.3" stroke="#555" stroke-width="0.6"/>
<line x1="481.7" y1="648.8" x2="481.7" y2="653.3" stroke="#555" stroke-width="0.6"/>
<line x1="493.05" y1="648.8" x2="493.05" y2="653.3" stroke="#555" stroke-width="0.6"/>
<text x="439.3" y="659.6" font-size="7.5" text-anchor="end" transform="rotate(-45 439.3 659.6)" fill="#333">Reference</text>
<text x="450.65" y="659.6" font-size="7.5" text-anchor="end" transform="rotate(-45 450.65 659.6)" fill="#333">GRAPE-LM</text>
<text x="462" y="659.6" font-size="7.5" text-anchor="end" transform="rotate(-45 462 659.6)" fill="#333">RaptGen</text>
<text x="473.35" y="659.6" font-size="7.5" text-anchor="end" transform="rotate(-45 473.35 659.6)" fill="#333">AptaDiff</text>
<text x="484.7" y="659.6" font-size="7.5" text-anchor="end" transform="rotate(-45 484.7 659.6)" fill="#333">AptaMTCS</text>
<text x="496.05" y="659.6" font-size="7.5" text-anchor="end" transform="rotate(-45 496.05 659.6)" fill="#333">AptaTrans</text>
<text x="436" y="565" font-size="5.6" transform="rotate(-45 436 565)" fill="#333">P = 0.5913</text>
<text x="448.8" y="570.5" font-size="6.6" text-anchor="middle" fill="#333">n.s.</text>
<text x="458.7" y="558.38" font-size="7" text-anchor="middle" fill="#222">****</text>
<text x="470.2" y="569.88" font-size="7" text-anchor="middle" fill="#222">****</text>
<text x="481.5" y="566.38" font-size="7" text-anchor="middle" fill="#222">****</text>
<text x="493" y="575.28" font-size="7" text-anchor="middle" fill="#222">****</text>
<polyline points="456.3,631.9 456.3,634.9 498.4,634.9 498.4,631.9" fill="none" stroke="#555" stroke-width="0.5" stroke-linejoin="round"/>
<line x1="477.3" y1="634.9" x2="477.3" y2="637" stroke="#555" stroke-width="0.5"/>
<text x="477.2" y="643" font-size="6.4" text-anchor="middle" fill="#333">P &lt; 0.0001</text>
<text x="520.6" y="535" font-size="12.2" font-weight="bold" fill="#000" stroke="#000" stroke-width="0.3">l</text>
<line x1="559.7" y1="544.3" x2="631.4" y2="544.3" stroke="#b4b4b4" stroke-width="0.9"/>
<line x1="631.4" y1="544.3" x2="631.4" y2="587.6" stroke="#999" stroke-width="0.7"/>
<line x1="559.7" y1="544.3" x2="559.7" y2="587.6" stroke="#555" stroke-width="0.7"/>
<line x1="559.7" y1="587.6" x2="631.4" y2="587.6" stroke="#555" stroke-width="0.7"/>
<line x1="555.7" y1="544.5" x2="559.7" y2="544.5" stroke="#555" stroke-width="0.6"/>
<text x="550.2" y="547.09" font-size="7.3" text-anchor="end" fill="#2a2a2a">1.0</text>
<line x1="555.7" y1="566.05" x2="559.7" y2="566.05" stroke="#555" stroke-width="0.6"/>
<text x="550.2" y="568.64" font-size="7.3" text-anchor="end" fill="#2a2a2a">0.5</text>
<line x1="555.7" y1="587.6" x2="559.7" y2="587.6" stroke="#555" stroke-width="0.6"/>
<text x="550.2" y="590.19" font-size="7.3" text-anchor="end" fill="#2a2a2a">0</text>
<rect x="564.4" y="546.22" width="10" height="41.38" fill="#c75961" stroke="#383838" stroke-width="0.6"/>
<circle cx="566.4" cy="546.22" r="1.05" fill="#fff" stroke="#444" stroke-width="0.45"/>
<circle cx="569.4" cy="546.22" r="1.05" fill="#fff" stroke="#444" stroke-width="0.45"/>
<circle cx="572.4" cy="546.22" r="1.05" fill="#fff" stroke="#444" stroke-width="0.45"/>
<circle cx="579.57" cy="586.8" r="1.05" fill="#fff" stroke="#444" stroke-width="0.45"/>
<circle cx="582.57" cy="586.8" r="1.05" fill="#fff" stroke="#444" stroke-width="0.45"/>
<circle cx="585.57" cy="586.8" r="1.05" fill="#fff" stroke="#444" stroke-width="0.45"/>
<rect x="590.74" y="569.5" width="10" height="18.1" fill="#9fd6e4" stroke="#383838" stroke-width="0.6"/>
<circle cx="592.74" cy="569.5" r="1.05" fill="#fff" stroke="#444" stroke-width="0.45"/>
<circle cx="595.74" cy="569.5" r="1.05" fill="#fff" stroke="#444" stroke-width="0.45"/>
<circle cx="598.74" cy="569.5" r="1.05" fill="#fff" stroke="#444" stroke-width="0.45"/>
<rect x="603.91" y="582.86" width="10" height="4.74" fill="#8cb9f2" stroke="#383838" stroke-width="0.6"/>
<circle cx="605.91" cy="582.86" r="1.05" fill="#fff" stroke="#444" stroke-width="0.45"/>
<circle cx="608.91" cy="582.86" r="1.05" fill="#fff" stroke="#444" stroke-width="0.45"/>
<circle cx="611.91" cy="582.86" r="1.05" fill="#fff" stroke="#444" stroke-width="0.45"/>
<rect x="617.08" y="544.5" width="10" height="43.1" fill="#7191cb" stroke="#383838" stroke-width="0.6"/>
<circle cx="619.08" cy="544.5" r="1.05" fill="#fff" stroke="#444" stroke-width="0.45"/>
<circle cx="622.08" cy="544.5" r="1.05" fill="#fff" stroke="#444" stroke-width="0.45"/>
<circle cx="625.08" cy="544.5" r="1.05" fill="#fff" stroke="#444" stroke-width="0.45"/>
<text x="533.65" y="566.1" font-size="8.74" text-anchor="middle" transform="rotate(-90 533.65 566.1)">Diversity</text>
<text x="641.95" y="566.1" font-size="8.74" text-anchor="middle" transform="rotate(-90 641.95 566.1)">Data A</text>
<text x="584.48" y="575.2" font-size="5.3" transform="rotate(-90 584.48 575.2)" fill="#2a2a2a" textLength="29.1" lengthAdjust="spacingAndGlyphs">P &lt; 0.0001</text>
<text x="582.57" y="584.88" font-size="7" text-anchor="middle" fill="#222">****</text>
<text x="597.65" y="558.9" font-size="5.3" transform="rotate(-90 597.65 558.9)" fill="#2a2a2a" textLength="29.5" lengthAdjust="spacingAndGlyphs">P = 0.0004</text>
<text x="595.74" y="566.58" font-size="7" text-anchor="middle" fill="#222">***</text>
<text x="610.82" y="573.3" font-size="5.3" transform="rotate(-90 610.82 573.3)" fill="#2a2a2a" textLength="28.8" lengthAdjust="spacingAndGlyphs">P &lt; 0.0001</text>
<text x="608.91" y="580.38" font-size="7" text-anchor="middle" fill="#222">****</text>
<text x="621.8" y="543.08" font-size="7" text-anchor="middle" fill="#222">**</text>
<text x="613.9" y="535.3" font-size="6.2" fill="#333">P = 0.0015</text>
<line x1="558.3" y1="605.8" x2="631.9" y2="605.8" stroke="#b4b4b4" stroke-width="0.9"/>
<line x1="631.9" y1="605.8" x2="631.9" y2="649.5" stroke="#999" stroke-width="0.7"/>
<line x1="558.3" y1="605.8" x2="558.3" y2="649.5" stroke="#555" stroke-width="0.7"/>
<line x1="558.3" y1="649.5" x2="631.9" y2="649.5" stroke="#555" stroke-width="0.7"/>
<line x1="554.3" y1="605.8" x2="558.3" y2="605.8" stroke="#555" stroke-width="0.6"/>
<text x="548.8" y="608.39" font-size="7.3" text-anchor="end" fill="#2a2a2a">1.0</text>
<line x1="554.3" y1="627.65" x2="558.3" y2="627.65" stroke="#555" stroke-width="0.6"/>
<text x="548.8" y="630.24" font-size="7.3" text-anchor="end" fill="#2a2a2a">0.5</text>
<line x1="554.3" y1="649.5" x2="558.3" y2="649.5" stroke="#555" stroke-width="0.6"/>
<text x="548.8" y="652.09" font-size="7.3" text-anchor="end" fill="#2a2a2a">0</text>
<rect x="564.4" y="606.24" width="10" height="43.26" fill="#c75961" stroke="#383838" stroke-width="0.6"/>
<circle cx="566.4" cy="606.24" r="1.05" fill="#fff" stroke="#444" stroke-width="0.45"/>
<circle cx="569.4" cy="606.24" r="1.05" fill="#fff" stroke="#444" stroke-width="0.45"/>
<circle cx="572.4" cy="606.24" r="1.05" fill="#fff" stroke="#444" stroke-width="0.45"/>
<circle cx="579.57" cy="648.7" r="1.05" fill="#fff" stroke="#444" stroke-width="0.45"/>
<circle cx="582.57" cy="648.7" r="1.05" fill="#fff" stroke="#444" stroke-width="0.45"/>
<circle cx="585.57" cy="648.7" r="1.05" fill="#fff" stroke="#444" stroke-width="0.45"/>
<rect x="590.74" y="642.94" width="10" height="6.56" fill="#9fd6e4" stroke="#383838" stroke-width="0.6"/>
<circle cx="592.74" cy="642.94" r="1.05" fill="#fff" stroke="#444" stroke-width="0.45"/>
<circle cx="595.74" cy="642.94" r="1.05" fill="#fff" stroke="#444" stroke-width="0.45"/>
<circle cx="598.74" cy="642.94" r="1.05" fill="#fff" stroke="#444" stroke-width="0.45"/>
<rect x="603.91" y="644.26" width="10" height="5.24" fill="#8cb9f2" stroke="#383838" stroke-width="0.6"/>
<circle cx="605.91" cy="644.26" r="1.05" fill="#fff" stroke="#444" stroke-width="0.45"/>
<circle cx="608.91" cy="644.26" r="1.05" fill="#fff" stroke="#444" stroke-width="0.45"/>
<circle cx="611.91" cy="644.26" r="1.05" fill="#fff" stroke="#444" stroke-width="0.45"/>
<rect x="617.08" y="605.8" width="10" height="43.7" fill="#7191cb" stroke="#383838" stroke-width="0.6"/>
<circle cx="619.08" cy="605.8" r="1.05" fill="#fff" stroke="#444" stroke-width="0.45"/>
<circle cx="622.08" cy="605.8" r="1.05" fill="#fff" stroke="#444" stroke-width="0.45"/>
<circle cx="625.08" cy="605.8" r="1.05" fill="#fff" stroke="#444" stroke-width="0.45"/>
<text x="533.65" y="627.3" font-size="8.74" text-anchor="middle" transform="rotate(-90 533.65 627.3)">Diversity</text>
<text x="641.95" y="627.3" font-size="8.74" text-anchor="middle" transform="rotate(-90 641.95 627.3)">Data B</text>
<text x="584.48" y="635.4" font-size="5.3" transform="rotate(-90 584.48 635.4)" fill="#2a2a2a" textLength="29" lengthAdjust="spacingAndGlyphs">P &lt; 0.0001</text>
<text x="582.57" y="646.08" font-size="7" text-anchor="middle" fill="#222">****</text>
<text x="597.65" y="633.4" font-size="5.3" transform="rotate(-90 597.65 633.4)" fill="#2a2a2a" textLength="30.1" lengthAdjust="spacingAndGlyphs">P = 0.0008</text>
<text x="595.74" y="641.28" font-size="7" text-anchor="middle" fill="#222">***</text>
<text x="610.82" y="633.4" font-size="5.3" transform="rotate(-90 610.82 633.4)" fill="#2a2a2a" textLength="30.1" lengthAdjust="spacingAndGlyphs">P &lt; 0.0001</text>
<text x="608.91" y="641.28" font-size="7" text-anchor="middle" fill="#222">****</text>
<text x="620.5" y="605.28" font-size="7" text-anchor="middle" fill="#222">***</text>
<text x="626.1" y="599.6" font-size="6.2" fill="#333">P = 0.0006</text>
<line x1="569.4" y1="649.5" x2="569.4" y2="653.5" stroke="#555" stroke-width="0.6"/>
<line x1="582.57" y1="649.5" x2="582.57" y2="653.5" stroke="#555" stroke-width="0.6"/>
<line x1="595.74" y1="649.5" x2="595.74" y2="653.5" stroke="#555" stroke-width="0.6"/>
<line x1="608.91" y1="649.5" x2="608.91" y2="653.5" stroke="#555" stroke-width="0.6"/>
<line x1="622.08" y1="649.5" x2="622.08" y2="653.5" stroke="#555" stroke-width="0.6"/>
<text x="572.4" y="659.3" font-size="7.2" text-anchor="end" transform="rotate(-45 572.4 659.3)" fill="#333">GRAPE-LM</text>
<text x="585.57" y="659.3" font-size="7.2" text-anchor="end" transform="rotate(-45 585.57 659.3)" fill="#333">RaptGen</text>
<text x="598.74" y="659.3" font-size="7.2" text-anchor="end" transform="rotate(-45 598.74 659.3)" fill="#333">AptaDiff</text>
<text x="611.91" y="659.3" font-size="7.2" text-anchor="end" transform="rotate(-45 611.91 659.3)" fill="#333">AptaMTCS</text>
<text x="625.08" y="659.3" font-size="7.2" text-anchor="end" transform="rotate(-45 625.08 659.3)" fill="#333">AptaTrans</text>
</svg></body></html>
